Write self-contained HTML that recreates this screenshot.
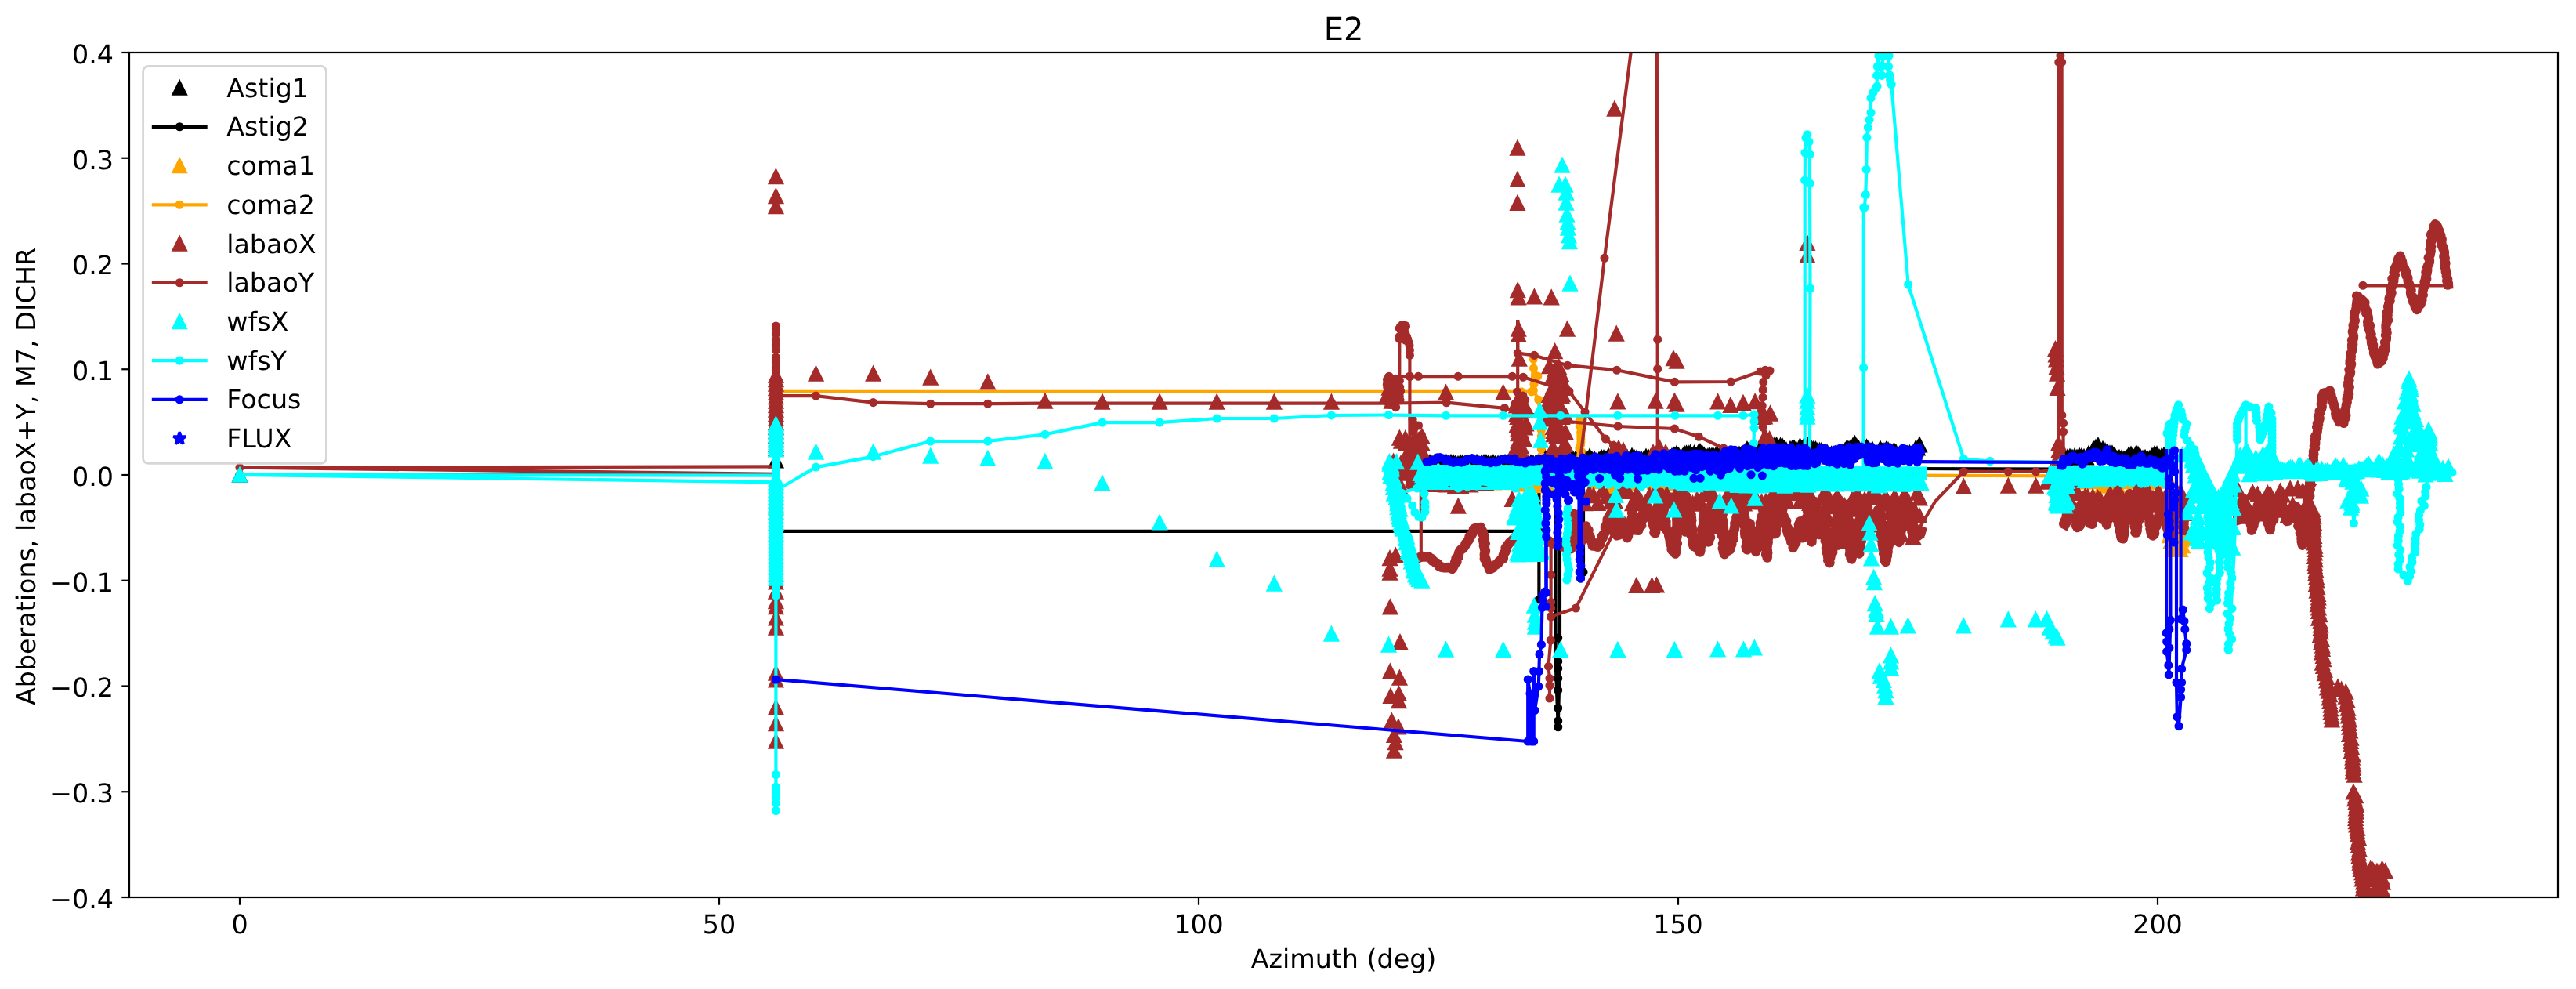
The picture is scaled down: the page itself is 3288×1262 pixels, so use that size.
<!DOCTYPE html><html><head><meta charset="utf-8"><title>E2</title>
<style>html,body{margin:0;padding:0;background:#fff}svg{display:block;will-change:transform}text{font-family:"DejaVu Sans","Liberation Sans",sans-serif;font-size:33.333px;fill:#000;text-rendering:geometricPrecision}</style></head><body>
<svg width="3288" height="1262" viewBox="0 0 3288 1262">
<rect width="3288" height="1262" fill="#fff"/>
<clipPath id="ax"><rect x="165.0" y="67.0" width="3100.0" height="1078.0"/></clipPath>
<g clip-path="url(#ax)">
<path d="M306 597.7l-8.3 16.7h16.7zM990.4 579.4l-8.3 16.7h16.7zM1822 582.5l-8.3 16.7h16.7zM1825 582.1l-8.3 16.7h16.7zM1828 583.3l-8.3 16.7h16.7zM1831 581.9l-8.3 16.7h16.7zM1834 583.1l-8.3 16.7h16.7zM1837 582.6l-8.3 16.7h16.7zM1840 581.9l-8.3 16.7h16.7zM1843 583l-8.3 16.7h16.7zM1846 581.9l-8.3 16.7h16.7zM1849 582.8l-8.3 16.7h16.7zM1852 581.9l-8.3 16.7h16.7zM1855 582l-8.3 16.7h16.7zM1858 582.8l-8.3 16.7h16.7zM1861 583.8l-8.3 16.7h16.7zM1864 582.1l-8.3 16.7h16.7zM1867 582.3l-8.3 16.7h16.7zM1870 583.3l-8.3 16.7h16.7zM1873 584l-8.3 16.7h16.7zM1876 583.2l-8.3 16.7h16.7zM1879 582.7l-8.3 16.7h16.7zM1882 584.1l-8.3 16.7h16.7zM1885 581.9l-8.3 16.7h16.7zM1888 583.8l-8.3 16.7h16.7zM1891 582.5l-8.3 16.7h16.7zM1894 582.1l-8.3 16.7h16.7zM1897 582l-8.3 16.7h16.7zM1900 582.5l-8.3 16.7h16.7zM1903 583.7l-8.3 16.7h16.7zM1906 582.2l-8.3 16.7h16.7zM1909 583.2l-8.3 16.7h16.7zM1912 583.3l-8.3 16.7h16.7zM1915 582.7l-8.3 16.7h16.7zM1918 583.1l-8.3 16.7h16.7zM1921 581.9l-8.3 16.7h16.7zM1924 581.9l-8.3 16.7h16.7zM1927 582.3l-8.3 16.7h16.7zM1930 583.4l-8.3 16.7h16.7zM1933 582.8l-8.3 16.7h16.7zM1936 582.5l-8.3 16.7h16.7zM1939 583.2l-8.3 16.7h16.7zM1942 582.9l-8.3 16.7h16.7zM1945 582.5l-8.3 16.7h16.7zM1948 583.7l-8.3 16.7h16.7zM1951 583.4l-8.3 16.7h16.7zM1954 582.4l-8.3 16.7h16.7zM1957 583.1l-8.3 16.7h16.7zM1960 583l-8.3 16.7h16.7zM1963 583.9l-8.3 16.7h16.7zM1966 583.5l-8.3 16.7h16.7zM1969 582.5l-8.3 16.7h16.7zM1972 584.1l-8.3 16.7h16.7zM1972 575.4l-8.3 16.7h16.7zM1975 577.1l-8.3 16.7h16.7zM1978 579.1l-8.3 16.7h16.7zM1981 575.5l-8.3 16.7h16.7zM1984 577.4l-8.3 16.7h16.7zM1987 574.7l-8.3 16.7h16.7zM1990 578.4l-8.3 16.7h16.7zM1993 579l-8.3 16.7h16.7zM1996 577.8l-8.3 16.7h16.7zM1999 579.6l-8.3 16.7h16.7zM2002 576.2l-8.3 16.7h16.7zM2005 578.4l-8.3 16.7h16.7zM2008 577.8l-8.3 16.7h16.7zM2011 577.6l-8.3 16.7h16.7zM2014 576.9l-8.3 16.7h16.7zM2017 579.1l-8.3 16.7h16.7zM2020 579.7l-8.3 16.7h16.7zM2023 576.9l-8.3 16.7h16.7zM2026 578l-8.3 16.7h16.7zM2029 574.3l-8.3 16.7h16.7zM2032 578.1l-8.3 16.7h16.7zM2035 577.7l-8.3 16.7h16.7zM2038 579.8l-8.3 16.7h16.7zM2041 578.7l-8.3 16.7h16.7zM2044 575.5l-8.3 16.7h16.7zM2047 576l-8.3 16.7h16.7zM2050 577.7l-8.3 16.7h16.7zM2053 573.8l-8.3 16.7h16.7zM2056 576.3l-8.3 16.7h16.7zM2059 574.5l-8.3 16.7h16.7zM2062 574.2l-8.3 16.7h16.7zM2065 573.8l-8.3 16.7h16.7zM2068 578l-8.3 16.7h16.7zM2071 574.1l-8.3 16.7h16.7zM2074 574.8l-8.3 16.7h16.7zM2077 575.6l-8.3 16.7h16.7zM2080 578.4l-8.3 16.7h16.7zM2083 573.6l-8.3 16.7h16.7zM2086 575.8l-8.3 16.7h16.7zM2089 576.3l-8.3 16.7h16.7zM2092 578.3l-8.3 16.7h16.7zM2095 577.9l-8.3 16.7h16.7zM2098 578.1l-8.3 16.7h16.7zM2101 574.5l-8.3 16.7h16.7zM2104 575.3l-8.3 16.7h16.7zM2107 574.9l-8.3 16.7h16.7zM2110 578l-8.3 16.7h16.7zM2113 578.4l-8.3 16.7h16.7zM2116 573.5l-8.3 16.7h16.7zM2119 573.6l-8.3 16.7h16.7zM2122 573.9l-8.3 16.7h16.7zM2125 573.9l-8.3 16.7h16.7zM2128 575.3l-8.3 16.7h16.7zM2131 575.9l-8.3 16.7h16.7zM2134 573.9l-8.3 16.7h16.7zM2137 572.3l-8.3 16.7h16.7zM2140 574.7l-8.3 16.7h16.7zM2140 570.5l-8.3 16.7h16.7zM2142.5 572.8l-8.3 16.7h16.7zM2145 576l-8.3 16.7h16.7zM2147.5 574.3l-8.3 16.7h16.7zM2150 570.6l-8.3 16.7h16.7zM2152.5 570.4l-8.3 16.7h16.7zM2155 570.1l-8.3 16.7h16.7zM2157.5 569.6l-8.3 16.7h16.7zM2160 573l-8.3 16.7h16.7zM2162.5 570.2l-8.3 16.7h16.7zM2165 573.2l-8.3 16.7h16.7zM2167.5 569.8l-8.3 16.7h16.7zM2170 568.1l-8.3 16.7h16.7zM2172.5 569.8l-8.3 16.7h16.7zM2175 572.4l-8.3 16.7h16.7zM2177.5 574l-8.3 16.7h16.7zM2180 574.1l-8.3 16.7h16.7zM2182.5 573.7l-8.3 16.7h16.7zM2185 573.4l-8.3 16.7h16.7zM2187.5 574.1l-8.3 16.7h16.7zM2190 572.9l-8.3 16.7h16.7zM2192.5 572.9l-8.3 16.7h16.7zM2195 573.6l-8.3 16.7h16.7zM2197.5 572.8l-8.3 16.7h16.7zM2200 573.9l-8.3 16.7h16.7zM2202.5 574.3l-8.3 16.7h16.7zM2205 577.9l-8.3 16.7h16.7zM2207.5 577.2l-8.3 16.7h16.7zM2210 574.8l-8.3 16.7h16.7zM2212.5 572.8l-8.3 16.7h16.7zM2215 572l-8.3 16.7h16.7zM2217.5 573.4l-8.3 16.7h16.7zM2220 571.6l-8.3 16.7h16.7zM2222.5 571.8l-8.3 16.7h16.7zM2225 575.3l-8.3 16.7h16.7zM2227.5 568l-8.3 16.7h16.7zM2230 565.2l-8.3 16.7h16.7zM2232.5 565.9l-8.3 16.7h16.7zM2235 566.8l-8.3 16.7h16.7zM2237.5 567.2l-8.3 16.7h16.7zM2240 566l-8.3 16.7h16.7zM2242.5 567.5l-8.3 16.7h16.7zM2245 567.8l-8.3 16.7h16.7zM2247.5 566.2l-8.3 16.7h16.7zM2250 571.7l-8.3 16.7h16.7zM2252.5 571.5l-8.3 16.7h16.7zM2255 569.2l-8.3 16.7h16.7zM2257.5 568.3l-8.3 16.7h16.7zM2260 567.2l-8.3 16.7h16.7zM2262.5 566.8l-8.3 16.7h16.7zM2265 560.2l-8.3 16.7h16.7zM2267.5 559.9l-8.3 16.7h16.7zM2270 563l-8.3 16.7h16.7zM2272.5 560.7l-8.3 16.7h16.7zM2275 561.2l-8.3 16.7h16.7zM2277.5 564l-8.3 16.7h16.7zM2280 566.2l-8.3 16.7h16.7zM2282.5 569.5l-8.3 16.7h16.7zM2285 564.9l-8.3 16.7h16.7zM2287.5 564.2l-8.3 16.7h16.7zM2290 563.5l-8.3 16.7h16.7zM2292.5 565.2l-8.3 16.7h16.7zM2295 567.8l-8.3 16.7h16.7zM2297.5 561.2l-8.3 16.7h16.7zM2300 564.3l-8.3 16.7h16.7zM2302.5 561.1l-8.3 16.7h16.7zM2305 563.3l-8.3 16.7h16.7zM2307.5 560.2l-8.3 16.7h16.7zM2310 561.3l-8.3 16.7h16.7zM2312.5 564.7l-8.3 16.7h16.7zM2315 564.4l-8.3 16.7h16.7zM2317.5 565l-8.3 16.7h16.7zM2320 566.8l-8.3 16.7h16.7zM2322.5 566.9l-8.3 16.7h16.7zM2325 566.5l-8.3 16.7h16.7zM2327.5 569.8l-8.3 16.7h16.7zM2330 571.5l-8.3 16.7h16.7zM2332.5 569.9l-8.3 16.7h16.7zM2335 574.3l-8.3 16.7h16.7zM2337.5 571.3l-8.3 16.7h16.7zM2340 572.5l-8.3 16.7h16.7zM2342.5 570.8l-8.3 16.7h16.7zM2345 570.3l-8.3 16.7h16.7zM2347.5 571.1l-8.3 16.7h16.7zM2350 570.8l-8.3 16.7h16.7zM2352.5 571.4l-8.3 16.7h16.7zM2355 566.9l-8.3 16.7h16.7zM2357.5 563.2l-8.3 16.7h16.7zM2360 564.9l-8.3 16.7h16.7zM2362.5 562.7l-8.3 16.7h16.7zM2365 560.7l-8.3 16.7h16.7zM2367.5 557.9l-8.3 16.7h16.7zM2370 561.9l-8.3 16.7h16.7zM2372.5 564.1l-8.3 16.7h16.7zM2375 567.7l-8.3 16.7h16.7zM2377.5 565.1l-8.3 16.7h16.7zM2380 565.1l-8.3 16.7h16.7zM2382.5 562.4l-8.3 16.7h16.7zM2385 564.6l-8.3 16.7h16.7zM2387.5 568.3l-8.3 16.7h16.7zM2390 565.7l-8.3 16.7h16.7zM2392.5 569.2l-8.3 16.7h16.7zM2395 570.9l-8.3 16.7h16.7zM2397.5 569.5l-8.3 16.7h16.7zM2400 564.3l-8.3 16.7h16.7zM2402.5 567.6l-8.3 16.7h16.7zM2405 567l-8.3 16.7h16.7zM2407.5 565.3l-8.3 16.7h16.7zM2410 566.1l-8.3 16.7h16.7zM2412.5 566.9l-8.3 16.7h16.7zM2415 570l-8.3 16.7h16.7zM2417.5 566.9l-8.3 16.7h16.7zM2420 569.2l-8.3 16.7h16.7zM2422.5 572l-8.3 16.7h16.7zM2425 573.9l-8.3 16.7h16.7zM2427.5 572.4l-8.3 16.7h16.7zM2430 569.5l-8.3 16.7h16.7zM2432.5 571.1l-8.3 16.7h16.7zM2435 570.4l-8.3 16.7h16.7zM2437.5 569.9l-8.3 16.7h16.7zM2440 572.4l-8.3 16.7h16.7zM2442.5 570.6l-8.3 16.7h16.7zM2445 564.4l-8.3 16.7h16.7zM2447.5 563.5l-8.3 16.7h16.7zM2450 559.4l-8.3 16.7h16.7zM2633 578.8l-8.3 16.7h16.7zM2636 578l-8.3 16.7h16.7zM2639 575.2l-8.3 16.7h16.7zM2642 574.5l-8.3 16.7h16.7zM2645 575.5l-8.3 16.7h16.7zM2648 574.1l-8.3 16.7h16.7zM2651 575.6l-8.3 16.7h16.7zM2654 573.3l-8.3 16.7h16.7zM2657 573.9l-8.3 16.7h16.7zM2660 574.8l-8.3 16.7h16.7zM2663 575.4l-8.3 16.7h16.7zM2666 570.7l-8.3 16.7h16.7zM2669 570.8l-8.3 16.7h16.7zM2672 564.7l-8.3 16.7h16.7zM2675 562.5l-8.3 16.7h16.7zM2678 560.1l-8.3 16.7h16.7zM2681 565.9l-8.3 16.7h16.7zM2684 564.8l-8.3 16.7h16.7zM2687 567.2l-8.3 16.7h16.7zM2690 568.7l-8.3 16.7h16.7zM2693 570.3l-8.3 16.7h16.7zM2696 570.4l-8.3 16.7h16.7zM2699 572.7l-8.3 16.7h16.7zM2702 577.1l-8.3 16.7h16.7zM2705 575.9l-8.3 16.7h16.7zM2708 576.3l-8.3 16.7h16.7zM2711 577.5l-8.3 16.7h16.7zM2714 575.8l-8.3 16.7h16.7zM2717 572.5l-8.3 16.7h16.7zM2720 572.1l-8.3 16.7h16.7zM2723 575.3l-8.3 16.7h16.7zM2726 571.5l-8.3 16.7h16.7zM2729 571.5l-8.3 16.7h16.7zM2732 574.9l-8.3 16.7h16.7zM2735 576.6l-8.3 16.7h16.7zM2738 575.9l-8.3 16.7h16.7zM2741 577.3l-8.3 16.7h16.7zM2744 576.7l-8.3 16.7h16.7zM2747 573.6l-8.3 16.7h16.7zM2750 571l-8.3 16.7h16.7zM2753 571.4l-8.3 16.7h16.7zM2756 575l-8.3 16.7h16.7zM2759 574l-8.3 16.7h16.7zM2762 572.7l-8.3 16.7h16.7zM2765 572.3l-8.3 16.7h16.7zM2768 570.5l-8.3 16.7h16.7zM2676.5 564.7l-8.3 16.7h16.7zM2727 570.7l-8.3 16.7h16.7zM2720 571.7l-8.3 16.7h16.7z" fill="#000000" stroke="#000000" stroke-width="2.78" stroke-linejoin="miter"/>
<path d="M306 606L990.4 606L990.4 677.8L1964.4 677.8L1964.4 765L1964.4 592" fill="none" stroke="#000000" stroke-width="4.17" stroke-linejoin="round" stroke-linecap="square"/>
<path d="M306 606h0M990.4 606h0M990.4 677.8h0M1964.4 677.8h0M1964.4 765h0M1964.4 592h0" fill="none" stroke="#000000" stroke-width="11.11" stroke-linecap="round"/>
<path d="M1985.6 592L1985.6 841L1988.7 927.7L1991 841L1991 592" fill="none" stroke="#000000" stroke-width="4.17" stroke-linejoin="round" stroke-linecap="square"/>
<path d="M1988.7 814h0M1988.7 844h0M1988.7 853h0M1988.7 865.6h0M1988.7 880.7h0M1988.7 903.5h0M1988.7 920h0M1988.7 927.7h0" fill="none" stroke="#000000" stroke-width="11.11" stroke-linecap="round"/>
<path d="M2017.5 592L2017.5 738L2021 730L2021 592" fill="none" stroke="#000000" stroke-width="4.17" stroke-linejoin="round" stroke-linecap="square"/>
<path d="M2017.5 592h0M2017.5 738h0M2021 730h0M2021 592h0" fill="none" stroke="#000000" stroke-width="11.11" stroke-linecap="round"/>
<path d="M2440 598L2640 598.6" fill="none" stroke="#000000" stroke-width="4.17" stroke-linejoin="round" stroke-linecap="square"/>
<path d="M990.4 638.7l-8.3 16.7h16.7zM990.4 631.7l-8.3 16.7h16.7zM1822 602.3l-8.3 16.7h16.7zM1827 598.5l-8.3 16.7h16.7zM1832 603.9l-8.3 16.7h16.7zM1837 594.4l-8.3 16.7h16.7zM1842 603.8l-8.3 16.7h16.7zM1847 600.4l-8.3 16.7h16.7zM1852 595.9l-8.3 16.7h16.7zM1857 605.2l-8.3 16.7h16.7zM1862 601.7l-8.3 16.7h16.7zM1867 594.9l-8.3 16.7h16.7zM1872 599.6l-8.3 16.7h16.7zM1877 603.7l-8.3 16.7h16.7zM1882 601.1l-8.3 16.7h16.7zM1887 605.4l-8.3 16.7h16.7zM1892 605.3l-8.3 16.7h16.7zM1897 605l-8.3 16.7h16.7zM1902 603.8l-8.3 16.7h16.7zM1907 607.3l-8.3 16.7h16.7zM1912 605l-8.3 16.7h16.7zM1917 604.2l-8.3 16.7h16.7zM1922 595.4l-8.3 16.7h16.7zM1927 605.8l-8.3 16.7h16.7zM1932 607.2l-8.3 16.7h16.7zM1937 601.6l-8.3 16.7h16.7zM1942 601l-8.3 16.7h16.7zM1947 609.5l-8.3 16.7h16.7zM1952 596.5l-8.3 16.7h16.7zM1957 604.3l-8.3 16.7h16.7zM1962 611.2l-8.3 16.7h16.7zM1967 599.4l-8.3 16.7h16.7zM1972 605.1l-8.3 16.7h16.7zM1977 609.3l-8.3 16.7h16.7zM1982 602.2l-8.3 16.7h16.7zM1987 604.6l-8.3 16.7h16.7zM1992 605.8l-8.3 16.7h16.7zM1997 599.5l-8.3 16.7h16.7zM2002 602.4l-8.3 16.7h16.7zM2007 603.7l-8.3 16.7h16.7zM2012 605.6l-8.3 16.7h16.7zM2017 602.5l-8.3 16.7h16.7zM2022 602l-8.3 16.7h16.7zM2027 599.1l-8.3 16.7h16.7zM2032 601.4l-8.3 16.7h16.7zM2037 605.8l-8.3 16.7h16.7zM2042 603l-8.3 16.7h16.7zM2047 599.7l-8.3 16.7h16.7zM2052 599.7l-8.3 16.7h16.7zM2057 612l-8.3 16.7h16.7zM2062 606.7l-8.3 16.7h16.7zM2067 604.9l-8.3 16.7h16.7zM2072 593.6l-8.3 16.7h16.7zM2077 604.8l-8.3 16.7h16.7zM2082 604.3l-8.3 16.7h16.7zM2087 608.6l-8.3 16.7h16.7zM2092 604.2l-8.3 16.7h16.7zM2097 602.4l-8.3 16.7h16.7zM2102 604.5l-8.3 16.7h16.7zM2107 595.9l-8.3 16.7h16.7zM2112 606.3l-8.3 16.7h16.7zM2117 603.8l-8.3 16.7h16.7zM2122 600.2l-8.3 16.7h16.7zM2127 607.3l-8.3 16.7h16.7zM2132 609l-8.3 16.7h16.7zM2137 597.8l-8.3 16.7h16.7zM2142 600.3l-8.3 16.7h16.7zM2147 603.7l-8.3 16.7h16.7zM2152 603.3l-8.3 16.7h16.7zM2157 601.3l-8.3 16.7h16.7zM2162 599.3l-8.3 16.7h16.7zM2167 610.1l-8.3 16.7h16.7zM2172 606.3l-8.3 16.7h16.7zM2177 598.5l-8.3 16.7h16.7zM2182 598l-8.3 16.7h16.7zM2187 608.6l-8.3 16.7h16.7zM2192 606.1l-8.3 16.7h16.7zM2197 609l-8.3 16.7h16.7zM2202 605.5l-8.3 16.7h16.7zM2207 599.6l-8.3 16.7h16.7zM2212 603.6l-8.3 16.7h16.7zM2217 595.1l-8.3 16.7h16.7zM2222 600l-8.3 16.7h16.7zM2227 602.5l-8.3 16.7h16.7zM2232 604.5l-8.3 16.7h16.7zM2237 600.1l-8.3 16.7h16.7zM2242 602.2l-8.3 16.7h16.7zM2247 604.3l-8.3 16.7h16.7zM2252 604l-8.3 16.7h16.7zM2257 604.9l-8.3 16.7h16.7zM2262 603.4l-8.3 16.7h16.7zM2267 601.5l-8.3 16.7h16.7zM2272 605.4l-8.3 16.7h16.7zM2277 602.8l-8.3 16.7h16.7zM2282 599.8l-8.3 16.7h16.7zM2287 600.5l-8.3 16.7h16.7zM2292 602.7l-8.3 16.7h16.7zM2297 602.3l-8.3 16.7h16.7zM2302 603.2l-8.3 16.7h16.7zM2307 602.7l-8.3 16.7h16.7zM2312 603.3l-8.3 16.7h16.7zM2317 602.2l-8.3 16.7h16.7zM2322 598.3l-8.3 16.7h16.7zM2327 604.1l-8.3 16.7h16.7zM2332 606.4l-8.3 16.7h16.7zM2337 604.2l-8.3 16.7h16.7zM2342 602l-8.3 16.7h16.7zM2347 604.2l-8.3 16.7h16.7zM2352 599.3l-8.3 16.7h16.7zM2357 596l-8.3 16.7h16.7zM2362 602.9l-8.3 16.7h16.7zM2367 599.4l-8.3 16.7h16.7zM2372 605.3l-8.3 16.7h16.7zM2377 598.9l-8.3 16.7h16.7zM2382 593.5l-8.3 16.7h16.7zM2387 599l-8.3 16.7h16.7zM2392 608.2l-8.3 16.7h16.7zM2397 601.3l-8.3 16.7h16.7zM2402 597.9l-8.3 16.7h16.7zM2407 600l-8.3 16.7h16.7zM2412 604.5l-8.3 16.7h16.7zM2417 604.4l-8.3 16.7h16.7zM2422 603.3l-8.3 16.7h16.7zM2427 607.9l-8.3 16.7h16.7zM2432 605.1l-8.3 16.7h16.7zM2437 602.6l-8.3 16.7h16.7zM2442 604.8l-8.3 16.7h16.7zM2447 608.5l-8.3 16.7h16.7zM2633 606.1l-8.3 16.7h16.7zM2638 606.3l-8.3 16.7h16.7zM2643 598.9l-8.3 16.7h16.7zM2648 602.1l-8.3 16.7h16.7zM2653 605.2l-8.3 16.7h16.7zM2658 601.6l-8.3 16.7h16.7zM2663 606.4l-8.3 16.7h16.7zM2668 604.8l-8.3 16.7h16.7zM2673 605.8l-8.3 16.7h16.7zM2678 601.9l-8.3 16.7h16.7zM2683 611.6l-8.3 16.7h16.7zM2688 607l-8.3 16.7h16.7zM2693 601.9l-8.3 16.7h16.7zM2698 603l-8.3 16.7h16.7zM2703 611.8l-8.3 16.7h16.7zM2708 601.5l-8.3 16.7h16.7zM2713 605.7l-8.3 16.7h16.7zM2718 606.1l-8.3 16.7h16.7zM2723 602.7l-8.3 16.7h16.7zM2728 598.6l-8.3 16.7h16.7zM2733 603.3l-8.3 16.7h16.7zM2738 603.9l-8.3 16.7h16.7zM2743 606.6l-8.3 16.7h16.7zM2748 605.4l-8.3 16.7h16.7zM2753 602.8l-8.3 16.7h16.7zM2758 605.7l-8.3 16.7h16.7zM2763 604.6l-8.3 16.7h16.7zM2768 603.4l-8.3 16.7h16.7zM2774.7 654.6l-8.3 16.7h16.7zM2780.9 658.4l-8.3 16.7h16.7zM2784.5 661.5l-8.3 16.7h16.7zM2783.8 665l-8.3 16.7h16.7zM2776.6 665.4l-8.3 16.7h16.7zM2789.7 667.3l-8.3 16.7h16.7zM2783.9 671.8l-8.3 16.7h16.7zM2769 675.2l-8.3 16.7h16.7zM2787.6 677l-8.3 16.7h16.7zM2784.1 680.3l-8.3 16.7h16.7zM2771.1 681.8l-8.3 16.7h16.7zM2779.1 685.6l-8.3 16.7h16.7zM2785.7 688.2l-8.3 16.7h16.7zM2780.8 691l-8.3 16.7h16.7zM2783 692.8l-8.3 16.7h16.7zM2773.1 692.8l-8.3 16.7h16.7z" fill="#ffa500" stroke="#ffa500" stroke-width="2.78" stroke-linejoin="miter"/>
<path d="M990.4 499.9L1942 499.9L1955 499.9L1957.3 458.2L1957.5 470L1962.8 480L1958 490L1957.3 498.3L1963.7 510L1965.5 530L1967.3 549L1967.3 557L1967.3 565L1967.3 573L1967.3 582L1970 606" fill="none" stroke="#ffa500" stroke-width="4.17" stroke-linejoin="round" stroke-linecap="square"/>
<path d="M1942 499.9h0M1955 499.9h0M1957.3 458.2h0M1957.5 470h0M1962.8 480h0M1958 490h0M1957.3 498.3h0M1963.7 510h0M1965.5 530h0M1967.3 549h0M1967.3 557h0M1967.3 565h0M1967.3 573h0M1967.3 582h0M1970 606h0" fill="none" stroke="#ffa500" stroke-width="11.11" stroke-linecap="round"/>
<path d="M2014 606L2016 536L2018 606" fill="none" stroke="#ffa500" stroke-width="4.17" stroke-linejoin="round" stroke-linecap="square"/>
<path d="M2016.3 536h0M2017 540h0M2016.2 544h0M2018.4 548h0M2017.6 552h0M2017.8 556h0M2017.8 560h0M2017.9 564h0M2017.4 568h0M2015.9 572h0M2018.3 576h0M2018.1 580h0M2017.4 584h0" fill="none" stroke="#ffa500" stroke-width="11.11" stroke-linecap="round"/>
<path d="M1970 608L2451 608L2451 606.7L2640 607.4L2768 608" fill="none" stroke="#ffa500" stroke-width="4.17" stroke-linejoin="round" stroke-linecap="square"/>
<path d="M990.4 217.2l-8.3 16.7h16.7zM990.4 242.1l-8.3 16.7h16.7zM990.4 255.1l-8.3 16.7h16.7zM990.4 470.7l-8.3 16.7h16.7zM990.4 476.2l-8.3 16.7h16.7zM990.4 481.7l-8.3 16.7h16.7zM990.4 487.2l-8.3 16.7h16.7zM990.4 492.7l-8.3 16.7h16.7zM990.4 498.2l-8.3 16.7h16.7zM990.4 503.7l-8.3 16.7h16.7zM990.4 509.2l-8.3 16.7h16.7zM990.4 514.7l-8.3 16.7h16.7zM990.4 520.2l-8.3 16.7h16.7zM990.4 525.7l-8.3 16.7h16.7zM990.4 531.2l-8.3 16.7h16.7zM990.4 536.7l-8.3 16.7h16.7zM990.4 542.2l-8.3 16.7h16.7zM990.4 547.7l-8.3 16.7h16.7zM990.4 553.2l-8.3 16.7h16.7zM990.4 558.7l-8.3 16.7h16.7zM990.4 564.2l-8.3 16.7h16.7zM990.4 734.4l-8.3 16.7h16.7zM990.4 746.7l-8.3 16.7h16.7zM990.4 759.1l-8.3 16.7h16.7zM990.4 766.2l-8.3 16.7h16.7zM990.4 780.4l-8.3 16.7h16.7zM990.4 792.7l-8.3 16.7h16.7zM990.4 850.6l-8.3 16.7h16.7zM990.4 859.3l-8.3 16.7h16.7zM990.4 894.5l-8.3 16.7h16.7zM990.4 915.1l-8.3 16.7h16.7zM990.4 937.7l-8.3 16.7h16.7zM1041.5 468.6l-8.3 16.7h16.7zM1114.6 468.6l-8.3 16.7h16.7zM1187.7 473.7l-8.3 16.7h16.7zM1260.8 479.3l-8.3 16.7h16.7zM1333.9 503.7l-8.3 16.7h16.7zM1407 504.6l-8.3 16.7h16.7zM1480.1 504.6l-8.3 16.7h16.7zM1553.2 504.6l-8.3 16.7h16.7zM1626.3 504.6l-8.3 16.7h16.7zM1699.4 504.6l-8.3 16.7h16.7zM1772.5 496.7l-8.3 16.7h16.7zM1845.6 492.7l-8.3 16.7h16.7zM1918.7 492.7l-8.3 16.7h16.7zM2064.9 504.4l-8.3 16.7h16.7zM2113.1 503.6l-8.3 16.7h16.7zM2137.4 503.7l-8.3 16.7h16.7zM2192.6 504.4l-8.3 16.7h16.7zM2208.8 508.8l-8.3 16.7h16.7zM2225 505.8l-8.3 16.7h16.7zM2240.1 504.2l-8.3 16.7h16.7zM1770 496.7l-8.3 16.7h16.7zM1773 486.7l-8.3 16.7h16.7zM1776 503.7l-8.3 16.7h16.7zM1774 704.2l-8.3 16.7h16.7zM1781.4 700.5l-8.3 16.7h16.7zM1774 717.7l-8.3 16.7h16.7zM1774 722.7l-8.3 16.7h16.7zM1774.3 766.3l-8.3 16.7h16.7zM1787 811.2l-8.3 16.7h16.7zM1774.3 848.7l-8.3 16.7h16.7zM1786.4 856.7l-8.3 16.7h16.7zM1774.9 880l-8.3 16.7h16.7zM1785.5 877l-8.3 16.7h16.7zM1785.5 886.1l-8.3 16.7h16.7zM1776.4 911.7l-8.3 16.7h16.7zM1784.9 919.4l-8.3 16.7h16.7zM1779.4 930l-8.3 16.7h16.7zM1781 939.1l-8.3 16.7h16.7zM1779.4 949.7l-8.3 16.7h16.7zM1802.6 579.3l-8.3 16.7h16.7zM1788 583l-8.3 16.7h16.7zM1793.8 551.2l-8.3 16.7h16.7zM1794.2 582.7l-8.3 16.7h16.7zM1792.4 583.2l-8.3 16.7h16.7zM1816.2 571.4l-8.3 16.7h16.7zM1797.9 570.7l-8.3 16.7h16.7zM1807.2 584.5l-8.3 16.7h16.7zM1805.1 578.5l-8.3 16.7h16.7zM1788.4 554.7l-8.3 16.7h16.7zM1793.9 583.3l-8.3 16.7h16.7zM1795.4 574.9l-8.3 16.7h16.7zM1786.4 550.6l-8.3 16.7h16.7zM1794.3 579.9l-8.3 16.7h16.7zM1807.5 580.1l-8.3 16.7h16.7zM1795 572.5l-8.3 16.7h16.7zM1800.4 570.1l-8.3 16.7h16.7zM1789.7 590.6l-8.3 16.7h16.7zM1792.2 594.6l-8.3 16.7h16.7zM1815 548.5l-8.3 16.7h16.7zM1800.2 587l-8.3 16.7h16.7zM1816 569.2l-8.3 16.7h16.7zM1794.3 557.7l-8.3 16.7h16.7zM1815.3 557.8l-8.3 16.7h16.7zM1804 554.5l-8.3 16.7h16.7zM1802.2 593.4l-8.3 16.7h16.7zM1790.1 587l-8.3 16.7h16.7zM1801.8 590.2l-8.3 16.7h16.7zM1807.8 558.8l-8.3 16.7h16.7zM1813.8 571l-8.3 16.7h16.7zM1800.4 595.7l-8.3 16.7h16.7zM1807.4 603.8l-8.3 16.7h16.7zM1804.5 598.2l-8.3 16.7h16.7zM1805.2 601.4l-8.3 16.7h16.7zM1812.6 595.7l-8.3 16.7h16.7zM1787 610.2l-8.3 16.7h16.7zM1779.4 613.7l-8.3 16.7h16.7zM1786.6 612.7l-8.3 16.7h16.7zM1781.5 591.6l-8.3 16.7h16.7zM1782.7 616.6l-8.3 16.7h16.7zM1785.1 591.1l-8.3 16.7h16.7zM1783.1 587.7l-8.3 16.7h16.7zM1778.6 580.7l-8.3 16.7h16.7zM1936.9 180.6l-8.3 16.7h16.7zM1936.9 220.8l-8.3 16.7h16.7zM1936.9 250.8l-8.3 16.7h16.7zM1937.2 362.2l-8.3 16.7h16.7zM1938 371.3l-8.3 16.7h16.7zM1938.2 411.7l-8.3 16.7h16.7zM1938.2 418.8l-8.3 16.7h16.7zM1939.2 449.7l-8.3 16.7h16.7zM1945.7 514.5l-8.3 16.7h16.7zM1947.1 510.6l-8.3 16.7h16.7zM1937.7 538.9l-8.3 16.7h16.7zM1936.7 524l-8.3 16.7h16.7zM1947.4 579.2l-8.3 16.7h16.7zM1945.4 551.8l-8.3 16.7h16.7zM1946.8 585.3l-8.3 16.7h16.7zM1941.7 561.4l-8.3 16.7h16.7zM1934.7 562.8l-8.3 16.7h16.7zM1940.3 565l-8.3 16.7h16.7zM1943 514.6l-8.3 16.7h16.7zM1934.7 583.8l-8.3 16.7h16.7zM1935.8 534.7l-8.3 16.7h16.7zM1938.8 515.8l-8.3 16.7h16.7zM1944.3 589.1l-8.3 16.7h16.7zM1937.6 554.5l-8.3 16.7h16.7zM1938.2 543.9l-8.3 16.7h16.7zM1939.5 501.7l-8.3 16.7h16.7zM1936.3 506.1l-8.3 16.7h16.7zM1946.7 537.4l-8.3 16.7h16.7zM1937.1 581.5l-8.3 16.7h16.7zM1948 532.3l-8.3 16.7h16.7zM1936 504.4l-8.3 16.7h16.7zM1935.3 520.6l-8.3 16.7h16.7zM1935.3 509.5l-8.3 16.7h16.7zM1937.6 545.2l-8.3 16.7h16.7zM1958.4 370.4l-8.3 16.7h16.7zM1980.2 371.4l-8.3 16.7h16.7zM2000.5 411.6l-8.3 16.7h16.7zM2063.2 417.6l-8.3 16.7h16.7zM1984.7 440.1l-8.3 16.7h16.7zM2136 449.2l-8.3 16.7h16.7zM2140 452.7l-8.3 16.7h16.7zM2140 507.7l-8.3 16.7h16.7zM2060.8 130.6l-8.3 16.7h16.7zM1997.4 557.4l-8.3 16.7h16.7zM1986.5 511.4l-8.3 16.7h16.7zM1989.1 506.3l-8.3 16.7h16.7zM1984.8 463.2l-8.3 16.7h16.7zM1983.4 587.2l-8.3 16.7h16.7zM1979.9 523.6l-8.3 16.7h16.7zM1991.5 572.9l-8.3 16.7h16.7zM1982 491.8l-8.3 16.7h16.7zM1982.7 509.4l-8.3 16.7h16.7zM1987.3 585.4l-8.3 16.7h16.7zM1996.5 574.3l-8.3 16.7h16.7zM1977.5 459.1l-8.3 16.7h16.7zM1993.3 577.4l-8.3 16.7h16.7zM1987.9 535.1l-8.3 16.7h16.7zM1977 508.3l-8.3 16.7h16.7zM1998.3 567.8l-8.3 16.7h16.7zM1996.7 587.9l-8.3 16.7h16.7zM1982.7 469.6l-8.3 16.7h16.7zM1980.6 526.2l-8.3 16.7h16.7zM1992.7 583.7l-8.3 16.7h16.7zM1993.6 543.4l-8.3 16.7h16.7zM1994.6 517.3l-8.3 16.7h16.7zM1989.7 460.1l-8.3 16.7h16.7zM1995 486.5l-8.3 16.7h16.7zM1998.2 543.1l-8.3 16.7h16.7zM1984 472.2l-8.3 16.7h16.7zM1982.8 541.8l-8.3 16.7h16.7zM1993.1 470l-8.3 16.7h16.7zM1978.6 526.5l-8.3 16.7h16.7zM1990.4 507.8l-8.3 16.7h16.7zM1982.1 537l-8.3 16.7h16.7zM1977.2 496l-8.3 16.7h16.7zM1987.6 586l-8.3 16.7h16.7zM1991.8 575.7l-8.3 16.7h16.7zM1987.9 486.8l-8.3 16.7h16.7zM1982.7 586.3l-8.3 16.7h16.7zM1993.2 496.8l-8.3 16.7h16.7zM1977.5 522.9l-8.3 16.7h16.7zM1992.5 512.2l-8.3 16.7h16.7zM1982.9 546.1l-8.3 16.7h16.7zM1998.3 485.7l-8.3 16.7h16.7zM1977.8 501l-8.3 16.7h16.7zM1986.7 548.2l-8.3 16.7h16.7zM1981.6 563.9l-8.3 16.7h16.7zM1994 523.8l-8.3 16.7h16.7zM1981.7 587.5l-8.3 16.7h16.7zM1984.2 567l-8.3 16.7h16.7zM1982.3 485l-8.3 16.7h16.7zM1994.5 495.1l-8.3 16.7h16.7zM1998.9 522.6l-8.3 16.7h16.7zM1861.3 637.7l-8.3 16.7h16.7zM1930.1 628.8l-8.3 16.7h16.7zM2306.8 302l-8.3 16.7h16.7zM2306.8 317.7l-8.3 16.7h16.7zM2250.2 523.9l-8.3 16.7h16.7zM2253 548.3l-8.3 16.7h16.7zM2259.4 519.7l-8.3 16.7h16.7zM2252.7 523.4l-8.3 16.7h16.7zM2259.7 519.5l-8.3 16.7h16.7zM2248.6 515l-8.3 16.7h16.7zM2252.7 561.1l-8.3 16.7h16.7zM2258.6 552l-8.3 16.7h16.7zM2260 562.9l-8.3 16.7h16.7zM2060 564.8l-8.3 16.7h16.7zM2066 563.7l-8.3 16.7h16.7zM2072 566.4l-8.3 16.7h16.7zM2110 569.2l-8.3 16.7h16.7zM2118 562.7l-8.3 16.7h16.7zM2126 569l-8.3 16.7h16.7zM1825 609.3l-8.3 16.7h16.7zM1829 607.3l-8.3 16.7h16.7zM1833 610l-8.3 16.7h16.7zM1837 608.1l-8.3 16.7h16.7zM1841 609.7l-8.3 16.7h16.7zM1845 610.3l-8.3 16.7h16.7zM1849 608.7l-8.3 16.7h16.7zM1853 605.7l-8.3 16.7h16.7zM1857 612.7l-8.3 16.7h16.7zM1861 612.3l-8.3 16.7h16.7zM1865 612.3l-8.3 16.7h16.7zM1869 609.2l-8.3 16.7h16.7zM1873 610.5l-8.3 16.7h16.7zM1877 610.3l-8.3 16.7h16.7zM1881 605.3l-8.3 16.7h16.7zM1885 608.1l-8.3 16.7h16.7zM1889 608.9l-8.3 16.7h16.7zM1893 606.8l-8.3 16.7h16.7zM1897 609l-8.3 16.7h16.7zM2023 634.2l-8.3 16.7h16.7zM2028.5 621.1l-8.3 16.7h16.7zM2034 624.2l-8.3 16.7h16.7zM2039.5 633.8l-8.3 16.7h16.7zM2045 618.2l-8.3 16.7h16.7zM2050.5 625.1l-8.3 16.7h16.7zM2056 632.3l-8.3 16.7h16.7zM2061.5 631.5l-8.3 16.7h16.7zM2067 618.4l-8.3 16.7h16.7zM2072.5 618.3l-8.3 16.7h16.7zM2078 618.8l-8.3 16.7h16.7zM2083.5 634.2l-8.3 16.7h16.7zM2089 622.3l-8.3 16.7h16.7zM2094.5 631.1l-8.3 16.7h16.7zM2100 633.8l-8.3 16.7h16.7zM2105.5 623.8l-8.3 16.7h16.7zM2111 622.6l-8.3 16.7h16.7zM2116.5 634.9l-8.3 16.7h16.7zM2122 628.8l-8.3 16.7h16.7zM2127.5 622.4l-8.3 16.7h16.7zM2133 630.6l-8.3 16.7h16.7zM2138.5 623.4l-8.3 16.7h16.7zM2144 622.6l-8.3 16.7h16.7zM2149.5 617.7l-8.3 16.7h16.7zM2155 631.3l-8.3 16.7h16.7zM2160.5 634.2l-8.3 16.7h16.7zM2166 629.1l-8.3 16.7h16.7zM2171.5 634.6l-8.3 16.7h16.7zM2177 618.1l-8.3 16.7h16.7zM2182.5 621.9l-8.3 16.7h16.7zM2188 626.2l-8.3 16.7h16.7zM2193.5 634.9l-8.3 16.7h16.7zM2199 634.8l-8.3 16.7h16.7zM2204.5 624.6l-8.3 16.7h16.7zM2210 622.2l-8.3 16.7h16.7zM2215.5 625.4l-8.3 16.7h16.7zM2221 626.5l-8.3 16.7h16.7zM2226.5 634.4l-8.3 16.7h16.7zM2232 621l-8.3 16.7h16.7zM2237.5 632.1l-8.3 16.7h16.7zM2243 631l-8.3 16.7h16.7zM2248.5 632.5l-8.3 16.7h16.7zM2254 631.6l-8.3 16.7h16.7zM2259.5 628.6l-8.3 16.7h16.7zM2265 623.6l-8.3 16.7h16.7zM2270.5 623.4l-8.3 16.7h16.7zM2276 624.2l-8.3 16.7h16.7zM2281.5 631.7l-8.3 16.7h16.7zM2287 619.1l-8.3 16.7h16.7zM2292.5 621.2l-8.3 16.7h16.7zM2298 631.2l-8.3 16.7h16.7zM2300 626.1l-8.3 16.7h16.7zM2303.2 621.4l-8.3 16.7h16.7zM2306.4 620.5l-8.3 16.7h16.7zM2309.6 634l-8.3 16.7h16.7zM2312.8 628.1l-8.3 16.7h16.7zM2316 645.2l-8.3 16.7h16.7zM2319.2 642.6l-8.3 16.7h16.7zM2322.4 645.4l-8.3 16.7h16.7zM2325.6 626.6l-8.3 16.7h16.7zM2328.8 621.9l-8.3 16.7h16.7zM2332 622.2l-8.3 16.7h16.7zM2335.2 632.6l-8.3 16.7h16.7zM2338.4 638.1l-8.3 16.7h16.7zM2341.6 631.3l-8.3 16.7h16.7zM2344.8 625.8l-8.3 16.7h16.7zM2348 630.5l-8.3 16.7h16.7zM2351.2 635.8l-8.3 16.7h16.7zM2354.4 637.2l-8.3 16.7h16.7zM2357.6 639.1l-8.3 16.7h16.7zM2360.8 641.7l-8.3 16.7h16.7zM2364 636.9l-8.3 16.7h16.7zM2367.2 622.8l-8.3 16.7h16.7zM2370.4 641.5l-8.3 16.7h16.7zM2373.6 627.3l-8.3 16.7h16.7zM2376.8 634.4l-8.3 16.7h16.7zM2380 629.4l-8.3 16.7h16.7zM2383.2 638.9l-8.3 16.7h16.7zM2386.4 624.8l-8.3 16.7h16.7zM2389.6 626.1l-8.3 16.7h16.7zM2392.8 626l-8.3 16.7h16.7zM2396 623.7l-8.3 16.7h16.7zM2399.2 642.7l-8.3 16.7h16.7zM2402.4 634.7l-8.3 16.7h16.7zM2405.6 628.2l-8.3 16.7h16.7zM2408.8 630l-8.3 16.7h16.7zM2412 645.5l-8.3 16.7h16.7zM2415.2 632.9l-8.3 16.7h16.7zM2418.4 625.7l-8.3 16.7h16.7zM2421.6 640.7l-8.3 16.7h16.7zM2424.8 636.7l-8.3 16.7h16.7zM2428 645.4l-8.3 16.7h16.7zM2431.2 622.3l-8.3 16.7h16.7zM2434.4 632l-8.3 16.7h16.7zM2437.6 641l-8.3 16.7h16.7zM2440.8 641.5l-8.3 16.7h16.7zM2444 643.4l-8.3 16.7h16.7zM2447.2 620.7l-8.3 16.7h16.7zM2450.4 627.3l-8.3 16.7h16.7zM2330 652.1l-8.3 16.7h16.7zM2334 654.7l-8.3 16.7h16.7zM2338 683.7l-8.3 16.7h16.7zM2342 669.2l-8.3 16.7h16.7zM2346 682.1l-8.3 16.7h16.7zM2350 661.4l-8.3 16.7h16.7zM2354 679.7l-8.3 16.7h16.7zM2358 664.3l-8.3 16.7h16.7zM2362 657.3l-8.3 16.7h16.7zM2366 676.4l-8.3 16.7h16.7zM2370 682.7l-8.3 16.7h16.7zM2374 651.6l-8.3 16.7h16.7zM2378 669.7l-8.3 16.7h16.7zM2382 670.6l-8.3 16.7h16.7zM2386 655.7l-8.3 16.7h16.7zM2390 661.3l-8.3 16.7h16.7zM2394 652.9l-8.3 16.7h16.7zM2398 655.2l-8.3 16.7h16.7zM2402 657.1l-8.3 16.7h16.7zM2406 669.8l-8.3 16.7h16.7zM2410 671.8l-8.3 16.7h16.7zM2414 655.2l-8.3 16.7h16.7zM2418 648.1l-8.3 16.7h16.7zM2422 659.8l-8.3 16.7h16.7zM2426 672.8l-8.3 16.7h16.7zM2430 654.5l-8.3 16.7h16.7zM2434 659.2l-8.3 16.7h16.7zM2438 655.2l-8.3 16.7h16.7zM2442 677.1l-8.3 16.7h16.7zM2446 667.9l-8.3 16.7h16.7zM2450 650l-8.3 16.7h16.7zM2088.7 739l-8.3 16.7h16.7zM2108.5 739l-8.3 16.7h16.7zM2114.5 738.4l-8.3 16.7h16.7zM2506.4 612.6l-8.3 16.7h16.7zM2563.3 611.7l-8.3 16.7h16.7zM2598.6 611.7l-8.3 16.7h16.7zM2612.8 606.7l-8.3 16.7h16.7zM2623.5 437.2l-8.3 16.7h16.7zM2624 444.5l-8.3 16.7h16.7zM2624.5 450.5l-8.3 16.7h16.7zM2625 460.2l-8.3 16.7h16.7zM2625.5 468.7l-8.3 16.7h16.7zM2626 486.9l-8.3 16.7h16.7zM2627.5 557.3l-8.3 16.7h16.7zM2627.5 567l-8.3 16.7h16.7zM2626 576.7l-8.3 16.7h16.7zM2624 587.7l-8.3 16.7h16.7zM2622 597.7l-8.3 16.7h16.7zM2636 618.9l-8.3 16.7h16.7zM2639.2 628.3l-8.3 16.7h16.7zM2642.4 633.3l-8.3 16.7h16.7zM2645.6 636.1l-8.3 16.7h16.7zM2648.8 618.6l-8.3 16.7h16.7zM2652 620.9l-8.3 16.7h16.7zM2655.2 637.9l-8.3 16.7h16.7zM2658.4 628.8l-8.3 16.7h16.7zM2661.6 624.7l-8.3 16.7h16.7zM2664.8 625.5l-8.3 16.7h16.7zM2668 646.2l-8.3 16.7h16.7zM2671.2 625.7l-8.3 16.7h16.7zM2674.4 633.8l-8.3 16.7h16.7zM2677.6 627.1l-8.3 16.7h16.7zM2680.8 629l-8.3 16.7h16.7zM2684 643.3l-8.3 16.7h16.7zM2687.2 647.6l-8.3 16.7h16.7zM2690.4 627.3l-8.3 16.7h16.7zM2693.6 622l-8.3 16.7h16.7zM2696.8 639l-8.3 16.7h16.7zM2700 622.2l-8.3 16.7h16.7zM2703.2 615.9l-8.3 16.7h16.7zM2706.4 644.5l-8.3 16.7h16.7zM2709.6 629.2l-8.3 16.7h16.7zM2712.8 641.9l-8.3 16.7h16.7zM2716 628.7l-8.3 16.7h16.7zM2719.2 643.9l-8.3 16.7h16.7zM2722.4 630.4l-8.3 16.7h16.7zM2725.6 620.9l-8.3 16.7h16.7zM2728.8 616.1l-8.3 16.7h16.7zM2732 633.3l-8.3 16.7h16.7zM2735.2 636.2l-8.3 16.7h16.7zM2738.4 644.8l-8.3 16.7h16.7zM2741.6 618.5l-8.3 16.7h16.7zM2744.8 635.6l-8.3 16.7h16.7zM2748 627.5l-8.3 16.7h16.7zM2751.2 631.8l-8.3 16.7h16.7zM2754.4 620.3l-8.3 16.7h16.7zM2757.6 624.7l-8.3 16.7h16.7zM2760.8 632.3l-8.3 16.7h16.7zM2764 645.3l-8.3 16.7h16.7zM2767.2 619.1l-8.3 16.7h16.7zM2770.4 631.4l-8.3 16.7h16.7zM2773.6 641.4l-8.3 16.7h16.7zM2776.8 646.6l-8.3 16.7h16.7zM2780 622l-8.3 16.7h16.7zM2783.2 619.7l-8.3 16.7h16.7zM2786.4 645.8l-8.3 16.7h16.7zM2789.6 646.9l-8.3 16.7h16.7zM2792.8 631.1l-8.3 16.7h16.7zM2856 615.8l-8.3 16.7h16.7zM2859.2 650.7l-8.3 16.7h16.7zM2862.4 629.2l-8.3 16.7h16.7zM2865.6 649.8l-8.3 16.7h16.7zM2868.8 638.5l-8.3 16.7h16.7zM2872 646.6l-8.3 16.7h16.7zM2875.2 620.1l-8.3 16.7h16.7zM2878.4 645.1l-8.3 16.7h16.7zM2881.6 622.6l-8.3 16.7h16.7zM2884.8 629.8l-8.3 16.7h16.7zM2888 647.5l-8.3 16.7h16.7zM2891.2 646.8l-8.3 16.7h16.7zM2894.4 621l-8.3 16.7h16.7zM2897.6 622.4l-8.3 16.7h16.7zM2900.8 629.7l-8.3 16.7h16.7zM2904 634.4l-8.3 16.7h16.7zM2907.2 629l-8.3 16.7h16.7zM2910.4 618.6l-8.3 16.7h16.7zM2913.6 623.5l-8.3 16.7h16.7zM2916.8 642.7l-8.3 16.7h16.7zM2920 649.6l-8.3 16.7h16.7zM2923.2 615.3l-8.3 16.7h16.7zM2926.4 636.2l-8.3 16.7h16.7zM2929.6 644l-8.3 16.7h16.7zM2932.8 615.2l-8.3 16.7h16.7zM2936 647.2l-8.3 16.7h16.7zM2939.2 618.4l-8.3 16.7h16.7zM2942.4 637.6l-8.3 16.7h16.7zM2945.6 635.7l-8.3 16.7h16.7zM2948.8 638.7l-8.3 16.7h16.7zM2952.1 642.2l-8.3 16.7h16.7zM2952.5 646.4l-8.3 16.7h16.7zM2953.1 650.6l-8.3 16.7h16.7zM2952.8 654.8l-8.3 16.7h16.7zM2953.5 659l-8.3 16.7h16.7zM2953.1 663.2l-8.3 16.7h16.7zM2953.2 667.4l-8.3 16.7h16.7zM2952.4 671.6l-8.3 16.7h16.7zM2953.9 675.8l-8.3 16.7h16.7zM2953.7 680.1l-8.3 16.7h16.7zM2953.3 684.3l-8.3 16.7h16.7zM2954.8 688.6l-8.3 16.7h16.7zM2955.1 693l-8.3 16.7h16.7zM2954.7 697.4l-8.3 16.7h16.7zM2954.3 701.8l-8.3 16.7h16.7zM2955.3 706.2l-8.3 16.7h16.7zM2954.7 710.5l-8.3 16.7h16.7zM2955 714.9l-8.3 16.7h16.7zM2956 719.3l-8.3 16.7h16.7zM2955.5 723.7l-8.3 16.7h16.7zM2956.6 728l-8.3 16.7h16.7zM2957.1 732.4l-8.3 16.7h16.7zM2956.3 736.8l-8.3 16.7h16.7zM2958 741.2l-8.3 16.7h16.7zM2956.9 745.6l-8.3 16.7h16.7zM2958.8 749.9l-8.3 16.7h16.7zM2959.2 754.3l-8.3 16.7h16.7zM2958.8 758.7l-8.3 16.7h16.7zM2958 763.1l-8.3 16.7h16.7zM2959.4 767.4l-8.3 16.7h16.7zM2959.4 771.8l-8.3 16.7h16.7zM2961.1 776.2l-8.3 16.7h16.7zM2959.4 780.6l-8.3 16.7h16.7zM2961.5 785l-8.3 16.7h16.7zM2962.1 789.3l-8.3 16.7h16.7zM2961.8 793.7l-8.3 16.7h16.7zM2962.3 798.1l-8.3 16.7h16.7zM2961.1 802.5l-8.3 16.7h16.7zM2963.4 806.9l-8.3 16.7h16.7zM2962.6 811.2l-8.3 16.7h16.7zM2964.2 815.6l-8.3 16.7h16.7zM2964.5 820l-8.3 16.7h16.7zM2963.2 824.4l-8.3 16.7h16.7zM2965.1 828.8l-8.3 16.7h16.7zM2965.9 833.2l-8.3 16.7h16.7zM2964.2 837.6l-8.3 16.7h16.7zM2965.3 842l-8.3 16.7h16.7zM2967.4 846.6l-8.3 16.7h16.7zM2967 851.2l-8.3 16.7h16.7zM2969.8 855.8l-8.3 16.7h16.7zM2969.4 860.5l-8.3 16.7h16.7zM2971.4 864.9l-8.3 16.7h16.7zM2970.5 869.3l-8.3 16.7h16.7zM2972.1 873.7l-8.3 16.7h16.7zM2973.8 878.1l-8.3 16.7h16.7zM2972.9 882.5l-8.3 16.7h16.7zM2973.7 886.9l-8.3 16.7h16.7zM2974.9 891.6l-8.3 16.7h16.7zM2975 896.3l-8.3 16.7h16.7zM2974.9 901l-8.3 16.7h16.7zM2975.9 905.7l-8.3 16.7h16.7zM2976.4 910.4l-8.3 16.7h16.7zM2984 868.7l-8.3 16.7h16.7zM2988.6 871.7l-8.3 16.7h16.7zM2994.2 874.7l-8.3 16.7h16.7zM2994 880.7l-8.3 16.7h16.7zM2996.2 885.7l-8.3 16.7h16.7zM2995.2 890.7l-8.3 16.7h16.7zM2996.9 895.7l-8.3 16.7h16.7zM2997.4 900.6l-8.3 16.7h16.7zM2997.1 905.5l-8.3 16.7h16.7zM2998.6 910.4l-8.3 16.7h16.7zM2998.3 915l-8.3 16.7h16.7zM2998.7 919.7l-8.3 16.7h16.7zM2999.9 924.3l-8.3 16.7h16.7zM2998.4 929l-8.3 16.7h16.7zM3001 933.7l-8.3 16.7h16.7zM3000.6 937.8l-8.3 16.7h16.7zM3000.5 941.9l-8.3 16.7h16.7zM3001.9 946l-8.3 16.7h16.7zM3001.1 950.1l-8.3 16.7h16.7zM3003.3 954.3l-8.3 16.7h16.7zM3002.7 958.7l-8.3 16.7h16.7zM3002.6 963.1l-8.3 16.7h16.7zM3003.9 967.5l-8.3 16.7h16.7zM3003.6 971.9l-8.3 16.7h16.7zM3003.3 976.3l-8.3 16.7h16.7zM3005.1 980.7l-8.3 16.7h16.7zM3003.9 1002.5l-8.3 16.7h16.7zM3006.7 1007.1l-8.3 16.7h16.7zM3005.5 1011.2l-8.3 16.7h16.7zM3006.7 1015.3l-8.3 16.7h16.7zM3007.8 1019.4l-8.3 16.7h16.7zM3007.1 1023.5l-8.3 16.7h16.7zM3007.5 1027.7l-8.3 16.7h16.7zM3007 1031.9l-8.3 16.7h16.7zM3006.6 1036l-8.3 16.7h16.7zM3007 1040.2l-8.3 16.7h16.7zM3007.6 1044.4l-8.3 16.7h16.7zM3009 1048.6l-8.3 16.7h16.7zM3008.9 1052.8l-8.3 16.7h16.7zM3009.4 1057l-8.3 16.7h16.7zM3010.8 1061.6l-8.3 16.7h16.7zM3009.4 1066.3l-8.3 16.7h16.7zM3010 1071l-8.3 16.7h16.7zM3011.4 1075.7l-8.3 16.7h16.7zM3010.4 1080.4l-8.3 16.7h16.7zM3010.8 1084.5l-8.3 16.7h16.7zM3012.1 1088.6l-8.3 16.7h16.7zM3011.9 1092.7l-8.3 16.7h16.7zM3013 1096.8l-8.3 16.7h16.7zM3013.1 1101l-8.3 16.7h16.7zM3014.6 1105.1l-8.3 16.7h16.7zM3015.2 1109.2l-8.3 16.7h16.7zM3014.9 1113.3l-8.3 16.7h16.7zM3016.5 1117.4l-8.3 16.7h16.7zM3016.7 1121.5l-8.3 16.7h16.7zM3016.4 1125.5l-8.3 16.7h16.7zM3018.7 1129.5l-8.3 16.7h16.7zM3017.5 1133.6l-8.3 16.7h16.7zM3017.7 1137.6l-8.3 16.7h16.7zM3018 1141.7l-8.3 16.7h16.7zM3038 1136.5l-8.3 16.7h16.7zM3041.6 1117.7l-8.3 16.7h16.7zM3028.6 1102.1l-8.3 16.7h16.7zM3038.1 1124.2l-8.3 16.7h16.7zM3030.8 1127.5l-8.3 16.7h16.7zM3033.1 1139.2l-8.3 16.7h16.7zM3040.3 1111.6l-8.3 16.7h16.7zM3044.6 1103.4l-8.3 16.7h16.7zM3035.3 1117.9l-8.3 16.7h16.7zM3027.9 1104l-8.3 16.7h16.7zM3041.5 1102.2l-8.3 16.7h16.7zM3035.8 1139.3l-8.3 16.7h16.7zM3025.6 1109.6l-8.3 16.7h16.7zM3037.2 1121.9l-8.3 16.7h16.7zM3038 1134.2l-8.3 16.7h16.7zM3026.4 1114l-8.3 16.7h16.7zM3029.5 1103.6l-8.3 16.7h16.7zM3044.2 1133l-8.3 16.7h16.7zM3039.9 1101.9l-8.3 16.7h16.7zM3043.1 1131.5l-8.3 16.7h16.7zM3033.6 1131.3l-8.3 16.7h16.7zM3033.3 1110.7l-8.3 16.7h16.7zM3025.6 1100.7l-8.3 16.7h16.7zM3044.6 1103.7l-8.3 16.7h16.7zM3034 1103.7l-8.3 16.7h16.7z" fill="#a52a2a" stroke="#a52a2a" stroke-width="2.78" stroke-linejoin="miter"/>
<path d="M990.4 595.4L306 596.6L990.4 604.8" fill="none" stroke="#a52a2a" stroke-width="4.17" stroke-linejoin="round" stroke-linecap="square"/>
<path d="M990.4 595.4h0M306 596.6h0M990.4 604.8h0" fill="none" stroke="#a52a2a" stroke-width="11.11" stroke-linecap="round"/>
<path d="M990.4 416L990.4 420L990.4 426L990.4 434L990.4 440L990.4 447L990.4 456L990.4 462L990.4 468L990.4 472L990.4 476.5L990.4 481L990.4 485.5L990.4 490L990.4 494.5L990.4 499L990.4 503.5L990.4 508L990.4 512.5L990.4 517L990.4 521.5L990.4 526L990.4 530.5L990.4 535L990.4 539.5" fill="none" stroke="#a52a2a" stroke-width="4.17" stroke-linejoin="round" stroke-linecap="square"/>
<path d="M990.4 416h0M990.4 420h0M990.4 426h0M990.4 434h0M990.4 440h0M990.4 447h0M990.4 456h0M990.4 462h0M990.4 468h0M990.4 472h0M990.4 476.5h0M990.4 481h0M990.4 485.5h0M990.4 490h0M990.4 494.5h0M990.4 499h0M990.4 503.5h0M990.4 508h0M990.4 512.5h0M990.4 517h0M990.4 521.5h0M990.4 526h0M990.4 530.5h0M990.4 535h0M990.4 539.5h0" fill="none" stroke="#a52a2a" stroke-width="11.11" stroke-linecap="round"/>
<path d="M990.4 505.1L1041.5 505.1L1114.6 513.6L1187.7 515.2L1260.8 515.2L1333.9 514.6L1407 514.6L1480.1 514.6L1553.2 514.6L1626.3 514.6L1699.4 514.6L1772.5 514.6L1846.2 513.7L1920.4 520.8L1992.4 537L2065.2 544L2137.4 547L2168.3 557.2L2200 572L2215 585" fill="none" stroke="#a52a2a" stroke-width="4.17" stroke-linejoin="round" stroke-linecap="square"/>
<path d="M990.4 505.1h0M1041.5 505.1h0M1114.6 513.6h0M1187.7 515.2h0M1260.8 515.2h0M1333.9 514.6h0M1407 514.6h0M1480.1 514.6h0M1553.2 514.6h0M1626.3 514.6h0M1699.4 514.6h0M1772.5 514.6h0M1846.2 513.7h0M1920.4 520.8h0M1992.4 537h0M2065.2 544h0M2137.4 547h0M2168.3 557.2h0M2200 572h0M2215 585h0" fill="none" stroke="#a52a2a" stroke-width="11.11" stroke-linecap="round"/>
<path d="M1771.9 489.5L1770.7 493.8L1783.5 508.5L1785.2 509.2L1774.8 502.7L1777.8 512.3L1779.4 490.9L1781.6 519.6L1773.9 516.1L1770.3 490.7L1774.2 510.5L1787 510.6L1775.9 516.1L1775.9 489.8L1786.3 505.9L1782.5 507.3L1787.6 499.2L1785.1 508.6L1785.4 497.9L1783 503.4L1775.5 488.7L1781.2 483.2L1786.4 485.9L1770.5 484.4L1786.7 494.1L1772.6 481.2" fill="none" stroke="#a52a2a" stroke-width="4.17" stroke-linejoin="round" stroke-linecap="square"/>
<path d="M1771.9 489.5h0M1770.7 493.8h0M1783.5 508.5h0M1785.2 509.2h0M1774.8 502.7h0M1777.8 512.3h0M1779.4 490.9h0M1781.6 519.6h0M1773.9 516.1h0M1770.3 490.7h0M1774.2 510.5h0M1787 510.6h0M1775.9 516.1h0M1775.9 489.8h0M1786.3 505.9h0M1782.5 507.3h0M1787.6 499.2h0M1785.1 508.6h0M1785.4 497.9h0M1783 503.4h0M1775.5 488.7h0M1781.2 483.2h0M1786.4 485.9h0M1770.5 484.4h0M1786.7 494.1h0M1772.6 481.2h0" fill="none" stroke="#a52a2a" stroke-width="11.11" stroke-linecap="round"/>
<path d="M1786.3 480.2L1786.3 419L1787.5 417L1789.5 418L1791 420.5L1792.5 423L1794 426L1795.5 429.5L1796.8 433L1798 437L1799 441L1799.4 447L1799.4 453.4L1799.4 480.2" fill="none" stroke="#a52a2a" stroke-width="4.17" stroke-linejoin="round" stroke-linecap="square"/>
<path d="M1786.3 419h0M1787.5 417h0M1789.5 418h0M1791 420.5h0M1792.5 423h0M1794 426h0M1795.5 429.5h0M1796.8 433h0M1798 437h0M1799 441h0M1799.4 447h0M1799.4 453.4h0M1799.4 480.2h0" fill="none" stroke="#a52a2a" stroke-width="11.11" stroke-linecap="round"/>
<path d="M1786.4 429.2h0M1791.7 429.3h0M1792.6 415.4h0M1791.3 422h0M1793.4 432h0M1794 415.5h0M1793.8 434.1h0M1794.5 416.4h0M1787.9 416.5h0M1786.3 432.6h0M1793.3 428h0M1793.4 427.9h0M1788.6 416.2h0M1786.9 430.7h0M1787.8 421h0M1789.8 414.5h0" fill="none" stroke="#a52a2a" stroke-width="11.11" stroke-linecap="round"/>
<path d="M1799.4 480.2L1799.4 556L1800 570L1803 580L1806 590L1809 600L1811 612L1813.8 621" fill="none" stroke="#a52a2a" stroke-width="4.17" stroke-linejoin="round" stroke-linecap="square"/>
<path d="M1803.1 535h0M1803.5 539h0M1810.5 543h0M1804.9 547h0M1804.1 551h0M1814.4 555h0M1807.1 559h0M1812.6 563h0M1808.9 567h0M1799.5 571h0M1805.6 575h0M1806 579h0M1811.4 583h0M1804.5 587h0M1810.3 591h0M1807.6 595h0M1802.5 599h0M1812.8 603h0M1800.5 607h0M1812.1 611h0M1801.7 615h0M1799 619h0" fill="none" stroke="#a52a2a" stroke-width="11.11" stroke-linecap="round"/>
<path d="M1773 480.2L1799.4 480.2L1810.5 480.2L1861.2 480.2L1930.2 480.2L1944.2 481.3L2002.9 499.5L2023 525.8L2049.4 560L2059.5 568.3L2075 590" fill="none" stroke="#a52a2a" stroke-width="4.17" stroke-linejoin="round" stroke-linecap="square"/>
<path d="M1773 480.2h0M1799.4 480.2h0M1810.5 480.2h0M1861.2 480.2h0M1930.2 480.2h0M1944.2 481.3h0M2002.9 499.5h0M2023 525.8h0M2049.4 560h0M2059.5 568.3h0M2075 590h0" fill="none" stroke="#a52a2a" stroke-width="11.11" stroke-linecap="round"/>
<path d="M1937.2 410L1937.2 450.6L1958.4 453.4L2000.9 466.2L2063.6 472.2L2137.4 487.4L2209.4 487L2247 474L2253.2 472.2L2259 473L2254 479L2250.8 487.4L2250.2 497.5L2250 507L2249.2 517.7L2249 530L2250 545L2252 560L2254 580" fill="none" stroke="#a52a2a" stroke-width="4.17" stroke-linejoin="round" stroke-linecap="square"/>
<path d="M1937.2 450.6h0M1958.4 453.4h0M2000.9 466.2h0M2063.6 472.2h0M2137.4 487.4h0M2209.4 487h0M2247 474h0M2253.2 472.2h0M2259 473h0M2254 479h0M2250.8 487.4h0M2250.2 497.5h0M2250 507h0M2249.2 517.7h0M2249 530h0M2250 545h0M2252 560h0M2254 580h0" fill="none" stroke="#a52a2a" stroke-width="11.11" stroke-linecap="round"/>
<path d="M1937.2 410L1937.2 620" fill="none" stroke="#a52a2a" stroke-width="4.17" stroke-linejoin="round" stroke-linecap="square"/>
<path d="M1936.6 500h0M1943.9 505h0M1946.7 510h0M1934.1 515h0M1940.4 520h0M1940.4 525h0M1944.4 530h0M1936.4 535h0M1940.4 540h0M1938.5 545h0M1944.8 550h0M1937.4 555h0M1946.3 560h0M1937.7 565h0M1936.8 570h0M1943.1 575h0M1940.5 580h0M1935.4 585h0M1942.3 590h0M1935.1 595h0M1944.2 600h0" fill="none" stroke="#a52a2a" stroke-width="11.11" stroke-linecap="round"/>
<path d="M2015.5 600L2048 329.3L2081.6 67L2085 40L2114.8 40L2115.7 433.2L2115.7 470.8L2115.7 600" fill="none" stroke="#a52a2a" stroke-width="4.17" stroke-linejoin="round" stroke-linecap="square"/>
<path d="M2048 329.3h0M2115.7 433.2h0M2115.7 470.8h0" fill="none" stroke="#a52a2a" stroke-width="11.11" stroke-linecap="round"/>
<path d="M1813.8 621L1813.8 709.9L1825 712L1841 724L1855.3 725L1861.3 707.8L1871.4 693.7L1881.6 674.5L1889.6 673.5L1893.7 681.6L1894.7 693.7L1895.7 711.9L1901.8 726L1908 722L1918 711.9L1922 699.8L1930 689.6L1940 680L1950 690L1960 700" fill="none" stroke="#a52a2a" stroke-width="4.17" stroke-linejoin="round" stroke-linecap="square"/>
<path d="M1814.3 710.6L1816.3 710L1818 710.5L1821.5 710.2L1823.7 710.4L1824.3 711.4L1827.7 713.3L1828.3 715.6L1829.7 715.9L1832.2 717.9L1834.5 719L1835.3 719.6L1836.6 722.2L1839.6 723.2L1840.2 723.9L1844 724.4L1844.9 724.2L1849.1 723.9L1849.8 724.2L1853.4 725.7L1854.5 724.2L1855.4 722.4L1856.9 719.9L1857.1 717.8L1859.4 716.9L1858.1 715.4L1858.8 711.8L1861.7 710.7L1861.9 707.6L1862 706.1L1863.2 703.1L1865.4 700.6L1866.8 700.4L1869 697.7L1870.3 695.6L1870.5 693.9L1872.3 692.1L1874.6 689.3L1875 687.9L1875.7 684.5L1877.6 683.9L1878.9 681.4L1880.2 679.2L1880.8 676.5L1881.2 674.8L1883.3 674L1887.6 674.3L1889.9 672.9L1890.4 675.4L1891.9 677.3L1893.1 680.6L1892.9 682L1894.6 683.8L1894.1 687.6L1893.2 689L1893.7 692L1895.8 693.7L1893.9 696.2L1895 698.8L1895.1 700.9L1896 702.9L1895.1 706.2L1894.8 707.8L1895.3 710.3L1894.8 713.1L1896.4 713.2L1897.2 716.4L1897.6 718.8L1899.6 721.8L1900.4 723.1L1901.1 726.6L1904.9 724.7L1905.3 724.1L1907.7 721.3L1908.8 721L1912.1 719L1912.9 717.1L1914 716.4L1916 713.9L1918.8 712.7L1918.7 709L1919.7 706.2L1921.2 704.3L1922 701.7L1921.7 699.2L1923.4 697L1924 696.3L1926.3 693.1L1927.9 691.6L1929.8 689.9L1932 687.7L1934.4 687.3L1933.9 685.6L1937.6 683.9L1937.5 682.4L1940.3 678.8L1940.5 682.8L1943.7 682.7L1944 684.1L1946 687.3L1948 687.5L1951 690.7L1950.9 692.6L1953.6 694L1955.4 695.9L1957.4 697.5L1957.6 698.8L1960.1 700.6" fill="none" stroke="#a52a2a" stroke-width="12.5" stroke-linejoin="round" stroke-linecap="square"/>
<path d="M1975.5 690.9L1976.6 690.2L1978.7 691.7L1981.8 693.1L1982.2 693.6L1986.8 693.8L1986.5 693.8L1988.5 694.2L1993.4 696.2L1994.7 697.5L1997.6 697.7L1998.8 698.5L2001.2 699.1L2003.3 698.7L2005.4 700.2L2006 696.8L2004.5 694.4L2006.5 694.8L2006.4 690.9L2007.2 689.9L2006.7 686L2006.2 684.3L2006.5 682L2007.8 681.3L2006.3 677.9L2006.5 674.3L2009.1 673.4L2009.7 670.8L2007.2 668.4L2009.2 667.8L2010.7 664.1L2009.2 660.7L2010.2 658.8L2009 656L2008.8 655.7L2009.5 658.8L2009.7 660.7L2010.1 660.3L2012.2 663.2L2012.6 665.2L2010.8 669.2L2013.1 671.6L2013.5 671.5L2013.5 675.6L2013.3 678.5L2013 680.8L2014.7 680.1L2012.9 684.2L2015.6 684.7L2014.4 688.9L2014.3 691.5L2015.5 691.3L2015.5 695L2016 697.5L2015.8 695.7L2017.2 693L2018.7 690.1L2018.6 688.9L2021 686.7L2020.5 683L2019.7 682.8L2022.3 680.2L2021.9 677.3L2024.5 675.7L2024.1 671.9L2024.3 671.4L2024.8 673.1L2026.2 676L2027.5 676.5L2025.8 678.7L2027.8 681.9L2029.7 685.1L2028.1 687.3L2031.1 689.6L2031.1 690.2L2032.6 694L2032.9 696.6L2034.5 694.7L2037.9 697.4L2039.5 697.8L2042.6 694L2042.5 693.2L2043 689.7L2043.3 689.1L2045.8 686.1L2044.6 685L2047.5 681.1L2047.8 680.9L2049.7 677.7L2049.1 675.7L2049 672.3L2049.7 671.7L2050.9 669.1L2051.7 666.8L2051.7 663.2L2054.9 662L2052.9 660.6L2055.7 657L2055.8 655.4L2056.3 656.6L2055.5 661.7L2058.7 662.3L2058.6 663.8L2059.9 666.5L2061.1 669.7L2061.4 672.4L2060.4 671.8L2061 674.4L2061.3 676.2L2063.5 680.9L2063.9 683.3L2065.9 682.8L2065.7 681.6L2065 681.1L2066.1 677.8L2068 676.8L2068.8 672.9L2068.8 670L2071.1 670.3L2069.6 665.3L2070.4 664.1L2073 668L2073.4 667.7L2073.9 672L2074.2 675.1L2073 674.8L2075.8 679.5L2076.2 679.9L2076.6 683.5L2075.8 684.5L2076.9 686.2L2078 684L2077.7 681.7L2079.5 679.1L2080.1 677.4L2078.5 677.3L2079.5 675.1L2081.9 672.7L2080.2 669.1L2080.5 668.3L2083.2 665.1L2082.5 662L2084 660.1L2083.9 656.9L2083.1 654.4L2085.3 658.1L2084.2 661.2L2085.3 662L2085.6 663.8L2088.3 666.2L2087 668.8L2088.1 672.2L2088.1 674.7L2088.6 676.6L2091.1 676.7L2091.3 674.9L2091.4 672.5L2092.4 672.8L2095.1 670.5L2093.1 666.5L2096.3 663.7L2096.5 662.3L2098 659.4L2098.3 658.3L2097 655.1L2099.9 654.6L2098.7 652.2L2101.6 649.5L2101.3 647.2L2100.9 647L2103.2 647.4L2102 649.3L2104.3 652.7L2104 654L2105.7 657.6L2107.1 659.4L2105.9 660L2108.2 663.2L2108.9 664.4L2109.9 667.4L2110.7 671.1L2110.3 670.8L2112.3 674.3L2112.9 675.9L2111.5 679.7L2112.8 679.9L2113.1 679L2112.3 676.5L2113.9 674.3L2113.2 672.7L2115.6 670.9L2114.4 668.2L2114.9 666.1L2114.2 664.3L2117.2 660.9L2116.1 658.8L2116.5 655.1L2118.1 653.5L2116 650.9L2116.5 650.8L2116.1 646.4L2118.4 644.5L2116.7 643.5L2118.6 641.1L2119.3 637.6L2120.1 637.2L2117.9 633.2L2119.5 632.1L2119.2 628.8L2119.9 631.1L2120.8 635.6L2119.9 637L2122 638.1L2122.6 642.7L2121.6 643.4L2123.3 646L2122.4 649.6L2123.9 650.1L2122.6 652.4L2123.5 656.6L2125 658.7L2125.4 660.8L2123.5 662.1L2126.5 665.6L2124.7 666.4L2126.2 668.5L2126.3 669.9L2126.6 673.5L2126 674.6L2129.5 678.7L2130 680.6L2130.2 683.5L2131 683.2L2130.9 686.2L2131.7 688.4L2131.9 692.6L2132.7 692.8L2133 695.6L2134.9 697.4L2133.6 700.7L2134.7 702.7L2138.8 704.6L2138.4 706.6L2139.3 703.4L2138.2 701.1L2138.8 699.7L2138.9 696.9L2138.5 695.6L2140.8 693.5L2140.1 691.4L2139.2 689.3L2140.1 686.6L2140.6 684.1L2139.8 681.2L2139.7 679.7L2140.3 677.7L2139.3 674.7L2142 672.1L2141.2 670.6L2140.5 669.9L2140.6 667L2140.3 662.6L2142.6 661.5L2140.3 659.1L2141.5 657.9L2140.7 654.1L2143.3 653.4L2141 649.9L2141.7 648.7L2142.7 647L2143.4 643.7L2143.3 642.1L2143.4 639.1L2143.6 637.5L2144.4 638L2144.7 639.9L2144.8 643.9L2144.5 647.3L2145.1 648L2146.2 651.6L2146.1 652.4L2146 654.9L2147.3 656.6L2146.7 659.7L2147.1 661.2L2148.7 665.1L2148.3 666.1L2147.8 668L2148.1 671L2149.8 671.8L2151.2 674.8L2151.4 678.6L2152.1 674.5L2150.9 674.4L2150 669.6L2152.1 668.7L2153.5 667.4L2152.7 665.8L2153 662.2L2153.9 659.6L2153.3 658L2153.6 656.8L2155 653.3L2153.6 650.7L2154.9 649L2155.8 647.8L2157.3 644.4L2156 647L2157.9 648.4L2156.8 652L2155.9 652.7L2158.6 656.5L2157.5 656.5L2158.9 660.5L2158.9 663.6L2159.3 664.1L2157.4 665.9L2158.7 668.8L2158 670.1L2159.6 673.5L2159 676.9L2160.1 676.3L2159.7 680.7L2159.6 682.7L2159 683.7L2161.7 686.8L2161.5 687.8L2161.2 691.1L2160.7 693.6L2161.8 696.9L2163.5 696.8L2163.8 697.6L2167.3 699.1L2167 700.9L2169.9 704.5L2170.4 702.2L2169 697.5L2171.4 696.2L2171.5 694L2170.2 691.5L2170.2 691.1L2172 687.2L2171.8 685.1L2170.9 684.3L2172.8 682.3L2172.6 679L2172.3 675L2174.7 675.2L2173.1 673L2174.9 669L2174.5 668.7L2174.5 666.4L2174 662.5L2175.7 659.7L2174.7 659.4L2175.5 656.9L2175.1 652.8L2175.7 650.6L2177.8 653.1L2176.9 654.9L2177 657.9L2176.9 659.2L2176.4 663.8L2177.3 664.3L2177.1 666.7L2177.5 668.2L2179.1 671.4L2177.9 674.7L2177.9 675.7L2180.4 677.5L2179.5 681.9L2180.9 682.1L2179.8 686.1L2180.2 689.1L2179.9 691.3L2181.1 691.4L2181.2 688.8L2182.2 686.9L2183 685.6L2181.6 682.3L2182.5 680L2183.5 677.4L2182.7 676.4L2182.2 674.8L2182.7 672.2L2183.5 668.9L2183.2 665.9L2182.7 665.9L2183.4 663.1L2183 660.5L2183.9 658.1L2184 654.5L2184.2 652.7L2183.9 651.9L2184.6 648.7L2186.7 647.5L2187 650L2185.2 650.5L2185.3 654L2187.6 655.3L2187.2 658.4L2188.5 659.5L2189.4 662L2189.1 663.8L2188 668.2L2190.3 669.9L2188.6 670.1L2189.4 672.8L2190.2 675.6L2190.2 673.2L2192.7 670.6L2194 669.5L2194.4 666.4L2194.3 665.4L2194.8 661.1L2197 661.2L2196.1 656.8L2198.6 656.3L2196.3 657.4L2196.6 661.3L2197 663.8L2198.8 663.5L2198.7 666.7L2199 670.2L2197.8 670.2L2199.9 673.4L2200 676.4L2199.5 679L2199.3 680.1L2197.7 683L2199 684.7L2200.6 685.7L2200.2 687.7L2200.2 692.2L2199 693.6L2201.3 696.1L2200.1 697.1L2198.8 699.7L2200 701.4L2199.8 703.4L2201.1 707.2L2201.7 704.3L2204.6 703.3L2207.9 701.5L2208 701.5L2208 698.3L2209.1 696.8L2210.3 694.4L2209.6 691.9L2211.4 689.1L2212.4 687.9L2211 684.1L2212.2 681.6L2211.8 679.6L2212.8 678.7L2214 674.7L2214.1 673.5L2214.8 670.4L2214.4 667.7L2217.7 667.7L2215.5 665.4L2218.6 662.7L2216.4 660.3L2217.8 657.2L2218.6 654.4L2220.2 654.1L2219.7 652.8L2220.2 648.6L2219.5 646L2219.2 645.7L2222.1 642.1L2220.6 640.9L2223 639.6L2221.4 637L2223.9 634.6L2222.8 630.8L2224.7 629L2223.5 631.9L2223.7 634.9L2223.5 634.7L2224.7 638.7L2225.6 641.1L2226 644L2225 644.9L2224.2 646.5L2225.6 648L2226.1 650.4L2225.6 655.1L2224.7 654.5L2225.9 657.1L2226.9 658.7L2227.5 663.5L2227.5 664.4L2226.2 667.3L2227 668.8L2226.7 671L2227.9 674.4L2228.7 674.6L2227.1 677.6L2228.1 679.5L2227.2 680.9L2227.7 684.2L2229.9 687.8L2229.7 690.2L2230.2 691.3L2229.9 691.8L2229.7 695.6L2228.7 697.7L2230.9 699.6L2230.1 701.3L2229.4 700.8L2228.7 696.4L2230.9 694.8L2229.3 693.2L2230.4 690.7L2230.8 688.2L2231.4 685.5L2230.3 682.6L2232.8 681.4L2230.7 680L2231.4 675.4L2232.4 673.6L2232.5 672.2L2231.9 670L2231.8 667.5L2233.7 668.4L2233.6 670.7L2234.1 675.3L2234.9 677.1L2235.9 677.6L2237.1 681.6L2234.8 684.2L2236.2 684.5L2238.3 687.9L2238.2 688.9L2238.6 690.9L2237.5 694.1L2237.2 697L2238.3 698.4L2240.2 701L2241.2 703.9L2242 701.4L2243 700L2241.6 697.3L2243 695L2244.9 692.9L2244.1 689.2L2246.2 688.7L2246.5 683.7L2246.4 681.6L2246.6 681.4L2245.6 679.5L2247.6 675.2L2246.4 673.5L2248.6 671.7L2246.8 667.7L2247.1 667.8L2247.6 664.8L2248.2 662.9L2248.8 659L2250.6 657.9L2250.3 656.5L2251.4 651.8L2249.9 649.9L2250.7 649.8L2251.9 645.1L2250.2 649.7L2251.8 650.6L2251.4 652.2L2252.6 655.2L2252.8 658.1L2250.6 659.5L2251.2 663.4L2252.4 663.1L2251.3 666.3L2252.4 669.2L2252.3 670.8L2251.3 673.8L2252.4 674.4L2252.9 679.5L2251.9 679.2L2253.9 681.9L2252.8 684.8L2252.9 687.3L2253.9 690.7L2255.4 690.2L2254.3 694.7L2255.4 696.9L2254.8 698.8L2254.1 700L2255.6 704L2256.2 705.7L2254.4 708.2L2255.9 709.7L2255.7 711.5L2255.6 709.4L2254.2 707L2255.2 706.8L2255.8 702.7L2255.2 700.1L2255.6 697.6L2254.7 697.6L2256.2 694.1L2256.7 691.5L2255.6 688.6L2256.1 687.1L2257.5 685.7L2258.3 682.8L2258.4 681.3L2256 677.9L2257.6 678.2L2257.1 675.3L2257.4 673.4L2256.4 670.1L2259.1 667.2L2257.3 664.3L2257.1 662.8L2258.9 660.5L2258.1 658.2L2258.8 658L2259.1 653.8L2259.5 653.9L2259.2 649L2260 649.2L2258.7 644.8L2258.4 643.8L2260.5 641.9L2260.8 638.4L2259.2 637.8L2260.4 639L2260.8 641.1L2259.2 643.5L2259.5 646.4L2260.6 648.2L2261.7 649.7L2261.6 651.2L2263.2 655.1L2263.7 655.8L2262.9 660L2262.3 660.4L2262.1 662.7L2264.2 664.8L2264.6 668L2264.1 670.7L2264.4 673.2L2264.8 674.4L2265.6 676.4L2265.7 680.2L2266.2 681L2266.7 680.8L2266.2 676.6L2266.9 676.4L2266.2 671.4L2267.7 671.1L2269.1 668.1L2270.2 665.5L2270 662.9L2268.3 660.8L2268.9 659.7L2270.8 656.6L2272.5 654.9L2270.6 652.2L2272.8 652.2L2271.6 647.4L2273.9 645.8L2275 644.4L2274.5 646.2L2275.6 648.7L2274.7 652.3L2274.7 654L2275.1 656L2276.7 658.8L2276.3 660.1L2277.9 663.4L2280.1 664.8L2278.5 665.9L2279.2 668.6L2279.6 670.2L2281.8 673.7L2281 677L2281.5 677.9L2282.2 681L2285.1 681.5L2285.6 685.3L2284.9 686.1L2286.4 690L2286.2 691.6L2288.3 693.1L2289 696.6L2288.7 698.9L2289.7 696.3L2291.8 692.3L2292.3 692.5L2291.2 687.4L2291.2 688L2291.4 685.6L2292.4 682.9L2292.8 679L2295.1 676.5L2294.6 676.8L2296.3 674.5L2297.6 669.7L2295.9 669.8L2297.9 665.3L2297.9 668.2L2298.2 670.2L2297.5 675.3L2299 677.3L2299 678.5L2299.6 680.7L2300.3 683.8L2300.7 686.3L2302.2 682.3L2302.1 681.2L2304.2 678.6L2302.4 678.3L2304.8 675.4L2303.3 671.6L2303.7 669L2303.4 668.2L2304.9 666.1L2305.1 662.3L2306.4 662.1L2306.4 659.6L2307.2 658.7L2308.1 655.7L2307.1 652.4L2307.5 652.1L2307.6 652.7L2307.9 654.2L2309.9 656.1L2309 661.1L2308.1 662.4L2308.7 663.6L2308.4 665.5L2310.6 669.8L2311 669.9L2310.6 673L2310.7 675.9L2310 679.5L2309.2 681.1L2312 682.6L2311.5 686.4L2310.6 687.5L2312.4 689.1L2312.5 691.4L2312.2 689.8L2312.8 686.7L2312.9 685.1L2311.8 683.1L2312.2 681.8L2313 679L2313.3 676L2312.6 672.8L2314.9 671.7L2313.9 669.4L2314.9 666.3L2313.2 665.9L2314.3 663.1L2315.6 661.6L2315.9 656.8L2314.6 657L2316.1 652.6L2314.3 650.8L2314.3 648.8L2316.6 647.1L2315.8 643.6L2315.8 644.1L2316.9 640.2L2316.6 643.5L2317.7 643.9L2317.8 646.8L2317.6 648.7L2317.5 651.3L2317.8 652.6L2317.6 656.6L2317.5 657.7L2319.8 660.3L2318.9 662.5L2320.8 664.3L2320.5 668.9L2319.5 669.9L2321.6 672.8L2320.7 673.4L2321.2 676.6L2322.3 678.7L2321.7 682L2323.3 679L2322.4 677.4L2324.5 674.1L2325 673.4L2323.6 671.1L2323.9 667.1L2325.5 665.8L2325.2 664L2326.7 662.6L2324.5 659.9L2326.2 657.3L2327.7 654.9L2327 654.2L2327.3 650.8L2327.8 654L2328.5 656L2327.9 656.1L2328.9 659.9L2329.4 662.8L2327.7 663.4L2327.8 667.4L2328.1 667.5L2330.3 671.1L2328.4 673.7L2330.6 675.4L2328.8 678.2L2330.1 680.2L2332.1 683.1L2331.9 683.3L2330.5 686.7L2329.8 690.3L2330.8 690.4L2331.1 692.6L2333 695.8L2332.2 697.6L2331 699.5L2333.7 703.2L2333.9 703.8L2332.1 705.5L2333.3 708.7L2333.3 711.2L2333.9 713.1L2334.8 714.9L2335.4 718.2L2333.4 715.3L2335.5 713.3L2336.3 710.9L2336.1 710.1L2336.8 707.7L2339.1 705.1L2338.7 704L2339.3 701.6L2338.8 698.1L2341.3 694.7L2342.6 692.6L2342.5 690.7L2343.7 689.7L2343.6 687.2L2343.4 685.6L2342.5 681.9L2344.4 679.5L2344.9 677.5L2342.6 674.9L2344.9 675.3L2344.1 672.2L2343.8 670.7L2345.3 666.2L2343.7 665.6L2343.9 663.8L2344.9 659.8L2346 657.8L2346.1 655.1L2347.4 653.4L2347.4 650.6L2347.5 650.9L2346.6 645.8L2346.8 645.4L2346.5 642.9L2346.4 645L2348.6 647.1L2348.8 648.5L2349.5 650.8L2350.1 655.7L2350.4 656.6L2348.8 658.3L2350.4 661L2351.3 662.1L2350.2 666.7L2350.8 668L2349.6 669.1L2350.4 673.6L2352.5 673.9L2353 675.6L2352.3 680.7L2351.8 682.9L2353.1 678L2352.4 676.9L2352.4 675.5L2352.5 673.3L2353.2 668.9L2354.3 666.7L2354.6 666.4L2355 663.2L2353.6 661L2354.1 659.2L2354.5 656.7L2355.5 653.8L2356.7 650.8L2355.4 655.4L2356.1 657.3L2358 658.4L2356 659.5L2358.4 661.8L2357.5 665.3L2356.6 667.3L2357 669.7L2358.2 671.4L2357.5 673.7L2357.7 675.1L2358.1 679.6L2359.1 681.8L2357.8 684.2L2359.5 686L2360 687.9L2359.1 690.3L2359.1 691L2359 693.6L2360.7 695.5L2362 697.1L2361.3 699.8L2361.6 703.7L2362.1 703.7L2361 707.5L2363.4 708.1L2362.5 712.3L2363.3 713.4L2363.6 711.5L2364.2 707.9L2364.5 706.8L2363.2 703.5L2363 703.2L2364.5 699.2L2363.8 696.9L2363.6 694.8L2364.3 694.8L2366.6 692L2365.3 688.8L2366.4 687.8L2366.6 684.7L2365.2 682.3L2367.4 680.5L2365.4 678.1L2366.5 674.1L2368.6 673.4L2368.3 673.9L2368.9 678.5L2369.5 680.2L2369.6 682.5L2369.3 683.6L2370.3 686.9L2370.8 687.6L2371.5 690.5L2371.8 691.5L2372.2 695.7L2370.4 698L2370.7 698.3L2371.8 700.6L2372.2 704.8L2373.2 706.4L2372.6 704.4L2374.1 701.8L2374.8 699.9L2373.5 695.5L2374.5 695.4L2373.9 692.4L2375.6 690.7L2373.4 687.5L2373.7 684.1L2376.4 682.8L2376.1 680.6L2375.6 677.6L2375.9 677.2L2377 673.3L2375.7 670.9L2377.8 669.2L2378 668L2376.7 665.4L2376.7 663.5L2377.4 659.6L2380 657.6L2378.1 656.9L2379.6 659.2L2379.3 660.4L2381.3 662.8L2381.8 664.2L2381.7 666.5L2381.1 668.3L2380.4 673.5L2381.5 675.5L2381.3 676.4L2381.2 679.4L2383.8 681.6L2383.3 680.8L2385.8 678L2384.3 675.8L2386.4 674.7L2387.1 671.8L2388.9 668.8L2389.5 667.7L2391.6 665.1L2390.9 664.4L2391 662L2393.8 659.1L2394.1 657.6L2396.4 655.5L2396.9 651.3L2396 653.8L2398.3 658.2L2396.2 659.5L2397.9 660.1L2397.7 664.4L2398.8 665.1L2399.6 667.4L2399.3 669.9L2401 672.8L2400.8 675.1L2399.9 678.1L2401.3 679.5L2400.4 680.1L2401.6 684.2L2402.6 685L2401.1 687.7L2403.6 688.8L2403.6 691L2402.7 692.8L2403 696L2405.4 699.9L2403.4 700.1L2406.1 702L2404.6 704.9L2404.3 706.5L2405.6 709.1L2407.6 710.9L2405.7 715L2406.9 717L2407.8 714.6L2407.2 710.4L2408.9 709.1L2408.6 707.5L2409.6 704L2408.8 703.7L2409.7 699.6L2410.3 697.2L2411.1 694.3L2411.6 693.6L2410.6 692.5L2410.7 688.2L2410.5 686.8L2412.9 684.9L2412.2 683.1L2411.7 679.3L2413.7 679L2414 676L2414.8 672.8L2415.7 671.6L2414.2 668.3L2416 665.9L2414.8 669.6L2416.5 670.7L2417.6 673.9L2416.6 674.3L2417.1 676.7L2419.1 680.1L2420.3 681.4L2420.1 683.5L2420.4 686.4L2422.6 688.5L2421.4 690.1L2423.9 691.7L2424.8 690.7L2424.8 688.2L2425 686.2L2423.9 683.5L2426.1 681L2425.3 677.1L2426.8 677.2L2426.3 673.2L2426.6 670.6L2428.4 671L2429.3 667L2429.5 663.9L2430.4 662.4L2428.4 661.1L2429.2 657.9L2429.5 656.2L2431.5 655L2430.4 652.9L2431.1 648.9L2433.1 647L2432.7 645.5L2432.9 648.4L2433.4 650.7L2435.7 652L2433.8 655L2434.3 656.4L2436 657.3L2437.1 661.5L2437.5 662.7L2437.8 665.5L2437.4 668.5L2440.3 670.6L2440.7 671.4L2441.2 672.8L2440.2 675.2L2440.6 679.1L2441.9 680.6L2441.3 682L2442 684.5L2441.9 688.1L2443.3 689.4L2443.7 688.2L2445.1 684.9L2447.5 684.2L2450.1 682.3L2451.4 680.8L2452.1 678.2" fill="none" stroke="#a52a2a" stroke-width="12.5" stroke-linejoin="round" stroke-linecap="square"/>
<path d="M1979.6 700L1979.6 733.6L1979.6 768.5L1979.6 776L1979.6 786.7L1979.3 817L1976.5 850.4L1978 865.6L1978 874.7L1978 891" fill="none" stroke="#a52a2a" stroke-width="4.17" stroke-linejoin="round" stroke-linecap="square"/>
<path d="M1979.6 733.6h0M1979.6 768.5h0M1979.6 776h0M1979.6 786.7h0M1979.3 817h0M1976.5 850.4h0M1978 865.6h0M1978 874.7h0M1978 891h0" fill="none" stroke="#a52a2a" stroke-width="11.11" stroke-linecap="round"/>
<path d="M1979.6 786.7L2011.4 776L2059.5 679.5" fill="none" stroke="#a52a2a" stroke-width="4.17" stroke-linejoin="round" stroke-linecap="square"/>
<path d="M1979.6 786.7h0M2011.4 776h0M2059.5 679.5h0" fill="none" stroke="#a52a2a" stroke-width="11.11" stroke-linecap="round"/>
<path d="M2451 672L2470 640L2506.4 601.7L2563.3 601.8L2598.6 601.8L2627.8 600L2627.8 79.4L2629.9 71.3L2631.6 79.4L2631.8 530L2633.5 540L2633.5 551L2634 620" fill="none" stroke="#a52a2a" stroke-width="4.17" stroke-linejoin="round" stroke-linecap="square"/>
<path d="M2506.4 601.7h0M2563.3 601.8h0M2598.6 601.8h0M2627.8 600h0M2627.8 79.4h0M2629.9 71.3h0M2631.6 79.4h0M2631.8 530h0M2633.5 540h0M2633.5 551h0M2634 620h0" fill="none" stroke="#a52a2a" stroke-width="11.11" stroke-linecap="round"/>
<path d="M2635.9 669.3L2634.2 668.4L2636.3 663.8L2636.2 663.4L2638.5 660.8L2638.4 657.9L2637.8 657.8L2638.8 653.3L2640 651.3L2639.4 650.1L2641.2 648.5L2642.1 645.8L2640.8 644.6L2641.5 645.9L2643.3 648.7L2645 649.5L2645.6 653L2645.8 653.5L2647.9 657L2646.2 658.1L2649.7 660.2L2648.7 664L2650.8 665.7L2651.3 666L2650.1 671L2653 670.3L2651.5 673L2654.9 670.8L2654.8 670.7L2655.5 668.5L2655.1 664L2655 663.7L2656 662.1L2658.6 657.6L2659.6 655.3L2659.4 653L2661 653.2L2662.1 648.3L2662.9 652.1L2663.8 654.1L2664.1 656.5L2665.7 657.1L2664.4 660.6L2666.1 662.3L2666.2 665.5L2667.3 667.8L2670.6 668.8L2669.4 667.3L2670.5 664.5L2671 664.1L2673.1 660.1L2672.6 659.1L2675.7 657.3L2674.3 653.8L2675.7 652.8L2676.1 650.2L2679.4 648.6L2677.3 644.4L2678.5 648.3L2680.7 649.9L2681.1 651.6L2682.4 654.3L2684.1 656.6L2684.6 659.2L2685.5 660.7L2683.9 662.6L2687.2 663.9L2688.1 665.2L2689.1 668L2689.2 669.5L2688.5 667.5L2689.1 664.5L2690.1 664.9L2691.3 662.4L2692.2 659.9L2693.4 657.3L2691.8 653.6L2692.8 650.6L2692.8 650.9L2695.5 647L2695.6 646L2696.5 643.8L2696 639.5L2697.4 637.8L2697.4 640.1L2697.7 644.1L2697.1 644.9L2699.2 647.1L2700.6 648.9L2701.1 651.9L2701.8 652.3L2700.1 655L2702.7 656.4L2701.4 660.6L2704.1 661.2L2703 664.9L2704.3 667.2L2705.1 667.9L2704.2 669.4L2706 672.1L2705.3 676.5L2707 677.5L2707.6 679.7L2708.3 681L2707 682.4L2707.4 685.5L2708.3 686.9L2709.8 687.3L2710.7 683L2711.3 680.5L2709.7 678.7L2711 677.6L2711.5 675.5L2710.8 673.9L2712 671.4L2711.4 669.2L2712.4 667.1L2714.5 664.4L2713.3 660.2L2713.4 660.7L2713.7 657.7L2715.4 655.5L2714.5 651.8L2714.6 652.1L2715.9 648.9L2716.8 645.4L2715.7 642.6L2718.4 640.7L2719.1 639.2L2718.8 636.3L2719.4 634.5L2718.5 633.1L2718.1 630.1L2720.5 632.4L2719.6 636.1L2719.5 636.7L2719.8 639.5L2720.6 642.5L2721.3 645.5L2720.3 647.1L2723.1 648.1L2721 650.9L2721.6 653.2L2723.7 654.4L2722.3 657.8L2722.8 659.3L2724 661.2L2723.2 664.2L2724.7 668.2L2725.3 667.8L2724.7 672.1L2726.1 674.7L2727.6 677L2725.4 679.5L2727 679.6L2726.3 679.2L2726.8 674.6L2727.3 674.9L2728.2 672.1L2727.4 669L2728.5 666L2729.9 664.2L2728.6 663.8L2730.1 659.1L2729 658.3L2730.9 654.1L2731.1 654L2731.7 650.2L2731.9 649.1L2732.8 645.5L2733.6 645.6L2733.7 643.1L2733 641L2732.8 636.7L2734.4 636.4L2733.2 632.1L2733.4 630.5L2734.1 627.5L2736.4 630.9L2737.5 632.6L2737.2 633.6L2738.5 636.5L2737.6 639.5L2739.5 641.7L2740.1 644.3L2738.3 647.1L2738.8 649.8L2740 649.7L2742 652.2L2740.9 654.5L2742.2 655.7L2741.8 658.3L2743.6 660.1L2743.5 663L2743.5 666.2L2744.8 667.1L2743.9 669.2L2746.5 671.5L2744.5 674.9L2746.4 678.2L2745.3 678.4L2746.1 681.7L2747.5 683.4L2749.5 681.9L2750.1 680.6L2749.1 678.4L2750.2 673.5L2752.4 671.5L2750.5 669.8L2752 669.7L2754.5 665.8L2754.2 664.9L2755.7 662.1L2755.5 658.3L2755.4 657.8L2757.2 656L2758.8 654.3L2757.4 649.4L2760.3 648.7L2758.8 646.9L2759.8 643.3L2760.6 646.4L2762 647.2L2762.7 651.1L2762.4 653.4L2763.9 653.6L2763.4 657.8L2764.6 659.9L2763.5 663.1L2765.8 663.1L2765.2 667.5L2765 668L2767.8 671.7L2766.1 673.4L2766.9 675.4L2768.7 676L2767.5 678.4L2768.1 680.1L2768.2 683.4L2769.6 684.6L2770.4 685L2770.7 681L2771.4 679L2770.1 676.9L2770 675.3L2770.7 672.2L2773.5 671.2L2773.4 668.6L2773.1 666.5L2774.5 662.8L2774.2 660.9L2773 660.2L2774.3 658.1L2775.5 655.1L2773.8 651.2L2775.1 651.1L2774.7 646.9L2774.2 645L2776.6 642.3L2775.5 640.9L2777.3 640.8L2775.5 636L2778.6 636.3L2776.6 632.2L2778.2 634.4L2778.4 637L2778.5 637.9L2778.5 640.4L2779 644L2781.4 645.1L2782.2 648.7L2781.3 650.1L2781.4 653.6L2783.1 653.2L2782.4 657.3L2783.6 659.5L2783.6 662L2785.9 662L2785.8 664.5L2786.6 668.5L2787.4 669L2785.9 672.5L2787.8 673.1L2787.2 676.6" fill="none" stroke="#a52a2a" stroke-width="12.5" stroke-linejoin="round" stroke-linecap="square"/>
<path d="M2788.1 676.3L2800 640L2830 630L2856 640" fill="none" stroke="#a52a2a" stroke-width="4.17" stroke-linejoin="round" stroke-linecap="square"/>
<path d="M2857.4 663.3L2856.2 659.6L2858.2 656.5L2858.6 654.4L2857.7 653.4L2858.8 652.4L2861.7 648.8L2860.5 645.5L2862.2 644.4L2862.5 642.8L2863.8 640.7L2863.3 636.3L2864.7 639.7L2864.8 642.4L2865.3 643.5L2866.6 646.8L2868.1 647.9L2867.7 651.7L2869.7 652.9L2867.8 654.5L2870 656.1L2868.7 660.4L2871.9 659.9L2871.1 663.5L2871.2 664L2873.1 668.2L2872.8 668.3L2873.2 670.5L2875.5 672.5L2874 676.7L2874.1 672.6L2874.6 670.6L2876.5 670.5L2876 666.4L2878.4 665L2877.7 662L2878.1 662.4L2878.3 658.1L2880.7 657.8L2881.8 654.4L2882.6 652.7L2881.2 650.1L2883.1 648.8L2881.9 645L2885 642.6L2885.1 641.2L2884 638.8L2885.3 638.8L2884.9 636.3L2886.1 636.5L2887.9 639.2L2886.9 641.7L2889.4 645.2L2889.2 644.9L2890.4 648.9L2891.4 652.1L2890.3 654L2892.4 654.5L2891.6 657.1L2892.2 659.3L2892 661.1L2895 663.8L2894.8 667.5L2895.8 667.8L2896.9 671.7L2897.7 673.7L2897.6 676.1L2896.8 673.5L2897.9 671.8L2897.8 668.7L2899.1 667.4L2899.8 665.2L2902 663.1L2900.6 661.1L2903.1 658.1L2903.5 654L2904.8 653.3L2904.3 650.5L2906 649.6L2906.9 645.7L2906 643.6L2906 641.7L2906.4 640.9L2907.7 636.5L2907.9 636.3L2909.1 637.6L2910.5 640.8L2913 641.5L2912.8 645.4L2913.1 647.6L2914.6 648L2915.8 650.9L2914.3 653.1L2917.3 655L2917 656.9L2919 659.8L2917.8 661L2919 665L2920.8 664.6L2922.3 662.3L2922.2 661.4L2923.4 659.3L2922.3 657.5L2925.4 656.2L2924.8 652.4L2926.8 652L2926.1 650.2L2929.2 646.8L2928.2 645.5L2930.4 646.2L2929 648.8L2930.8 650.5L2930.8 653.7L2931.7 654.8L2933.1 659.6L2932.4 661.1L2931.8 663.7L2933.5 665.4L2934.9 666.4L2935.6 668.1L2933.5 671.2L2936.6 674.6L2937.3 675.6L2937.8 678L2935.9 680.4L2938.3 682.3L2938.1 684.3L2937.5 687.3L2938.6 689.9L2937.8 691L2938.9 695.7L2940.4 692L2939.2 690.7L2939.3 688.7L2941.8 685.4L2941.1 684.7L2941.9 682.5L2942 679L2942.7 678.8L2940.6 676.6L2942.1 671.9L2941.3 671.8L2943.4 667.7L2943 667L2944.9 663.9L2944.5 661.4L2943.1 659L2944 658.1L2943.9 654.5L2943.8 652.1L2944 650.6L2945.1 647.9L2945.3 646.5L2947 644.4L2947.1 642.1L2945.1 640.3L2945.2 636.8L2945.2 636.2L2948.1 633L2946.5 630.9L2946.7 629.5L2947 625.6L2948.6 624.7L2946.3 623.3L2948.7 619.6" fill="none" stroke="#a52a2a" stroke-width="12.5" stroke-linejoin="round" stroke-linecap="square"/>
<path d="M2948.3 621.1L2948 617.5L2948.1 615.6L2949.3 613.8L2950.3 610L2949.1 609.5L2950.5 606.5L2950.5 603.6L2951.5 601.9L2950.3 598.6L2949.9 598.2L2951.9 593.7L2951 592.6L2951.7 590L2953.1 587.7L2952.4 586.9L2953 583.4L2952.5 580.9L2953.5 579.6L2952.8 576.2L2953.5 573.9L2955.1 572L2953.7 569.2L2955.4 566.4L2955.4 563.7L2954.4 561.5L2956.3 559.4L2955 556.9L2955.4 556.3L2956.9 554.5L2957.8 551.2L2958.1 547.7L2958.6 546.3L2957.1 544.8L2959.3 541.6L2957.7 540.5L2959.9 537.5L2960.9 533.7L2958.9 531.7L2959.3 530.9L2961.3 527L2960.5 524.9L2962.1 523.9L2963.5 520.7L2963.9 518.6L2962.7 515.8L2962.6 515.4L2964.8 512.4L2963 508.7L2963.2 506.8L2965 503.8L2964.8 503.1L2965.7 501.4L2969.9 500.8L2971.2 500.6L2973.9 498.2L2973.9 502L2975.7 504.2L2975.5 504.4L2975.1 507.3L2977 508.5L2977.9 512.8L2977.8 513L2979.1 516.3L2979.3 519L2980.2 520.8L2981.4 524.5L2982 525.8L2981.1 527.5L2981.6 531.1L2983.7 533L2984.4 535.8L2984.7 536.3L2985.6 538.4L2987.6 538.1L2990.7 539L2991.6 540.1L2991.4 537.8L2993.5 533.5L2993.8 532.4L2994.5 530.1L2993.5 528.8L2992.9 526.1L2993.3 522.5L2993.6 521.8L2994.7 519.1L2994.6 516.8L2995.9 512.9L2995.8 512.3L2995.4 509.8L2995.8 506.8L2997.8 506L2998.3 502.4L2997.4 501.2L2998 498.1L2998.5 495.7L2998.9 493.7L2996.9 492.2L2997.2 489.8L2997.1 488.4L2998.6 485.6L2997.7 483.1L2998.5 479.9L2999.9 477.1L2999.2 475.1L3000.3 475L2998.4 471.6L2999.7 470.1L3000.6 466.9L3001.3 464.3L2999.4 463.7L2999.6 459.9L3000.7 458.1L3000 457.4L3001 454.8L3000.6 453L3000.7 450.7L3001.9 448.7L3002.5 445.6L3002.1 444L3002 439.8L3003.4 439.5L3003 437.1L3002 434.2L3003.8 433.3L3004.2 429L3003.8 427.8L3003.2 424.6L3002.7 423.2L3003.8 420.4L3003.7 419L3004.9 416.9L3003.5 415.4L3004.2 413.4L3006 409.1L3005.1 409L3004.8 405.7L3005 402L3005 399.9L3005.6 398.9L3006.6 397.3L3007.3 393.5L3008.3 391.8L3007.6 390L3008.3 386.4L3008.4 383.9L3009.7 381.4L3010.1 378.5L3007.9 377.4L3010.2 378.9L3011.8 381.4L3015 382.6L3017.4 385.1L3018.6 386L3017.2 386.4L3018.7 391L3018.8 392.1L3018.4 393.9L3021.1 396.5L3021.3 397.2L3020.1 399.8L3022.2 401.8L3022.8 404.4L3023.1 407.2L3022 410.6L3022.7 412L3022.2 414.6L3025 415L3024.8 417.7L3023.7 420.3L3025.5 424.1L3026.8 426.5L3026.2 427.9L3025.5 430.4L3026.9 431.8L3028.3 433.8L3026.7 435.9L3027.2 439.3L3029.3 440.5L3029 443.9L3029.6 445.8L3030.3 447L3029.8 450.3L3031 453.5L3031.8 455.9L3032.5 456.3L3033.9 459.4L3034.3 462.6L3034.8 464.6L3038.4 462L3039.5 461.2L3041.8 457.3L3040.8 454.8L3041.8 452.6L3043 451.3L3042.5 449.3L3044.5 446.4L3042.8 444.4L3043.7 443.8L3045 440.3L3044 437.1L3044.2 437L3046 433L3046.1 430.5L3045.9 428.9L3044.9 427.7L3046.7 424.8L3045.4 423L3046.2 420.7L3045.4 419L3045.3 415L3046.5 412.6L3045.8 411.6L3048.3 408.4L3046.5 407L3046.5 404.1L3047.8 401.9L3046.6 398.7L3047.7 398.8L3049.1 394.2L3048.4 392.9L3047.9 391.1L3049.1 389.2L3049 387.3L3050.7 383.8L3049.3 381.5L3049.7 379.8L3051.5 377.2L3052.7 373.6L3052.4 373.3L3051.2 369.7L3051.4 368.1L3053.5 365.3L3053.8 363L3054.3 360.5L3055.4 358.8L3053.3 355.7L3055.7 355.5L3055.9 351.5L3057 350.8L3055.5 347.7L3057.4 344.6L3056.2 343.3L3058.8 342.8L3057.8 340.4L3059.5 338.1L3059.5 336.2L3060.1 334L3061.2 330L3062.5 328.7L3063.4 326.4L3064.6 329.2L3064.6 330.7L3066.1 333.5L3066.6 336.2L3066.7 338.2L3067.7 341.1L3069.6 343.4L3069.8 344.2L3071.5 347.1L3070.7 348.7L3071.4 352L3073.1 353.6L3073.5 355L3073.4 357.6L3073.7 359.8L3075.4 362.9L3074.6 363.8L3076.8 367.1L3077.1 369.2L3077.8 370.4L3076.8 372.8L3077.3 376.6L3079.2 378.1L3080.9 380.7L3079.6 381.7L3079.9 385.1L3082.2 386.5L3081.8 388.2L3082.7 391.6L3084.4 394.2L3085 395.3L3085 393L3087.6 390.6L3086.7 388.9L3089.9 388.3L3089.6 386.3L3091.5 383L3090.1 381.7L3091.1 377.9L3092.9 376.5L3092.1 374.7L3092.2 371L3093 369.8L3092.5 367.6L3094.9 365.3L3095.2 363.9L3094.4 360.1L3096.1 359.5L3095.6 356.2L3097.4 355.9L3096.2 352.8L3097.4 349.9L3096.4 347.7L3098.3 346.3L3098.4 342.8L3098 341.1L3098.9 339L3100.5 336.2L3101.1 334.3L3101.1 332.1L3100.7 330.2L3099.6 328.9L3101.9 325.3L3102.1 323.5L3102.9 320.1L3101.6 318.2L3102.5 317.3L3103.4 314.4L3102.5 312.8L3102 309L3104 307.2L3104.9 304L3103.8 302L3102.9 299.3L3103.8 297.7L3105.4 295.7L3105.7 293.9L3106.9 292.3L3106.7 288.7L3108.2 286L3110.4 287.6L3111.6 290L3111.4 292.7L3113.2 293.8L3113.2 297.6L3114.4 297.7L3115.6 301.1L3115.2 302.9L3116.9 305.2L3116.3 309.1L3116.6 310L3116.5 313L3118.2 314.7L3118 316.5L3119.4 319.4L3120 321.5L3120.1 322.9L3119.2 327.6L3120.9 329.2L3120.7 330.9L3120.1 332.4L3121.6 336.1L3120.8 338.2L3120.8 340.5L3121.1 342.5L3121.8 344.9L3121.6 347L3123.1 348.4L3122.6 352.1L3123.5 354.2L3124.3 356.4L3123.1 358.4L3125 361L3125.1 362.7" fill="none" stroke="#a52a2a" stroke-width="12" stroke-linejoin="round" stroke-linecap="square"/>
<path d="M3124.4 364.3L3016 364.3" fill="none" stroke="#a52a2a" stroke-width="4.17" stroke-linejoin="round" stroke-linecap="square"/>
<path d="M3124.4 364.3h0M3016 364.3h0" fill="none" stroke="#a52a2a" stroke-width="11.11" stroke-linecap="round"/>
<path d="M1818 601.5L2140 602L2451 604" fill="none" stroke="#00ffff" stroke-width="17" stroke-linejoin="round" stroke-linecap="square"/>
<path d="M2622 602L2762 602" fill="none" stroke="#00ffff" stroke-width="15" stroke-linejoin="round" stroke-linecap="square"/>
<path d="M2905 598L3120 598" fill="none" stroke="#00ffff" stroke-width="10" stroke-linejoin="round" stroke-linecap="square"/>
<path d="M306 597.7l-8.3 16.7h16.7zM990.4 533.2l-8.3 16.7h16.7zM990.4 537.8l-8.3 16.7h16.7zM990.4 542.4l-8.3 16.7h16.7zM990.4 547l-8.3 16.7h16.7zM990.4 551.6l-8.3 16.7h16.7zM990.4 556.2l-8.3 16.7h16.7zM990.4 560.8l-8.3 16.7h16.7zM990.4 565.4l-8.3 16.7h16.7zM990.4 602.7l-8.3 16.7h16.7zM990.4 607.4l-8.3 16.7h16.7zM990.4 612.1l-8.3 16.7h16.7zM990.4 616.8l-8.3 16.7h16.7zM990.4 621.5l-8.3 16.7h16.7zM990.4 626.2l-8.3 16.7h16.7zM990.4 630.9l-8.3 16.7h16.7zM990.4 635.6l-8.3 16.7h16.7zM990.4 640.3l-8.3 16.7h16.7zM990.4 645l-8.3 16.7h16.7zM990.4 649.7l-8.3 16.7h16.7zM990.4 654.4l-8.3 16.7h16.7zM990.4 659.1l-8.3 16.7h16.7zM990.4 663.8l-8.3 16.7h16.7zM990.4 668.5l-8.3 16.7h16.7zM990.4 673.2l-8.3 16.7h16.7zM990.4 677.9l-8.3 16.7h16.7zM990.4 682.6l-8.3 16.7h16.7zM990.4 687.3l-8.3 16.7h16.7zM990.4 692l-8.3 16.7h16.7zM990.4 696.7l-8.3 16.7h16.7zM990.4 701.4l-8.3 16.7h16.7zM990.4 706.1l-8.3 16.7h16.7zM990.4 710.8l-8.3 16.7h16.7zM990.4 715.5l-8.3 16.7h16.7zM990.4 720.2l-8.3 16.7h16.7zM990.4 724.9l-8.3 16.7h16.7zM990.4 729.6l-8.3 16.7h16.7zM1041.5 568.7l-8.3 16.7h16.7zM1114.6 568.7l-8.3 16.7h16.7zM1187.7 573.7l-8.3 16.7h16.7zM1260.8 576.8l-8.3 16.7h16.7zM1333.9 580.8l-8.3 16.7h16.7zM1407 608.5l-8.3 16.7h16.7zM1480.1 658.5l-8.3 16.7h16.7zM1553.2 705.7l-8.3 16.7h16.7zM1626.3 736.7l-8.3 16.7h16.7zM1699.4 800.7l-8.3 16.7h16.7zM1772.5 814.7l-8.3 16.7h16.7zM1845.6 820.7l-8.3 16.7h16.7zM1918.7 820.9l-8.3 16.7h16.7zM1991.8 820.9l-8.3 16.7h16.7zM2064.9 820.9l-8.3 16.7h16.7zM2137.3 820.9l-8.3 16.7h16.7zM2192.6 820.5l-8.3 16.7h16.7zM2225.5 820.5l-8.3 16.7h16.7zM2239.4 818.4l-8.3 16.7h16.7zM1773.4 581.2l-8.3 16.7h16.7zM1782.5 581.2l-8.3 16.7h16.7zM1809.8 581.7l-8.3 16.7h16.7zM1773.8 583.7l-8.3 16.7h16.7zM1776.4 586.2l-8.3 16.7h16.7zM1776.2 588.7l-8.3 16.7h16.7zM1776 591.2l-8.3 16.7h16.7zM1774.3 593.8l-8.3 16.7h16.7zM1776.8 596.3l-8.3 16.7h16.7zM1775 598.8l-8.3 16.7h16.7zM1779.1 601.4l-8.3 16.7h16.7zM1779.7 603.9l-8.3 16.7h16.7zM1779.2 606.4l-8.3 16.7h16.7zM1777.8 608.9l-8.3 16.7h16.7zM1780.6 611.5l-8.3 16.7h16.7zM1778.4 614l-8.3 16.7h16.7zM1781.5 616.5l-8.3 16.7h16.7zM1780.7 619l-8.3 16.7h16.7zM1779.2 621.6l-8.3 16.7h16.7zM1783.1 624.1l-8.3 16.7h16.7zM1781.8 626.6l-8.3 16.7h16.7zM1783.8 629.1l-8.3 16.7h16.7zM1783.8 631.7l-8.3 16.7h16.7zM1783.7 634.2l-8.3 16.7h16.7zM1785.6 636.7l-8.3 16.7h16.7zM1783.6 639.2l-8.3 16.7h16.7zM1787 641.7l-8.3 16.7h16.7zM1785.4 644.2l-8.3 16.7h16.7zM1784.7 646.7l-8.3 16.7h16.7zM1786.5 649.2l-8.3 16.7h16.7zM1786.1 651.7l-8.3 16.7h16.7zM1786.7 654.2l-8.3 16.7h16.7zM1789.5 656.7l-8.3 16.7h16.7zM1788.1 659.2l-8.3 16.7h16.7zM1788.8 661.7l-8.3 16.7h16.7zM1790 664.2l-8.3 16.7h16.7zM1790.5 666.7l-8.3 16.7h16.7zM1793.7 669.2l-8.3 16.7h16.7zM1794.2 671.7l-8.3 16.7h16.7zM1794.7 674.2l-8.3 16.7h16.7zM1795.8 676.7l-8.3 16.7h16.7zM1794.2 679.2l-8.3 16.7h16.7zM1796.2 681.7l-8.3 16.7h16.7zM1794.8 684.1l-8.3 16.7h16.7zM1798.1 686.5l-8.3 16.7h16.7zM1798.3 688.9l-8.3 16.7h16.7zM1798.7 691.4l-8.3 16.7h16.7zM1797.3 693.8l-8.3 16.7h16.7zM1797.5 696.2l-8.3 16.7h16.7zM1801.5 698.6l-8.3 16.7h16.7zM1800.7 701l-8.3 16.7h16.7zM1801.6 703.5l-8.3 16.7h16.7zM1803.3 705.9l-8.3 16.7h16.7zM1801.1 708.3l-8.3 16.7h16.7zM1804 710.7l-8.3 16.7h16.7zM1803.8 713.1l-8.3 16.7h16.7zM1805.7 715.6l-8.3 16.7h16.7zM1805.1 718l-8.3 16.7h16.7zM1804.7 720.4l-8.3 16.7h16.7zM1808.5 722.8l-8.3 16.7h16.7zM1806.4 725.2l-8.3 16.7h16.7zM1809 727.7l-8.3 16.7h16.7zM1811.3 729.3l-8.3 16.7h16.7zM1811 731l-8.3 16.7h16.7zM1814.8 732.7l-8.3 16.7h16.7zM1813 595.8l-8.3 16.7h16.7zM1815.5 598.2l-8.3 16.7h16.7zM1818 599.6l-8.3 16.7h16.7zM1820.5 606.6l-8.3 16.7h16.7zM1823 599.5l-8.3 16.7h16.7zM1825.5 601.5l-8.3 16.7h16.7zM1828 598.8l-8.3 16.7h16.7zM1830.5 598.2l-8.3 16.7h16.7zM1833 598.1l-8.3 16.7h16.7zM1835.5 592.4l-8.3 16.7h16.7zM1838 597.2l-8.3 16.7h16.7zM1840.5 595.3l-8.3 16.7h16.7zM1843 597.2l-8.3 16.7h16.7zM1845.5 600.4l-8.3 16.7h16.7zM1848 598.5l-8.3 16.7h16.7zM1850.5 593.3l-8.3 16.7h16.7zM1853 592.1l-8.3 16.7h16.7zM1855.5 597.1l-8.3 16.7h16.7zM1858 601.6l-8.3 16.7h16.7zM1860.5 605.7l-8.3 16.7h16.7zM1863 597.8l-8.3 16.7h16.7zM1865.5 598.4l-8.3 16.7h16.7zM1868 598.6l-8.3 16.7h16.7zM1870.5 596l-8.3 16.7h16.7zM1873 596.3l-8.3 16.7h16.7zM1875.5 593.9l-8.3 16.7h16.7zM1878 596.4l-8.3 16.7h16.7zM1880.5 595.7l-8.3 16.7h16.7zM1883 595.9l-8.3 16.7h16.7zM1885.5 601.4l-8.3 16.7h16.7zM1888 596.3l-8.3 16.7h16.7zM1890.5 597.4l-8.3 16.7h16.7zM1893 595.5l-8.3 16.7h16.7zM1895.5 595.5l-8.3 16.7h16.7zM1898 596.4l-8.3 16.7h16.7zM1900.5 597.1l-8.3 16.7h16.7zM1903 598.1l-8.3 16.7h16.7zM1905.5 595.5l-8.3 16.7h16.7zM1908 598.6l-8.3 16.7h16.7zM1910.5 594.5l-8.3 16.7h16.7zM1913 592.4l-8.3 16.7h16.7zM1915.5 592.3l-8.3 16.7h16.7zM1918 599l-8.3 16.7h16.7zM1920.5 602.4l-8.3 16.7h16.7zM1923 598.3l-8.3 16.7h16.7zM1925.5 604.3l-8.3 16.7h16.7zM1928 602.1l-8.3 16.7h16.7zM1930.5 595.1l-8.3 16.7h16.7zM1933 597.8l-8.3 16.7h16.7zM1935.5 594.5l-8.3 16.7h16.7zM1938 592.3l-8.3 16.7h16.7zM1940.5 587.8l-8.3 16.7h16.7zM1943 593.3l-8.3 16.7h16.7zM1945.5 596.9l-8.3 16.7h16.7zM1948 593.9l-8.3 16.7h16.7zM1950.5 597.9l-8.3 16.7h16.7zM1953 599.1l-8.3 16.7h16.7zM1955.5 600.3l-8.3 16.7h16.7zM1958 601.2l-8.3 16.7h16.7zM1960.5 597l-8.3 16.7h16.7zM1963 598.6l-8.3 16.7h16.7zM1965.5 599.8l-8.3 16.7h16.7zM1968 596.8l-8.3 16.7h16.7zM1970.5 596.3l-8.3 16.7h16.7zM1973 592.9l-8.3 16.7h16.7zM1975.5 595.9l-8.3 16.7h16.7zM1978 593.2l-8.3 16.7h16.7zM1980.5 596.9l-8.3 16.7h16.7zM1983 597.6l-8.3 16.7h16.7zM1985.5 597.1l-8.3 16.7h16.7zM1988 599.4l-8.3 16.7h16.7zM1990.5 597.6l-8.3 16.7h16.7zM1993 603.1l-8.3 16.7h16.7zM1995.5 601.7l-8.3 16.7h16.7zM1998 596l-8.3 16.7h16.7zM2000.5 595.1l-8.3 16.7h16.7zM2003 597.5l-8.3 16.7h16.7zM2005.5 603.2l-8.3 16.7h16.7zM2008 598.6l-8.3 16.7h16.7zM2010.5 603.1l-8.3 16.7h16.7zM2013 601l-8.3 16.7h16.7zM2015.5 603.6l-8.3 16.7h16.7zM2018 598.7l-8.3 16.7h16.7zM2020.5 595.6l-8.3 16.7h16.7zM2023 595.5l-8.3 16.7h16.7zM2025.5 596.7l-8.3 16.7h16.7zM2028 594l-8.3 16.7h16.7zM2030.5 591.9l-8.3 16.7h16.7zM2033 597.2l-8.3 16.7h16.7zM2035.5 600.8l-8.3 16.7h16.7zM2038 599.1l-8.3 16.7h16.7zM2040.5 596.9l-8.3 16.7h16.7zM2043 600.8l-8.3 16.7h16.7zM2045.5 593.6l-8.3 16.7h16.7zM2048 598l-8.3 16.7h16.7zM2050.5 598.6l-8.3 16.7h16.7zM2053 600.3l-8.3 16.7h16.7zM2055.5 600.3l-8.3 16.7h16.7zM2058 602.2l-8.3 16.7h16.7zM2060.5 601.9l-8.3 16.7h16.7zM2063 599.8l-8.3 16.7h16.7zM2065.5 601.5l-8.3 16.7h16.7zM2068 596.5l-8.3 16.7h16.7zM2070.5 597.8l-8.3 16.7h16.7zM2073 599l-8.3 16.7h16.7zM2075.5 593.2l-8.3 16.7h16.7zM2078 597.2l-8.3 16.7h16.7zM2080.5 599l-8.3 16.7h16.7zM2083 601.3l-8.3 16.7h16.7zM2085.5 599.6l-8.3 16.7h16.7zM2088 602.6l-8.3 16.7h16.7zM2090.5 603.3l-8.3 16.7h16.7zM2093 602.6l-8.3 16.7h16.7zM2095.5 589.4l-8.3 16.7h16.7zM2098 593.8l-8.3 16.7h16.7zM2100.5 596.6l-8.3 16.7h16.7zM2103 597.3l-8.3 16.7h16.7zM2105.5 594.1l-8.3 16.7h16.7zM2108 598.9l-8.3 16.7h16.7zM2110.5 596.9l-8.3 16.7h16.7zM2113 596.8l-8.3 16.7h16.7zM2115.5 598.4l-8.3 16.7h16.7zM2118 601.8l-8.3 16.7h16.7zM2120.5 598.5l-8.3 16.7h16.7zM2123 594.8l-8.3 16.7h16.7zM2125.5 597.5l-8.3 16.7h16.7zM2128 598.3l-8.3 16.7h16.7zM2130.5 591.8l-8.3 16.7h16.7zM2133 592.7l-8.3 16.7h16.7zM2135.5 595.5l-8.3 16.7h16.7zM2138 590.8l-8.3 16.7h16.7zM2140.5 600.1l-8.3 16.7h16.7zM2143 595.8l-8.3 16.7h16.7zM2145.5 600.4l-8.3 16.7h16.7zM2148 596.6l-8.3 16.7h16.7zM2150.5 596.8l-8.3 16.7h16.7zM2153 596l-8.3 16.7h16.7zM2155.5 596.7l-8.3 16.7h16.7zM2158 592l-8.3 16.7h16.7zM2160.5 593.5l-8.3 16.7h16.7zM2163 599.4l-8.3 16.7h16.7zM2165.5 601l-8.3 16.7h16.7zM2168 607l-8.3 16.7h16.7zM2170.5 597.1l-8.3 16.7h16.7zM2173 603l-8.3 16.7h16.7zM2175.5 601.7l-8.3 16.7h16.7zM2178 596.4l-8.3 16.7h16.7zM2180.5 593.4l-8.3 16.7h16.7zM2183 594.8l-8.3 16.7h16.7zM2185.5 597.6l-8.3 16.7h16.7zM2188 597l-8.3 16.7h16.7zM2190.5 603.3l-8.3 16.7h16.7zM2193 601.2l-8.3 16.7h16.7zM2195.5 598.2l-8.3 16.7h16.7zM2198 595.9l-8.3 16.7h16.7zM2200.5 594l-8.3 16.7h16.7zM2203 596.5l-8.3 16.7h16.7zM2205.5 597.5l-8.3 16.7h16.7zM2208 595.8l-8.3 16.7h16.7zM2210.5 598.8l-8.3 16.7h16.7zM2213 596.8l-8.3 16.7h16.7zM2215.5 596.5l-8.3 16.7h16.7zM2218 601.5l-8.3 16.7h16.7zM2220.5 604.1l-8.3 16.7h16.7zM2223 600.6l-8.3 16.7h16.7zM2225.5 605.8l-8.3 16.7h16.7zM2228 601.3l-8.3 16.7h16.7zM2230.5 604.4l-8.3 16.7h16.7zM2233 602.6l-8.3 16.7h16.7zM2235.5 599.6l-8.3 16.7h16.7zM2238 599.5l-8.3 16.7h16.7zM2240.5 598.3l-8.3 16.7h16.7zM2243 599.7l-8.3 16.7h16.7zM2245.5 599.4l-8.3 16.7h16.7zM2248 599l-8.3 16.7h16.7zM2250.5 596.2l-8.3 16.7h16.7zM2253 599.4l-8.3 16.7h16.7zM2255.5 602.5l-8.3 16.7h16.7zM2258 597.7l-8.3 16.7h16.7zM2260.5 598.6l-8.3 16.7h16.7zM2263 602l-8.3 16.7h16.7zM2265.5 603.6l-8.3 16.7h16.7zM2268 599l-8.3 16.7h16.7zM2270.5 607.5l-8.3 16.7h16.7zM2273 601l-8.3 16.7h16.7zM2275.5 602.7l-8.3 16.7h16.7zM2278 602.4l-8.3 16.7h16.7zM2280.5 609.6l-8.3 16.7h16.7zM2283 602.6l-8.3 16.7h16.7zM2285.5 605.4l-8.3 16.7h16.7zM2288 604.2l-8.3 16.7h16.7zM2290.5 599.1l-8.3 16.7h16.7zM2293 599.4l-8.3 16.7h16.7zM2295.5 596.9l-8.3 16.7h16.7zM2298 599l-8.3 16.7h16.7zM2300.5 600l-8.3 16.7h16.7zM2303 593.4l-8.3 16.7h16.7zM2305.5 598.7l-8.3 16.7h16.7zM2308 600.2l-8.3 16.7h16.7zM2310.5 603.3l-8.3 16.7h16.7zM2313 601.7l-8.3 16.7h16.7zM2315.5 598l-8.3 16.7h16.7zM2318 601.2l-8.3 16.7h16.7zM2320.5 603.7l-8.3 16.7h16.7zM2323 594.7l-8.3 16.7h16.7zM2325.5 600.7l-8.3 16.7h16.7zM2328 602.1l-8.3 16.7h16.7zM2330.5 599.4l-8.3 16.7h16.7zM2333 596.4l-8.3 16.7h16.7zM2335.5 596.7l-8.3 16.7h16.7zM2338 601.7l-8.3 16.7h16.7zM2340.5 601.4l-8.3 16.7h16.7zM2343 603l-8.3 16.7h16.7zM2345.5 599.9l-8.3 16.7h16.7zM2348 595.3l-8.3 16.7h16.7zM2350.5 594.8l-8.3 16.7h16.7zM2353 604.2l-8.3 16.7h16.7zM2355.5 604.8l-8.3 16.7h16.7zM2358 604.4l-8.3 16.7h16.7zM2360.5 603.8l-8.3 16.7h16.7zM2363 601.6l-8.3 16.7h16.7zM2365.5 600l-8.3 16.7h16.7zM2368 598.6l-8.3 16.7h16.7zM2370.5 600.4l-8.3 16.7h16.7zM2373 599.4l-8.3 16.7h16.7zM2375.5 599.6l-8.3 16.7h16.7zM2378 601l-8.3 16.7h16.7zM2380.5 602.2l-8.3 16.7h16.7zM2383 602.2l-8.3 16.7h16.7zM2385.5 601.6l-8.3 16.7h16.7zM2388 602l-8.3 16.7h16.7zM2390.5 604.6l-8.3 16.7h16.7zM2393 606.1l-8.3 16.7h16.7zM2395.5 607.5l-8.3 16.7h16.7zM2398 601.4l-8.3 16.7h16.7zM2400.5 601.8l-8.3 16.7h16.7zM2403 601.1l-8.3 16.7h16.7zM2405.5 606.7l-8.3 16.7h16.7zM2408 608.4l-8.3 16.7h16.7zM2410.5 605.6l-8.3 16.7h16.7zM2413 609.1l-8.3 16.7h16.7zM2415.5 609l-8.3 16.7h16.7zM2418 600.6l-8.3 16.7h16.7zM2420.5 602.6l-8.3 16.7h16.7zM2423 602.1l-8.3 16.7h16.7zM2425.5 599.7l-8.3 16.7h16.7zM2428 604.4l-8.3 16.7h16.7zM2430.5 604l-8.3 16.7h16.7zM2433 597.3l-8.3 16.7h16.7zM2435.5 595.7l-8.3 16.7h16.7zM2438 597l-8.3 16.7h16.7zM2440.5 602.2l-8.3 16.7h16.7zM2443 602.3l-8.3 16.7h16.7zM2445.5 604.2l-8.3 16.7h16.7zM2448 601.1l-8.3 16.7h16.7zM2450.5 604.7l-8.3 16.7h16.7zM2140 606.1l-8.3 16.7h16.7zM2146 605.9l-8.3 16.7h16.7zM2152 608.8l-8.3 16.7h16.7zM2158 604.4l-8.3 16.7h16.7zM2164 610.1l-8.3 16.7h16.7zM2170 607.6l-8.3 16.7h16.7zM2176 605.5l-8.3 16.7h16.7zM2182 604.6l-8.3 16.7h16.7zM2188 607.7l-8.3 16.7h16.7zM2194 607.7l-8.3 16.7h16.7zM2200 609.4l-8.3 16.7h16.7zM2206 606.7l-8.3 16.7h16.7zM2212 607l-8.3 16.7h16.7zM2218 610.8l-8.3 16.7h16.7zM2224 605.9l-8.3 16.7h16.7zM2230 611.5l-8.3 16.7h16.7zM2236 610.8l-8.3 16.7h16.7zM2242 611.6l-8.3 16.7h16.7zM2248 611.2l-8.3 16.7h16.7zM2254 605.7l-8.3 16.7h16.7zM2260 610.2l-8.3 16.7h16.7zM2266 608.6l-8.3 16.7h16.7zM2272 605.3l-8.3 16.7h16.7zM2278 611.6l-8.3 16.7h16.7zM2284 608.8l-8.3 16.7h16.7zM2290 610.1l-8.3 16.7h16.7zM2296 608.1l-8.3 16.7h16.7zM2302 604.3l-8.3 16.7h16.7zM2308 610.6l-8.3 16.7h16.7zM2314 605.1l-8.3 16.7h16.7zM2320 605.7l-8.3 16.7h16.7zM2326 608.6l-8.3 16.7h16.7zM2332 605.2l-8.3 16.7h16.7zM2338 607.4l-8.3 16.7h16.7zM2344 609.4l-8.3 16.7h16.7zM2350 604.4l-8.3 16.7h16.7zM2356 609l-8.3 16.7h16.7zM2362 604.5l-8.3 16.7h16.7zM2368 607.5l-8.3 16.7h16.7zM2374 608.9l-8.3 16.7h16.7zM2380 609.2l-8.3 16.7h16.7zM2386 604l-8.3 16.7h16.7zM2392 605.2l-8.3 16.7h16.7zM2398 611.3l-8.3 16.7h16.7zM2404 606.8l-8.3 16.7h16.7zM2410 607.1l-8.3 16.7h16.7zM2416 606.7l-8.3 16.7h16.7zM2422 609.2l-8.3 16.7h16.7zM2428 609.6l-8.3 16.7h16.7zM2434 608.9l-8.3 16.7h16.7zM2440 606.9l-8.3 16.7h16.7zM2446 608.2l-8.3 16.7h16.7zM2452 607.8l-8.3 16.7h16.7zM1960.6 636.3l-8.3 16.7h16.7zM1959.5 696.9l-8.3 16.7h16.7zM1947.7 699.1l-8.3 16.7h16.7zM1939.3 687.1l-8.3 16.7h16.7zM1956.8 679.6l-8.3 16.7h16.7zM1961.7 694.9l-8.3 16.7h16.7zM1940.2 690.3l-8.3 16.7h16.7zM1948.1 683.1l-8.3 16.7h16.7zM1945.1 646l-8.3 16.7h16.7zM1961.6 684l-8.3 16.7h16.7zM1955.3 687.5l-8.3 16.7h16.7zM1940.3 635l-8.3 16.7h16.7zM1939.2 666l-8.3 16.7h16.7zM1936.9 647.9l-8.3 16.7h16.7zM1954.4 633.7l-8.3 16.7h16.7zM1958.4 639.1l-8.3 16.7h16.7zM1959.6 647.3l-8.3 16.7h16.7zM1942.2 645.3l-8.3 16.7h16.7zM1933.3 652.5l-8.3 16.7h16.7zM1945.1 655.6l-8.3 16.7h16.7zM1956.4 622.7l-8.3 16.7h16.7zM1933.2 650.9l-8.3 16.7h16.7zM1938.7 696.6l-8.3 16.7h16.7zM1935.7 641.4l-8.3 16.7h16.7zM1953.8 629.4l-8.3 16.7h16.7zM1949.1 667.1l-8.3 16.7h16.7zM1943.1 640.9l-8.3 16.7h16.7zM1944.1 697.3l-8.3 16.7h16.7zM1963.7 698.8l-8.3 16.7h16.7zM1957.3 631.4l-8.3 16.7h16.7zM1953.4 623.3l-8.3 16.7h16.7zM1956.2 684.8l-8.3 16.7h16.7zM1959.6 664.6l-8.3 16.7h16.7zM1950 633.7l-8.3 16.7h16.7zM1946.1 642.4l-8.3 16.7h16.7zM1954.4 636.6l-8.3 16.7h16.7zM1958.6 666.4l-8.3 16.7h16.7zM1952.5 670.7l-8.3 16.7h16.7zM1960.9 693.6l-8.3 16.7h16.7zM1943.1 665.9l-8.3 16.7h16.7zM1944.1 694l-8.3 16.7h16.7zM1945.1 629.6l-8.3 16.7h16.7zM1964.4 676.8l-8.3 16.7h16.7zM1954.7 672l-8.3 16.7h16.7zM1959.6 694.8l-8.3 16.7h16.7zM1947.8 656.4l-8.3 16.7h16.7zM1942.4 680.9l-8.3 16.7h16.7zM1951.8 630.2l-8.3 16.7h16.7zM1939.7 684.8l-8.3 16.7h16.7zM1962.9 675l-8.3 16.7h16.7zM1940.3 631.6l-8.3 16.7h16.7zM1943.5 660.1l-8.3 16.7h16.7zM1967.9 695.7l-8.3 16.7h16.7zM1958.6 656.4l-8.3 16.7h16.7zM1937.6 670.9l-8.3 16.7h16.7zM1936.6 697.5l-8.3 16.7h16.7zM1947.9 627.6l-8.3 16.7h16.7zM1948.6 623.1l-8.3 16.7h16.7zM1963.7 653.8l-8.3 16.7h16.7zM1960.3 653.9l-8.3 16.7h16.7zM1952.2 682.5l-8.3 16.7h16.7zM1943.6 640.2l-8.3 16.7h16.7zM1945.5 660l-8.3 16.7h16.7zM1949.2 672l-8.3 16.7h16.7zM1952.2 646.9l-8.3 16.7h16.7zM1937.7 699.4l-8.3 16.7h16.7zM1934.1 647.8l-8.3 16.7h16.7zM1938.8 629l-8.3 16.7h16.7zM1959.9 654.7l-8.3 16.7h16.7zM1965.6 676.1l-8.3 16.7h16.7zM1958.3 764.7l-8.3 16.7h16.7zM1959.3 776.7l-8.3 16.7h16.7zM1959.3 785.7l-8.3 16.7h16.7zM1959.3 791.7l-8.3 16.7h16.7zM1965.5 515.9l-8.3 16.7h16.7zM1965.5 530.7l-8.3 16.7h16.7zM1966.5 553.7l-8.3 16.7h16.7zM1994 202.7l-8.3 16.7h16.7zM1990 227.7l-8.3 16.7h16.7zM1998 227.7l-8.3 16.7h16.7zM1999 237.7l-8.3 16.7h16.7zM1999 250.7l-8.3 16.7h16.7zM2000 265.7l-8.3 16.7h16.7zM2001 275.7l-8.3 16.7h16.7zM2001.5 282.7l-8.3 16.7h16.7zM2002.4 292.4l-8.3 16.7h16.7zM2003.4 300.1l-8.3 16.7h16.7zM2004 353.7l-8.3 16.7h16.7zM2306.8 496.7l-8.3 16.7h16.7zM2306.8 503.7l-8.3 16.7h16.7zM2306.8 511.7l-8.3 16.7h16.7zM2306.8 518.7l-8.3 16.7h16.7zM2306.8 523.7l-8.3 16.7h16.7zM2062.3 624l-8.3 16.7h16.7zM2063.4 642.7l-8.3 16.7h16.7zM2112.7 624.5l-8.3 16.7h16.7zM2136.7 642.3l-8.3 16.7h16.7zM2209.8 637.5l-8.3 16.7h16.7zM2195 631.7l-8.3 16.7h16.7zM2240 627.7l-8.3 16.7h16.7zM2386 659.7l-8.3 16.7h16.7zM2387 671.7l-8.3 16.7h16.7zM2388 686.7l-8.3 16.7h16.7zM2388.5 704.3l-8.3 16.7h16.7zM2391.6 728.5l-8.3 16.7h16.7zM2392.4 735.1l-8.3 16.7h16.7zM2393.2 762.2l-8.3 16.7h16.7zM2394.5 770.6l-8.3 16.7h16.7zM2395 775.8l-8.3 16.7h16.7zM2396.4 791.6l-8.3 16.7h16.7zM2413.5 791.6l-8.3 16.7h16.7zM2435.3 790.3l-8.3 16.7h16.7zM2506.3 790.3l-8.3 16.7h16.7zM2563.3 782.4l-8.3 16.7h16.7zM2598.3 782.4l-8.3 16.7h16.7zM2612.5 781.9l-8.3 16.7h16.7zM2616 792.7l-8.3 16.7h16.7zM2619.9 798.2l-8.3 16.7h16.7zM2623.8 803.5l-8.3 16.7h16.7zM2626 805.6l-8.3 16.7h16.7zM2413.5 828.4l-8.3 16.7h16.7zM2413.5 836.3l-8.3 16.7h16.7zM2413.5 844.2l-8.3 16.7h16.7zM2399 848.2l-8.3 16.7h16.7zM2400.3 854.7l-8.3 16.7h16.7zM2404.3 860l-8.3 16.7h16.7zM2405.6 866.6l-8.3 16.7h16.7zM2406.9 873.1l-8.3 16.7h16.7zM2406.9 881l-8.3 16.7h16.7zM2616 599.6l-8.3 16.7h16.7zM2618.5 595.5l-8.3 16.7h16.7zM2621 596.2l-8.3 16.7h16.7zM2623.5 596.7l-8.3 16.7h16.7zM2626 595.6l-8.3 16.7h16.7zM2628.5 598.1l-8.3 16.7h16.7zM2631 597.1l-8.3 16.7h16.7zM2633.5 596.7l-8.3 16.7h16.7zM2636 594.6l-8.3 16.7h16.7zM2638.5 595.4l-8.3 16.7h16.7zM2641 593.8l-8.3 16.7h16.7zM2643.5 595.9l-8.3 16.7h16.7zM2646 600.3l-8.3 16.7h16.7zM2648.5 601.7l-8.3 16.7h16.7zM2651 600.8l-8.3 16.7h16.7zM2653.5 595.7l-8.3 16.7h16.7zM2656 599.5l-8.3 16.7h16.7zM2658.5 601l-8.3 16.7h16.7zM2661 604.9l-8.3 16.7h16.7zM2663.5 595.4l-8.3 16.7h16.7zM2666 596.6l-8.3 16.7h16.7zM2668.5 596.3l-8.3 16.7h16.7zM2671 599.9l-8.3 16.7h16.7zM2673.5 596l-8.3 16.7h16.7zM2676 595.8l-8.3 16.7h16.7zM2678.5 602.8l-8.3 16.7h16.7zM2681 602.9l-8.3 16.7h16.7zM2683.5 595.1l-8.3 16.7h16.7zM2686 596.4l-8.3 16.7h16.7zM2688.5 600.7l-8.3 16.7h16.7zM2691 597.5l-8.3 16.7h16.7zM2693.5 599.2l-8.3 16.7h16.7zM2696 598.7l-8.3 16.7h16.7zM2698.5 594.4l-8.3 16.7h16.7zM2701 594.3l-8.3 16.7h16.7zM2703.5 599l-8.3 16.7h16.7zM2706 601.5l-8.3 16.7h16.7zM2708.5 598.1l-8.3 16.7h16.7zM2711 600.9l-8.3 16.7h16.7zM2713.5 597.4l-8.3 16.7h16.7zM2716 598.2l-8.3 16.7h16.7zM2718.5 597.9l-8.3 16.7h16.7zM2721 594.4l-8.3 16.7h16.7zM2723.5 596.9l-8.3 16.7h16.7zM2726 596.2l-8.3 16.7h16.7zM2728.5 589.8l-8.3 16.7h16.7zM2731 591.5l-8.3 16.7h16.7zM2733.5 592.4l-8.3 16.7h16.7zM2736 592.8l-8.3 16.7h16.7zM2738.5 592.7l-8.3 16.7h16.7zM2741 593.3l-8.3 16.7h16.7zM2743.5 589.1l-8.3 16.7h16.7zM2746 595.8l-8.3 16.7h16.7zM2748.5 596.9l-8.3 16.7h16.7zM2751 598l-8.3 16.7h16.7zM2753.5 597.2l-8.3 16.7h16.7zM2756 597.6l-8.3 16.7h16.7zM2758.5 597l-8.3 16.7h16.7zM2761 594.4l-8.3 16.7h16.7zM2763.5 592.1l-8.3 16.7h16.7zM2626.3 617.4l-8.3 16.7h16.7zM2626.1 629l-8.3 16.7h16.7zM2631.5 625.5l-8.3 16.7h16.7zM2627.9 624.8l-8.3 16.7h16.7zM2639.2 631.7l-8.3 16.7h16.7zM2639.1 612.6l-8.3 16.7h16.7zM2631.3 617.6l-8.3 16.7h16.7zM2628.2 632.6l-8.3 16.7h16.7zM2625.1 623.8l-8.3 16.7h16.7zM2635.9 637.3l-8.3 16.7h16.7zM2622.3 613.4l-8.3 16.7h16.7zM2630.9 637.4l-8.3 16.7h16.7zM2624.9 633.9l-8.3 16.7h16.7zM2629.1 623.4l-8.3 16.7h16.7zM2638.7 606l-8.3 16.7h16.7zM2627.9 609.3l-8.3 16.7h16.7zM2624.4 614.6l-8.3 16.7h16.7zM2634.6 624.6l-8.3 16.7h16.7zM2624.2 632.5l-8.3 16.7h16.7zM2631.1 608.8l-8.3 16.7h16.7zM2636.8 633.2l-8.3 16.7h16.7zM2625.9 637.5l-8.3 16.7h16.7zM2793.7 564.5l-8.3 16.7h16.7zM2785.7 572.1l-8.3 16.7h16.7zM2797.2 568.4l-8.3 16.7h16.7zM2798.2 576.4l-8.3 16.7h16.7zM2798.3 579.3l-8.3 16.7h16.7zM2804.2 577.8l-8.3 16.7h16.7zM2804 585l-8.3 16.7h16.7zM2799.1 585.9l-8.3 16.7h16.7zM2804.9 590l-8.3 16.7h16.7zM2804.8 588.2l-8.3 16.7h16.7zM2802.4 593.1l-8.3 16.7h16.7zM2802.3 598.4l-8.3 16.7h16.7zM2812.7 596.3l-8.3 16.7h16.7zM2811.7 602.5l-8.3 16.7h16.7zM2806.1 606.1l-8.3 16.7h16.7zM2815.2 605.1l-8.3 16.7h16.7zM2808.4 607.7l-8.3 16.7h16.7zM2817.7 612l-8.3 16.7h16.7zM2819.5 612.3l-8.3 16.7h16.7zM2812.2 616.6l-8.3 16.7h16.7zM2822.7 617.9l-8.3 16.7h16.7zM2814.2 625.4l-8.3 16.7h16.7zM2815.7 627.5l-8.3 16.7h16.7zM2816.8 626.9l-8.3 16.7h16.7zM2825 634.7l-8.3 16.7h16.7zM2822.8 634.4l-8.3 16.7h16.7zM2819.1 636.6l-8.3 16.7h16.7zM2822.5 643.4l-8.3 16.7h16.7zM2829.1 646.4l-8.3 16.7h16.7zM2827.8 648.9l-8.3 16.7h16.7zM2823.8 649.5l-8.3 16.7h16.7zM2826.6 651.8l-8.3 16.7h16.7zM2832.9 654.4l-8.3 16.7h16.7zM2828.9 658.1l-8.3 16.7h16.7zM2836.4 664l-8.3 16.7h16.7zM2832.8 665.1l-8.3 16.7h16.7zM2839.1 672.7l-8.3 16.7h16.7zM2834.4 672.8l-8.3 16.7h16.7zM2840.4 673.5l-8.3 16.7h16.7zM2834.1 675.4l-8.3 16.7h16.7zM2838 683.8l-8.3 16.7h16.7zM2835.6 683.6l-8.3 16.7h16.7zM2847.4 686.5l-8.3 16.7h16.7zM2841.8 691.9l-8.3 16.7h16.7zM2849.7 690.7l-8.3 16.7h16.7zM2828.7 636l-8.3 16.7h16.7zM2833.7 636.2l-8.3 16.7h16.7zM2834.5 627.3l-8.3 16.7h16.7zM2834.9 624.4l-8.3 16.7h16.7zM2835.8 623.4l-8.3 16.7h16.7zM2839.8 625.1l-8.3 16.7h16.7zM2841.2 618.1l-8.3 16.7h16.7zM2842.7 612l-8.3 16.7h16.7zM2843.7 614.3l-8.3 16.7h16.7zM2844.7 609.3l-8.3 16.7h16.7zM2846.7 602.6l-8.3 16.7h16.7zM2847.1 607.9l-8.3 16.7h16.7zM2845.7 605.2l-8.3 16.7h16.7zM2846.2 601.6l-8.3 16.7h16.7zM2849.1 595.4l-8.3 16.7h16.7zM2849 596.6l-8.3 16.7h16.7zM2853.6 586.7l-8.3 16.7h16.7zM2856.5 585.2l-8.3 16.7h16.7zM2854.4 584.4l-8.3 16.7h16.7zM2857 586.3l-8.3 16.7h16.7zM2860.7 581l-8.3 16.7h16.7zM2859.2 573.2l-8.3 16.7h16.7zM2859.4 574.9l-8.3 16.7h16.7zM2864.5 571.6l-8.3 16.7h16.7zM2868.9 568.8l-8.3 16.7h16.7zM2867.1 571.3l-8.3 16.7h16.7zM2868 579.1l-8.3 16.7h16.7zM2872.5 577.6l-8.3 16.7h16.7zM2873.6 577.2l-8.3 16.7h16.7zM2874.9 582.1l-8.3 16.7h16.7zM2877.7 589.5l-8.3 16.7h16.7zM2880.4 579.2l-8.3 16.7h16.7zM2879.3 576.3l-8.3 16.7h16.7zM2883.1 580l-8.3 16.7h16.7zM2888.3 572l-8.3 16.7h16.7zM2891.3 573.4l-8.3 16.7h16.7zM2893.6 573.7l-8.3 16.7h16.7zM2894.3 568.3l-8.3 16.7h16.7zM2899.4 577.3l-8.3 16.7h16.7zM2899 582.4l-8.3 16.7h16.7zM2903 578.9l-8.3 16.7h16.7zM2899.9 584.2l-8.3 16.7h16.7zM2904.8 583.7l-8.3 16.7h16.7zM2902.5 589l-8.3 16.7h16.7zM2903.8 594.3l-8.3 16.7h16.7zM2908.8 592.5l-8.3 16.7h16.7zM2817.6 628.8l-8.3 16.7h16.7zM2801.5 624.5l-8.3 16.7h16.7zM2840.6 646.8l-8.3 16.7h16.7zM2834.4 638.2l-8.3 16.7h16.7zM2840 658.5l-8.3 16.7h16.7zM2830.6 641.9l-8.3 16.7h16.7zM2824.8 625.3l-8.3 16.7h16.7zM2850.4 664.8l-8.3 16.7h16.7zM2823 662l-8.3 16.7h16.7zM2796.2 637.1l-8.3 16.7h16.7zM2804.3 678.8l-8.3 16.7h16.7zM2790.8 646.1l-8.3 16.7h16.7zM2843.9 673.8l-8.3 16.7h16.7zM2834.6 634.4l-8.3 16.7h16.7zM2804.4 667.4l-8.3 16.7h16.7zM2808.5 669l-8.3 16.7h16.7zM2811.7 672l-8.3 16.7h16.7zM2825.5 676.5l-8.3 16.7h16.7zM2851.1 640.7l-8.3 16.7h16.7zM2851.2 610.5l-8.3 16.7h16.7zM2844.4 612.1l-8.3 16.7h16.7zM2823.8 641.5l-8.3 16.7h16.7zM2837.7 635.5l-8.3 16.7h16.7zM2802.9 674l-8.3 16.7h16.7zM2824.1 671.6l-8.3 16.7h16.7zM2820.3 612.7l-8.3 16.7h16.7zM2837.8 627.6l-8.3 16.7h16.7zM2819.3 609.7l-8.3 16.7h16.7zM2806.1 664.2l-8.3 16.7h16.7zM2837.4 661.9l-8.3 16.7h16.7zM2817.5 669.8l-8.3 16.7h16.7zM2831.5 626.6l-8.3 16.7h16.7zM2823.2 658.7l-8.3 16.7h16.7zM2835.2 625.9l-8.3 16.7h16.7zM2809.3 637.8l-8.3 16.7h16.7zM2795.9 638.2l-8.3 16.7h16.7zM2835.2 657l-8.3 16.7h16.7zM2800.7 669.7l-8.3 16.7h16.7zM2797.2 671.3l-8.3 16.7h16.7zM2799.2 617.6l-8.3 16.7h16.7zM2805.6 651.9l-8.3 16.7h16.7zM2806.7 682.2l-8.3 16.7h16.7zM2848.2 632.9l-8.3 16.7h16.7zM2836.5 666.7l-8.3 16.7h16.7zM2824.8 630.6l-8.3 16.7h16.7zM2871 597.2l-8.3 16.7h16.7zM2873.5 591.8l-8.3 16.7h16.7zM2876 593.7l-8.3 16.7h16.7zM2878.5 592.4l-8.3 16.7h16.7zM2881 590.7l-8.3 16.7h16.7zM2883.5 592.4l-8.3 16.7h16.7zM2886 586.2l-8.3 16.7h16.7zM2888.5 590.9l-8.3 16.7h16.7zM2891 596l-8.3 16.7h16.7zM2893.5 594.1l-8.3 16.7h16.7zM2896 592.2l-8.3 16.7h16.7zM2898.5 591.9l-8.3 16.7h16.7zM2901 593l-8.3 16.7h16.7zM2903.5 590.6l-8.3 16.7h16.7zM2906 590.9l-8.3 16.7h16.7zM2908.5 592.1l-8.3 16.7h16.7zM2911 590.5l-8.3 16.7h16.7zM2913.5 591.6l-8.3 16.7h16.7zM2916 592l-8.3 16.7h16.7zM2918.5 593.2l-8.3 16.7h16.7zM2921 589.3l-8.3 16.7h16.7zM2923.5 588.6l-8.3 16.7h16.7zM2926 588.5l-8.3 16.7h16.7zM2928.5 592.7l-8.3 16.7h16.7zM2931 592.4l-8.3 16.7h16.7zM2933.5 587.2l-8.3 16.7h16.7zM2936 585.5l-8.3 16.7h16.7zM2938.5 593.2l-8.3 16.7h16.7zM2941 592.8l-8.3 16.7h16.7zM2943.5 588.3l-8.3 16.7h16.7zM2946 587.1l-8.3 16.7h16.7zM2948.5 589.2l-8.3 16.7h16.7zM2951 593.8l-8.3 16.7h16.7zM2953.5 596.5l-8.3 16.7h16.7zM2956 592.6l-8.3 16.7h16.7zM2958.5 590.8l-8.3 16.7h16.7zM2961 595.9l-8.3 16.7h16.7zM2963.5 590.7l-8.3 16.7h16.7zM2966 594.9l-8.3 16.7h16.7zM2968.5 593.7l-8.3 16.7h16.7zM2971 592.4l-8.3 16.7h16.7zM2973.5 594.9l-8.3 16.7h16.7zM2976 594.1l-8.3 16.7h16.7zM2978.5 590.2l-8.3 16.7h16.7zM2981 586.4l-8.3 16.7h16.7zM2983.5 588.6l-8.3 16.7h16.7zM2986 591l-8.3 16.7h16.7zM2988.5 594.4l-8.3 16.7h16.7zM2991 585.6l-8.3 16.7h16.7zM2993.5 591.7l-8.3 16.7h16.7zM2996 592.8l-8.3 16.7h16.7zM2998.5 595.7l-8.3 16.7h16.7zM3001 595.3l-8.3 16.7h16.7zM3003.5 593.6l-8.3 16.7h16.7zM3006 593.3l-8.3 16.7h16.7zM3008.5 593l-8.3 16.7h16.7zM3011 590.2l-8.3 16.7h16.7zM3013.5 590.1l-8.3 16.7h16.7zM3016 590.7l-8.3 16.7h16.7zM3018.5 589.5l-8.3 16.7h16.7zM3021 586.2l-8.3 16.7h16.7zM3023.5 584.6l-8.3 16.7h16.7zM3026 589l-8.3 16.7h16.7zM3028.5 591.2l-8.3 16.7h16.7zM3031 591.2l-8.3 16.7h16.7zM3033.5 587.9l-8.3 16.7h16.7zM3036 591.5l-8.3 16.7h16.7zM3038.5 590.1l-8.3 16.7h16.7zM3041 584.8l-8.3 16.7h16.7zM3043.5 591.9l-8.3 16.7h16.7zM3046 587.3l-8.3 16.7h16.7zM3048.5 594.9l-8.3 16.7h16.7zM3051 594.2l-8.3 16.7h16.7zM3053.5 591.3l-8.3 16.7h16.7zM3056 584.7l-8.3 16.7h16.7zM3058.5 585.8l-8.3 16.7h16.7zM3061 592.2l-8.3 16.7h16.7zM3063.5 595l-8.3 16.7h16.7zM3066 593.5l-8.3 16.7h16.7zM3068.5 587.6l-8.3 16.7h16.7zM3071 588.1l-8.3 16.7h16.7zM3073.5 588.6l-8.3 16.7h16.7zM3076 590.9l-8.3 16.7h16.7zM3078.5 590.4l-8.3 16.7h16.7zM3081 591.5l-8.3 16.7h16.7zM3083.5 586.8l-8.3 16.7h16.7zM3086 587l-8.3 16.7h16.7zM3088.5 592.6l-8.3 16.7h16.7zM3091 587.8l-8.3 16.7h16.7zM3093.5 591.7l-8.3 16.7h16.7zM3096 597.3l-8.3 16.7h16.7zM3098.5 595.7l-8.3 16.7h16.7zM3101 589.5l-8.3 16.7h16.7zM3103.5 593.4l-8.3 16.7h16.7zM3106 587.1l-8.3 16.7h16.7zM3108.5 589.8l-8.3 16.7h16.7zM3111 589.1l-8.3 16.7h16.7zM3113.5 593.2l-8.3 16.7h16.7zM3116 595.1l-8.3 16.7h16.7zM3118.5 593.4l-8.3 16.7h16.7zM3121 596.8l-8.3 16.7h16.7zM3074.8 475.7l-8.3 16.7h16.7zM3074.7 478.9l-8.3 16.7h16.7zM3076 482.1l-8.3 16.7h16.7zM3076.5 485.3l-8.3 16.7h16.7zM3077.1 488.5l-8.3 16.7h16.7zM3072.1 491.7l-8.3 16.7h16.7zM3076.4 494.9l-8.3 16.7h16.7zM3076.8 498.1l-8.3 16.7h16.7zM3075.9 501.3l-8.3 16.7h16.7zM3069.2 504.5l-8.3 16.7h16.7zM3080.2 507.7l-8.3 16.7h16.7zM3073.9 510.9l-8.3 16.7h16.7zM3076.3 514.1l-8.3 16.7h16.7zM3080 517.3l-8.3 16.7h16.7zM3070.8 520.5l-8.3 16.7h16.7zM3065.8 523.7l-8.3 16.7h16.7zM3083.5 526.9l-8.3 16.7h16.7zM3069.8 530.1l-8.3 16.7h16.7zM3064.2 533.3l-8.3 16.7h16.7zM3066 536.5l-8.3 16.7h16.7zM3087.5 539.7l-8.3 16.7h16.7zM3081.2 542.9l-8.3 16.7h16.7zM3066.6 546.1l-8.3 16.7h16.7zM3064.4 549.3l-8.3 16.7h16.7zM3087 552.5l-8.3 16.7h16.7zM3080.1 555.7l-8.3 16.7h16.7zM3077.6 558.9l-8.3 16.7h16.7zM3062.1 562.1l-8.3 16.7h16.7zM3071.7 565.3l-8.3 16.7h16.7zM3091.4 568.5l-8.3 16.7h16.7zM3055.7 571.7l-8.3 16.7h16.7zM3071.6 574.9l-8.3 16.7h16.7zM3056.7 578.1l-8.3 16.7h16.7zM3095.8 581.3l-8.3 16.7h16.7zM3099.8 540.7l-8.3 16.7h16.7zM3100.8 544.2l-8.3 16.7h16.7zM3101.2 547.7l-8.3 16.7h16.7zM3101.3 551.2l-8.3 16.7h16.7zM3096 554.7l-8.3 16.7h16.7zM3101.9 558.2l-8.3 16.7h16.7zM3099.7 561.7l-8.3 16.7h16.7zM3099.7 565.2l-8.3 16.7h16.7zM3093.8 568.7l-8.3 16.7h16.7zM3100 572.2l-8.3 16.7h16.7zM3106.1 575.7l-8.3 16.7h16.7zM3091.3 579.2l-8.3 16.7h16.7zM3109.3 582.7l-8.3 16.7h16.7zM3001 597.7l-8.3 16.7h16.7zM2995.8 600.7l-8.3 16.7h16.7zM2995.4 603.7l-8.3 16.7h16.7zM3002.8 606.7l-8.3 16.7h16.7zM3008.3 609.7l-8.3 16.7h16.7zM3005.9 612.7l-8.3 16.7h16.7zM3013.8 615.7l-8.3 16.7h16.7zM3004.3 618.7l-8.3 16.7h16.7zM3004.3 621.7l-8.3 16.7h16.7zM3013.4 624.7l-8.3 16.7h16.7zM2999.1 627.7l-8.3 16.7h16.7zM2996.7 630.7l-8.3 16.7h16.7zM3001.7 633.7l-8.3 16.7h16.7zM3001.9 636.7l-8.3 16.7h16.7zM3000.5 639.7l-8.3 16.7h16.7zM3036.5 580.7l-8.3 16.7h16.7zM3125 587.7l-8.3 16.7h16.7zM3118 589.7l-8.3 16.7h16.7z" fill="#00ffff" stroke="#00ffff" stroke-width="2.78" stroke-linejoin="miter"/>
<path d="M990.4 606.6L306 606L990.4 615.3" fill="none" stroke="#00ffff" stroke-width="4.17" stroke-linejoin="round" stroke-linecap="square"/>
<path d="M990.4 575L990.4 580L990.4 585L990.4 590L990.4 595L990.4 600L990.4 605L990.4 610L990.4 615L990.4 620L990.4 625L990.4 630L990.4 635L990.4 640L990.4 645L990.4 650L990.4 655L990.4 660L990.4 665L990.4 670L990.4 675L990.4 680L990.4 685L990.4 690L990.4 695L990.4 700L990.4 705L990.4 710L990.4 715L990.4 720L990.4 725L990.4 730L990.4 735L990.4 740L990.4 745L990.4 750L990.4 755L990.4 760L990.4 988.5L990.4 1004.4L990.4 1011L990.4 1018L990.4 1025L990.4 1034.5" fill="none" stroke="#00ffff" stroke-width="4.17" stroke-linejoin="round" stroke-linecap="square"/>
<path d="M990.4 575h0M990.4 580h0M990.4 585h0M990.4 590h0M990.4 595h0M990.4 600h0M990.4 605h0M990.4 610h0M990.4 615h0M990.4 620h0M990.4 625h0M990.4 630h0M990.4 635h0M990.4 640h0M990.4 645h0M990.4 650h0M990.4 655h0M990.4 660h0M990.4 665h0M990.4 670h0M990.4 675h0M990.4 680h0M990.4 685h0M990.4 690h0M990.4 695h0M990.4 700h0M990.4 705h0M990.4 710h0M990.4 715h0M990.4 720h0M990.4 725h0M990.4 730h0M990.4 735h0M990.4 740h0M990.4 745h0M990.4 750h0M990.4 755h0M990.4 760h0M990.4 988.5h0M990.4 1004.4h0M990.4 1011h0M990.4 1018h0M990.4 1025h0M990.4 1034.5h0" fill="none" stroke="#00ffff" stroke-width="11.11" stroke-linecap="round"/>
<path d="M990.4 626L1041.5 596.1L1114.6 582.6L1187.7 563L1260.8 563L1333.9 554.3L1407 539.1L1480.1 539.1L1553.2 534L1626.3 534L1699.4 530L1772.5 529.5L1845.6 530.3L1918.7 530.3L1991.8 530.3L2064.9 530.3L2138 530.3L2192.6 530.3L2225 530.3L2239 528.9L2239 538L2239 546L2238.5 566L2238.5 600" fill="none" stroke="#00ffff" stroke-width="4.17" stroke-linejoin="round" stroke-linecap="square"/>
<path d="M990.4 626h0M1041.5 596.1h0M1114.6 582.6h0M1187.7 563h0M1260.8 563h0M1333.9 554.3h0M1407 539.1h0M1480.1 539.1h0M1553.2 534h0M1626.3 534h0M1699.4 530h0M1772.5 529.5h0M1845.6 530.3h0M1918.7 530.3h0M1991.8 530.3h0M2064.9 530.3h0M2138 530.3h0M2192.6 530.3h0M2225 530.3h0M2239 528.9h0M2239 538h0M2239 546h0M2238.5 566h0M2238.5 600h0" fill="none" stroke="#00ffff" stroke-width="11.11" stroke-linecap="round"/>
<path d="M1772 600L1776 612L1788.5 629L1796 636L1802.7 645.2L1806 654L1810.8 659.3L1815 660L1818.9 653.2L1819 647L1818.9 641.1L1818 630L1817 621" fill="none" stroke="#00ffff" stroke-width="4.17" stroke-linejoin="round" stroke-linecap="square"/>
<path d="M1772 600h0M1776 612h0M1788.5 629h0M1796 636h0M1802.7 645.2h0M1806 654h0M1810.8 659.3h0M1815 660h0M1818.9 653.2h0M1819 647h0M1818.9 641.1h0M1818 630h0M1817 621h0" fill="none" stroke="#00ffff" stroke-width="11.11" stroke-linecap="round"/>
<path d="M1788.5 629L1808.8 623L1861.3 623L1934 623" fill="none" stroke="#00ffff" stroke-width="4.17" stroke-linejoin="round" stroke-linecap="square"/>
<path d="M1788.5 629h0M1808.8 623h0M1861.3 623h0M1934 623h0" fill="none" stroke="#00ffff" stroke-width="11.11" stroke-linecap="round"/>
<path d="M1813 619.4L1819 616.4L1825 617.3L1831 619.5L1837 615.6L1843 619.8L1849 614.3L1855 616.5L1861 612.8L1867 615.7L1873 620.8L1879 617.9L1885 620.1L1891 613.4L1897 614.6L1903 618.1L1909 619L1915 619L1921 613L1927 618.2L1933 616.8L1939 617.3L1945 618.2L1951 616.3L1957 612.9L1963 614.4L1969 613.5L1975 613.8L1981 616.7L1987 620.2L1993 615.3L1999 615.1L2005 614.2L2011 612.8L2017 617.2L2023 615.8L2029 616.4L2035 614.7L2041 618.2L2047 614.1L2053 618.3L2059 615.4L2065 618.9L2071 614.8L2077 618.1L2083 618.1L2089 616.8L2095 621L2101 617.4L2107 614.8L2113 618.7L2119 615L2125 615.7L2131 617L2137 617.4L2143 621.1L2149 612.8L2155 616.4L2161 619.7L2167 616.6L2173 617.8L2179 620.7L2185 614L2191 617.1L2197 618.9L2203 615.6L2209 612.8L2215 614.6L2221 617.5L2227 617.5L2233 621.4L2239 620.2L2245 613.3L2251 619.5L2257 619.2L2263 620.9L2269 616.6L2275 615.6L2281 617.4L2287 620.8L2293 618.5L2299 621.1L2305 618.9L2311 615.6L2317 614.6L2323 621.5L2329 613.3L2335 616.1L2341 616.2L2347 614.8L2353 615.6L2359 617L2365 622.7L2371 616.8L2377 615.7L2383 617.3L2389 619.3L2395 615L2401 616L2407 612.7L2413 618.7L2419 618.7L2425 620.6L2431 614.1L2437 622.3L2443 619.1L2449 616.3" fill="none" stroke="#00ffff" stroke-width="4.17" stroke-linejoin="round" stroke-linecap="square"/>
<path d="M1813 619.4h0M1819 616.4h0M1825 617.3h0M1831 619.5h0M1837 615.6h0M1843 619.8h0M1849 614.3h0M1855 616.5h0M1861 612.8h0M1867 615.7h0M1873 620.8h0M1879 617.9h0M1885 620.1h0M1891 613.4h0M1897 614.6h0M1903 618.1h0M1909 619h0M1915 619h0M1921 613h0M1927 618.2h0M1933 616.8h0M1939 617.3h0M1945 618.2h0M1951 616.3h0M1957 612.9h0M1963 614.4h0M1969 613.5h0M1975 613.8h0M1981 616.7h0M1987 620.2h0M1993 615.3h0M1999 615.1h0M2005 614.2h0M2011 612.8h0M2017 617.2h0M2023 615.8h0M2029 616.4h0M2035 614.7h0M2041 618.2h0M2047 614.1h0M2053 618.3h0M2059 615.4h0M2065 618.9h0M2071 614.8h0M2077 618.1h0M2083 618.1h0M2089 616.8h0M2095 621h0M2101 617.4h0M2107 614.8h0M2113 618.7h0M2119 615h0M2125 615.7h0M2131 617h0M2137 617.4h0M2143 621.1h0M2149 612.8h0M2155 616.4h0M2161 619.7h0M2167 616.6h0M2173 617.8h0M2179 620.7h0M2185 614h0M2191 617.1h0M2197 618.9h0M2203 615.6h0M2209 612.8h0M2215 614.6h0M2221 617.5h0M2227 617.5h0M2233 621.4h0M2239 620.2h0M2245 613.3h0M2251 619.5h0M2257 619.2h0M2263 620.9h0M2269 616.6h0M2275 615.6h0M2281 617.4h0M2287 620.8h0M2293 618.5h0M2299 621.1h0M2305 618.9h0M2311 615.6h0M2317 614.6h0M2323 621.5h0M2329 613.3h0M2335 616.1h0M2341 616.2h0M2347 614.8h0M2353 615.6h0M2359 617h0M2365 622.7h0M2371 616.8h0M2377 615.7h0M2383 617.3h0M2389 619.3h0M2395 615h0M2401 616h0M2407 612.7h0M2413 618.7h0M2419 618.7h0M2425 620.6h0M2431 614.1h0M2437 622.3h0M2443 619.1h0M2449 616.3h0" fill="none" stroke="#00ffff" stroke-width="11.11" stroke-linecap="round"/>
<path d="M2001.3 649L1999.3 655.5L2000.5 662L2001.4 668.5L2001.5 675L2000.3 681.5L1999 688L1999.4 694.5L2001.1 701L1999.6 707.5L2000.1 714L2001.4 720.5L2002.5 727L2001 733.5L1999.9 740" fill="none" stroke="#00ffff" stroke-width="4.17" stroke-linejoin="round" stroke-linecap="square"/>
<path d="M2001.3 649h0M1999.3 655.5h0M2000.5 662h0M2001.4 668.5h0M2001.5 675h0M2000.3 681.5h0M1999 688h0M1999.4 694.5h0M2001.1 701h0M1999.6 707.5h0M2000.1 714h0M2001.4 720.5h0M2002.5 727h0M2001 733.5h0M1999.9 740h0" fill="none" stroke="#00ffff" stroke-width="11.11" stroke-linecap="round"/>
<path d="M2303.7 600L2303.7 230L2304 195L2305 176L2306.8 171.8L2309 181L2310 197L2310 234L2310.5 368L2309.9 600" fill="none" stroke="#00ffff" stroke-width="4.17" stroke-linejoin="round" stroke-linecap="square"/>
<path d="M2303.7 600h0M2303.7 230h0M2304 195h0M2305 176h0M2306.8 171.8h0M2309 181h0M2310 197h0M2310 234h0M2310.5 368h0M2309.9 600h0" fill="none" stroke="#00ffff" stroke-width="11.11" stroke-linecap="round"/>
<path d="M2378.6 600L2378.6 469.2L2378.8 265L2379.8 265L2381.3 248.5L2382.2 216.2L2382.9 175.5L2384.4 162.5L2386 153L2388 143.9L2388 125L2391 118L2394 113L2396 110L2395.6 96.4L2396.4 85L2398 71.3L2399 58L2403 58L2404.5 71.3L2402 84.3L2402 96.4L2404 58L2409 58L2411 71.3L2409.8 68L2410.5 85L2411.8 95.6L2412.6 102L2414.2 107.7L2435.7 363.3L2506.4 585.5L2540 588.5L2631 590" fill="none" stroke="#00ffff" stroke-width="4.17" stroke-linejoin="round" stroke-linecap="square"/>
<path d="M2378.6 600h0M2378.6 469.2h0M2378.8 265h0M2379.8 265h0M2381.3 248.5h0M2382.2 216.2h0M2382.9 175.5h0M2384.4 162.5h0M2386 153h0M2388 143.9h0M2388 125h0M2391 118h0M2394 113h0M2396 110h0M2395.6 96.4h0M2396.4 85h0M2398 71.3h0M2399 58h0M2403 58h0M2404.5 71.3h0M2402 84.3h0M2402 96.4h0M2404 58h0M2409 58h0M2411 71.3h0M2409.8 68h0M2410.5 85h0M2411.8 95.6h0M2412.6 102h0M2414.2 107.7h0M2435.7 363.3h0M2506.4 585.5h0M2540 588.5h0M2631 590h0" fill="none" stroke="#00ffff" stroke-width="11.11" stroke-linecap="round"/>
<path d="M2631 613.6L2637 614.2L2643 615.2L2649 613.9L2655 614.8L2661 617.1L2667 616L2673 614.3L2679 615.4L2685 616L2691 615.4L2697 616.8L2703 612.3L2709 617.1L2715 613.1L2721 616.3L2727 612.3L2733 617.1L2739 616.7L2745 613.8L2751 616.3L2757 614.3L2763 617.4" fill="none" stroke="#00ffff" stroke-width="4.17" stroke-linejoin="round" stroke-linecap="square"/>
<path d="M2631 613.6h0M2637 614.2h0M2643 615.2h0M2649 613.9h0M2655 614.8h0M2661 617.1h0M2667 616h0M2673 614.3h0M2679 615.4h0M2685 616h0M2691 615.4h0M2697 616.8h0M2703 612.3h0M2709 617.1h0M2715 613.1h0M2721 616.3h0M2727 612.3h0M2733 617.1h0M2739 616.7h0M2745 613.8h0M2751 616.3h0M2757 614.3h0M2763 617.4h0" fill="none" stroke="#00ffff" stroke-width="11.11" stroke-linecap="round"/>
<path d="M2766 600L2766 553L2769.5 541L2769.5 553L2773 600L2773 560L2776 530L2780.6 516.8L2784 525L2786 535L2790.8 541L2787.7 555L2792 562L2796 568L2800.9 573.5L2803 585L2806 600" fill="none" stroke="#00ffff" stroke-width="4.17" stroke-linejoin="round" stroke-linecap="square"/>
<path d="M2766 553h0M2767.8 547h0M2769.5 541h0M2769.5 547h0M2769.5 553h0M2769.8 557.7h0M2770.2 562.4h0M2770.6 567.1h0M2770.9 571.8h0M2771.2 576.5h0M2771.6 581.2h0M2771.9 585.9h0M2772.3 590.6h0M2772.7 595.3h0M2773 600h0M2773 595h0M2773 590h0M2773 585h0M2773 580h0M2773 575h0M2773 570h0M2773 565h0M2773 560h0M2773.5 555h0M2774 550h0M2774.5 545h0M2775 540h0M2775.5 535h0M2776 530h0M2777.5 525.6h0M2779.1 521.2h0M2780.6 516.8h0M2784 525h0M2785 530h0M2786 535h0M2790.8 541h0M2789.8 545.7h0M2788.7 550.3h0M2787.7 555h0M2792 562h0M2796 568h0M2800.9 573.5h0M2801.9 579.2h0M2803 585h0M2804 590h0M2805 595h0M2806 600h0" fill="none" stroke="#00ffff" stroke-width="11.11" stroke-linecap="round"/>
<path d="M2806 600L2821.1 640L2819.3 646.5L2818.6 653L2817.8 659.5L2822.3 666L2819.2 672.5L2821.2 679L2819.8 685.5L2820.2 692L2818.2 698.5L2818.1 705L2819 711.5L2821.1 718L2820.3 724.5L2817 731L2821.3 737.5L2819.6 744L2817.4 750.5L2818.6 757L2818.3 763.5L2821.9 770L2820.3 776.5L2829.6 766L2829 759L2829.3 752L2829.2 745L2829.8 738L2833.3 731L2833.3 724L2832.6 717L2834.1 710L2832.2 703L2827.9 696L2827.4 689L2828.3 682L2829.1 675L2831.2 668L2833.6 661L2831.7 654L2830.4 647L2828.9 640L2848.9 640L2847.5 646.5L2845 653L2843.3 659.5L2848.9 666L2844.5 672.5L2848.1 679L2843.7 685.5L2846.9 692L2845.1 698.5L2848.3 705L2844.8 711.5L2843.6 718L2844.2 724.5L2847.8 731L2848.9 737.5L2846.9 744L2847.1 750.5L2844.7 757L2844.6 763.5L2843.5 770L2848.9 776.5L2843.3 783L2846.7 789.5L2845.1 796L2844.1 802.5L2845.6 809L2848.6 815.5L2844.5 822L2844 828.5L2844.5 829.4" fill="none" stroke="#00ffff" stroke-width="4.17" stroke-linejoin="round" stroke-linecap="square"/>
<path d="M2806 600h0M2821.1 640h0M2819.3 646.5h0M2818.6 653h0M2817.8 659.5h0M2822.3 666h0M2819.2 672.5h0M2821.2 679h0M2819.8 685.5h0M2820.2 692h0M2818.2 698.5h0M2818.1 705h0M2819 711.5h0M2821.1 718h0M2820.3 724.5h0M2817 731h0M2821.3 737.5h0M2819.6 744h0M2817.4 750.5h0M2818.6 757h0M2818.3 763.5h0M2821.9 770h0M2820.3 776.5h0M2829.6 766h0M2829 759h0M2829.3 752h0M2829.2 745h0M2829.8 738h0M2833.3 731h0M2833.3 724h0M2832.6 717h0M2834.1 710h0M2832.2 703h0M2827.9 696h0M2827.4 689h0M2828.3 682h0M2829.1 675h0M2831.2 668h0M2833.6 661h0M2831.7 654h0M2830.4 647h0M2828.9 640h0M2848.9 640h0M2847.5 646.5h0M2845 653h0M2843.3 659.5h0M2848.9 666h0M2844.5 672.5h0M2848.1 679h0M2843.7 685.5h0M2846.9 692h0M2845.1 698.5h0M2848.3 705h0M2844.8 711.5h0M2843.6 718h0M2844.2 724.5h0M2847.8 731h0M2848.9 737.5h0M2846.9 744h0M2847.1 750.5h0M2844.7 757h0M2844.6 763.5h0M2843.5 770h0M2848.9 776.5h0M2843.3 783h0M2846.7 789.5h0M2845.1 796h0M2844.1 802.5h0M2845.6 809h0M2848.6 815.5h0M2844.5 822h0M2844 828.5h0M2844.5 829.4h0" fill="none" stroke="#00ffff" stroke-width="11.11" stroke-linecap="round"/>
<path d="M2844.5 829.4L2852 700L2855.5 561" fill="none" stroke="#00ffff" stroke-width="4.17" stroke-linejoin="round" stroke-linecap="square"/>
<path d="M2855.5 561L2855.5 541L2860 528L2866.6 516.8L2872 519L2879.7 521L2880.5 537L2883.8 545L2885 561L2890 548L2893 535L2895.9 519L2899 527L2900 535L2900 600" fill="none" stroke="#00ffff" stroke-width="4.17" stroke-linejoin="round" stroke-linecap="square"/>
<path d="M2855.5 561h0M2855.5 556h0M2855.5 551h0M2855.5 546h0M2855.5 541h0M2857 536.7h0M2858.5 532.3h0M2860 528h0M2863.3 522.4h0M2866.6 516.8h0M2872 519h0M2879.7 521h0M2880 526.3h0M2880.2 531.7h0M2880.5 537h0M2883.8 545h0M2884.2 550.3h0M2884.6 555.7h0M2885 561h0M2886.7 556.7h0M2888.3 552.3h0M2890 548h0M2891.5 541.5h0M2893 535h0M2894 529.7h0M2894.9 524.3h0M2895.9 519h0M2899 527h0M2900 535h0M2900 539.6h0M2900 544.3h0M2900 548.9h0M2900 553.6h0M2900 558.2h0M2900 562.9h0M2900 567.5h0M2900 572.1h0M2900 576.8h0M2900 581.4h0M2900 586.1h0M2900 590.7h0M2900 595.4h0M2900 600h0" fill="none" stroke="#00ffff" stroke-width="11.11" stroke-linecap="round"/>
<path d="M2866.6 516.8L2866.6 600" fill="none" stroke="#00ffff" stroke-width="4.17" stroke-linejoin="round" stroke-linecap="square"/>
<path d="M2900 601.6L2905 600.3L2910 597.9L2915 600.8L2920 602.8L2925 600.8L2930 600.2L2935 603L2940 603.1L2945 600.9L2950 602.7L2955 599.6L2960 604.1L2965 599.6L2970 601.2L2975 602.3L2980 601L2985 599.2L2990 607.1L2995 605.7L2999 612L3001 630L3003 650L3004.4 667.8L3006 650L3008 628L3011 606L3016 597.8L3021 602.3L3026 598.9L3031 602.8L3036 598.8L3041 603.4L3046 603.3L3051 606.2L3056 604.9" fill="none" stroke="#00ffff" stroke-width="4.17" stroke-linejoin="round" stroke-linecap="square"/>
<path d="M2900 601.6h0M2905 600.3h0M2910 597.9h0M2915 600.8h0M2920 602.8h0M2925 600.8h0M2930 600.2h0M2935 603h0M2940 603.1h0M2945 600.9h0M2950 602.7h0M2955 599.6h0M2960 604.1h0M2965 599.6h0M2970 601.2h0M2975 602.3h0M2980 601h0M2985 599.2h0M2990 607.1h0M2995 605.7h0M2999 612h0M3001 630h0M3003 650h0M3004.4 667.8h0M3006 650h0M3008 628h0M3011 606h0M3016 597.8h0M3021 602.3h0M3026 598.9h0M3031 602.8h0M3036 598.8h0M3041 603.4h0M3046 603.3h0M3051 606.2h0M3056 604.9h0" fill="none" stroke="#00ffff" stroke-width="11.11" stroke-linecap="round"/>
<path d="M3058 604L3061.1 612L3061.5 618L3062.2 624L3060 630L3063 636L3063.5 642L3063.5 648L3063.9 654L3061.1 660L3060.2 666L3063.3 672L3063 678L3061.4 684L3061.2 690L3060.3 696L3063.7 702L3061.8 708L3063.6 714L3061.2 720L3061.1 726L3068 734L3073.3 741.4L3075.6 735.4L3077.5 729.4L3076 723.4L3078.9 717.4L3078.6 711.4L3082.1 705.4L3082.7 699.4L3082.9 693.4L3083.1 687.4L3083.8 681.4L3088.1 675.4L3088.8 669.4L3087.5 663.4L3087.6 657.4L3089.3 651.4L3094.3 645.4L3090.9 639.4L3095.9 633.4L3095.7 627.4L3097 621.4L3099 606" fill="none" stroke="#00ffff" stroke-width="4.17" stroke-linejoin="round" stroke-linecap="square"/>
<path d="M3058 604h0M3061.1 612h0M3061.5 618h0M3062.2 624h0M3060 630h0M3063 636h0M3063.5 642h0M3063.5 648h0M3063.9 654h0M3061.1 660h0M3060.2 666h0M3063.3 672h0M3063 678h0M3061.4 684h0M3061.2 690h0M3060.3 696h0M3063.7 702h0M3061.8 708h0M3063.6 714h0M3061.2 720h0M3061.1 726h0M3068 734h0M3073.3 741.4h0M3075.6 735.4h0M3077.5 729.4h0M3076 723.4h0M3078.9 717.4h0M3078.6 711.4h0M3082.1 705.4h0M3082.7 699.4h0M3082.9 693.4h0M3083.1 687.4h0M3083.8 681.4h0M3088.1 675.4h0M3088.8 669.4h0M3087.5 663.4h0M3087.6 657.4h0M3089.3 651.4h0M3094.3 645.4h0M3090.9 639.4h0M3095.9 633.4h0M3095.7 627.4h0M3097 621.4h0M3099 606h0" fill="none" stroke="#00ffff" stroke-width="11.11" stroke-linecap="round"/>
<path d="M3100 599L3105 600.5L3110 600.2L3115 600.7L3120 601.8L3125 600.6L3130 602.9" fill="none" stroke="#00ffff" stroke-width="4.17" stroke-linejoin="round" stroke-linecap="square"/>
<path d="M3100 599h0M3105 600.5h0M3110 600.2h0M3115 600.7h0M3120 601.8h0M3125 600.6h0M3130 602.9h0" fill="none" stroke="#00ffff" stroke-width="11.11" stroke-linecap="round"/>
<path d="M990.4 867.1L1950.2 946L1950.2 867L1953 885L1954.5 946L1957.7 946L1957.7 856.5L1959 906.5L1963.8 876L1964.4 856.5L1965 835L1967.4 822.5L1968.4 775.2L1969 759.4L1973.5 756.4L1972.9 600" fill="none" stroke="#0000ff" stroke-width="4.17" stroke-linejoin="round" stroke-linecap="square"/>
<path d="M990.4 867.1h0M1950.2 946h0M1950.2 867h0M1953 885h0M1954.5 946h0M1957.7 946h0M1957.7 856.5h0M1959 906.5h0M1963.8 876h0M1964.4 856.5h0M1965 835h0M1967.4 822.5h0M1968.4 775.2h0M1969 759.4h0M1973.5 756.4h0M1972.9 600h0" fill="none" stroke="#0000ff" stroke-width="11.11" stroke-linecap="round"/>
<path d="M1821 589.3L1824.4 588.9L1827.8 587.4L1831.2 587.4L1834.6 583.7L1838 583.6L1841.4 584.9L1844.8 587.7L1848.2 586.5L1851.6 588.9L1855 590.4L1858.4 588.5L1861.8 589.5L1865.2 590.1L1868.6 588.6L1872 586.3L1875.4 585.7L1878.8 584.5L1882.2 587L1885.6 586.9L1889 587.5L1892.4 587.2L1895.8 589.7L1899.2 589.4L1902.6 590.8L1906 588.9L1909.4 590L1912.8 588.3L1916.2 586.4L1919.6 586L1923 586.4L1926.4 585.5L1929.8 587.6L1933.2 585.1L1936.6 589.4L1940 589.7L1943.4 589.5L1946.8 591L1950.2 588.1L1953.6 588L1957 588.3L1960.4 587.7L1963.8 585.3L1967.2 587.1L1970.6 586" fill="none" stroke="#0000ff" stroke-width="4.17" stroke-linejoin="round" stroke-linecap="square"/>
<path d="M1821 589.3h0M1824.4 588.9h0M1827.8 587.4h0M1831.2 587.4h0M1834.6 583.7h0M1838 583.6h0M1841.4 584.9h0M1844.8 587.7h0M1848.2 586.5h0M1851.6 588.9h0M1855 590.4h0M1858.4 588.5h0M1861.8 589.5h0M1865.2 590.1h0M1868.6 588.6h0M1872 586.3h0M1875.4 585.7h0M1878.8 584.5h0M1882.2 587h0M1885.6 586.9h0M1889 587.5h0M1892.4 587.2h0M1895.8 589.7h0M1899.2 589.4h0M1902.6 590.8h0M1906 588.9h0M1909.4 590h0M1912.8 588.3h0M1916.2 586.4h0M1919.6 586h0M1923 586.4h0M1926.4 585.5h0M1929.8 587.6h0M1933.2 585.1h0M1936.6 589.4h0M1940 589.7h0M1943.4 589.5h0M1946.8 591h0M1950.2 588.1h0M1953.6 588h0M1957 588.3h0M1960.4 587.7h0M1963.8 585.3h0M1967.2 587.1h0M1970.6 586h0" fill="none" stroke="#0000ff" stroke-width="11.11" stroke-linecap="round"/>
<path d="M1972 585.6L1973.1 586.7L1974.2 586L1975.3 592.9L1976.4 589.4L1977.5 588.5L1978.6 591.2L1979.7 585.9L1980.8 597.8L1981.9 596.7L1983 592.7L1984.1 591L1985.2 589.1L1986.3 593.3L1987.4 589.6L1988.5 598.7L1989.6 598.5L1990.7 595.1L1991.8 596.6L1992.9 585.4L1994 586.1L1995.1 589.4L1996.2 586.1L1997.3 590.5L1998.4 599L1999.5 596.7L2000.6 598.6L2001.7 587.4L2002.8 587.4L2003.9 584.3L2005 588.1L2006.1 584.8L2007.2 592L2008.3 588.5L2009.4 594.2L2010.5 592.5L2011.6 593L2012.7 588.4L2013.8 595.1L2014.9 594.4L2016 594.8L2017.1 591L2018.2 590.8L2019.3 588L2020.4 584.1L2021.5 590.8L2022.6 593.2L2023.7 586.3L2024.8 597.1L2025.9 597.4L2027 597L2028.1 596.4L2029.2 591.1L2030.3 586L2031.4 587.5L2032.5 595.1L2033.6 599.1L2034.7 584.8L2035.8 583.1L2036.9 588.7L2038 588.7L2039.1 592.8L2040.2 584.7L2041.3 596.8L2042.4 588.4L2043.5 597.9L2044.6 588.2L2045.7 587.8L2046.8 585.6L2047.9 598.9L2049 592.5L2050.1 596.5L2051.2 583.5L2052.3 591.7L2053.4 595L2054.5 599.3L2055.6 598.5L2056.7 584L2057.8 588.6L2058.9 599.7L2060 591.5L2061.1 599L2062.2 586.4L2063.3 582.3L2064.4 598.8L2065.5 586.5L2066.6 591.8L2067.7 588.2L2068.8 592.1L2069.9 598.7L2071 598.9L2072.1 597.7L2073.2 586.1L2074.3 596.6L2075.4 581.5L2076.5 589L2077.6 599L2078.7 585.9L2079.8 588L2080.9 592.1L2082 585.4L2083.1 594.5L2084.2 593.4L2085.3 582.5L2086.4 598.7L2087.5 582L2088.6 594.3L2089.7 587.4L2090.8 583.2L2091.9 581.9L2093 600.3L2094.1 596.3L2095.2 589.4L2096.3 596.2L2097.4 599.8L2098.5 599L2099.6 590.9L2100.7 585.5L2101.8 590.6L2102.9 600.2L2104 594.9L2105.1 593.7L2106.2 597.3L2107.3 588.2L2108.4 591.3L2109.5 597.5L2110.6 583.6L2111.7 597.7L2112.8 579.8L2113.9 590.8L2115 591.6L2116.1 582.2L2117.2 599.1L2118.3 588.6L2119.4 583L2120.5 587.9L2121.6 591.9L2122.7 588.3L2123.8 578.7L2124.9 580.7L2126 594.6L2127.1 581.5L2128.2 584.2L2129.3 596.7L2130.4 598L2131.5 598.4L2132.6 582.2L2133.7 578.3L2134.8 595.5L2135.9 591.9L2137 586.5L2138.1 578.4L2139.2 588L2140.3 583.4L2141.4 591.6L2142.5 600.9L2143.6 582.6L2144.7 579.4L2145.8 594.1L2146.9 580L2148 582.8L2149.1 587.9L2150.2 601.2L2151.3 585.1L2152.4 584.9L2153.5 588.7L2154.6 581L2155.7 586.9L2156.8 594.2L2157.9 584.9L2159 596.6L2160.1 581.4L2161.2 579.3L2162.3 592.4L2163.4 588L2164.5 599.7L2165.6 579.2L2166.7 595.4L2167.8 593.4L2168.9 585.8L2170 579.5L2171.1 591.9L2172.2 595.7L2173.3 588.3L2174.4 588.3L2175.5 593.8L2176.6 591.7L2177.7 586.8L2178.8 580.6L2179.9 587.7L2181 589.9L2182.1 598.8L2183.2 601.2L2184.3 589.8L2185.4 583.8L2186.5 581L2187.6 591.5L2188.7 594.2L2189.8 581.5L2190.9 592.8L2192 600.6L2193.1 584.9L2194.2 598.9L2195.3 585.9L2196.4 591.4L2197.5 596.8L2198.6 579.7L2199.7 583.3L2200.8 599.6L2201.9 576L2203 582.1L2204.1 586.3L2205.2 593.1L2206.3 590.1L2207.4 597.7L2208.5 591L2209.6 573.9L2210.7 575.6L2211.8 574.6L2212.9 584.6L2214 574.2L2215.1 586.8L2216.2 589.5L2217.3 578.5L2218.4 594.9L2219.5 583.7L2220.6 597.4L2221.7 582.1L2222.8 588.7L2223.9 586.6L2225 579.5L2226.1 592.4L2227.2 572.8L2228.3 578.9L2229.4 580.7L2230.5 594.7L2231.6 585L2232.7 573.3L2233.8 579.8L2234.9 587.5L2236 592.4L2237.1 574.8L2238.2 591.5L2239.3 581.7L2240.4 585L2241.5 582.3L2242.6 582.7L2243.7 596.4L2244.8 594.5L2245.9 594.4L2247 589.8L2248.1 588.8L2249.2 574.9L2250.3 572.2L2251.4 591.8L2252.5 587.8L2253.6 586.7L2254.7 578.7L2255.8 577.5L2256.9 593.6L2258 583.9L2259.1 571.2L2260.2 579.1L2261.3 579.3L2262.4 572.3L2263.5 594.7L2264.6 592.8L2265.7 590.7L2266.8 570.8L2267.9 580.9L2269 573.4L2270.1 588.4L2271.2 590.5L2272.3 589.9L2273.4 590L2274.5 573.6L2275.6 571L2276.7 572.9L2277.8 591.2L2278.9 590.8L2280 583.2L2281.1 576.3L2282.2 591.4L2283.3 573.6L2284.4 578.5L2285.5 570.7L2286.6 594.4L2287.7 580.7L2288.8 589.3L2289.9 590L2291 584.6L2292.1 594.4L2293.2 589.3L2294.3 592.9L2295.4 593.8L2296.5 572.6L2297.6 588.6L2298.7 576L2299.8 578.4L2300.9 578.8L2302 594.3L2303.1 572L2304.2 581L2305.3 573.7L2306.4 594.4L2307.5 582.4L2308.6 587.3L2309.7 583L2310.8 588.9L2311.9 578.6L2313 580.4L2314.1 588.3L2315.2 587.3L2316.3 591.6L2317.4 577.9L2318.5 590.7L2319.6 588L2320.7 584.1L2321.8 580.2L2322.9 584L2324 572.4L2325.1 572.9L2326.2 577.9L2327.3 573.5L2328.4 571.7L2329.5 587.4L2330.6 587.7L2331.7 585L2332.8 575.4L2333.9 587.5L2335 589.9L2336.1 585L2337.2 575.9L2338.3 583.7L2339.4 579.8L2340.5 576.8L2341.6 574L2342.7 590.7L2343.8 585.3L2344.9 592.2L2346 574.5L2347.1 576.7L2348.2 582.3L2349.3 571.9L2350.4 577.5L2351.5 583L2352.6 581.7L2353.7 591.5L2354.8 583.8L2355.9 585.2L2357 584L2358.1 588.6L2359.2 578.9L2360.3 570.5L2361.4 593L2362.5 588.7L2363.6 573.4L2364.7 573L2365.8 575.6L2366.9 585.6L2368 573.5L2369.1 570.9L2370.2 581.8L2371.3 570.6L2372.4 576.4L2373.5 579.2L2374.6 575.1L2375.7 570.5L2376.8 576.3L2377.9 576L2379 577.8L2380.1 579.8L2381.2 578.6L2382.3 577.8L2383.4 570.8L2384.5 589.4L2385.6 587.1L2386.7 581.6L2387.8 570.4L2388.9 575.6L2390 590.8L2391.1 580.7L2392.2 575L2393.3 588.9L2394.4 590.5L2395.5 573.1L2396.6 581.6L2397.7 583L2398.8 572.9L2399.9 577.5L2401 584.2L2402.1 585.5L2403.2 584.4L2404.3 584.2L2405.4 578.8L2406.5 571.8L2407.6 570.6L2408.7 589.1L2409.8 589.7L2410.9 590.5L2412 571.9L2413.1 587.5L2414.2 574.1L2415.3 578L2416.4 574.7L2417.5 589.4L2418.6 588.5L2419.7 588.8L2420.8 578.7L2421.9 591.1L2423 576L2424.1 583L2425.2 585.2L2426.3 575.3L2427.4 578.6L2428.5 572.4L2429.6 587.8L2430.7 574.2L2431.8 573.1L2432.9 576.3L2434 584.3L2435.1 584.2L2436.2 581.7L2437.3 589L2438.4 586.7L2439.5 574.7L2440.6 581.9L2441.7 573.8L2442.8 575.4L2443.9 573.3L2445 571.7L2446.1 577.8L2447.2 589.6L2448.3 584.5L2449.4 571.9L2450.5 574.8" fill="none" stroke="#0000ff" stroke-width="11.11" stroke-linejoin="round" stroke-linecap="square"/>
<path d="M1973.6 590L1973.6 757" fill="none" stroke="#0000ff" stroke-width="4.17" stroke-linejoin="round" stroke-linecap="square"/>
<path d="M1973.9 600h0M1973.7 608.5h0M1972.2 617h0M1972.4 625.5h0M1973.8 634h0M1973.9 642.5h0M1972.3 651h0M1974.4 659.5h0M1972.8 668h0M1973.9 676.5h0M1973.7 685h0M1972 755h0M1969 766h0M1973 774h0" fill="none" stroke="#0000ff" stroke-width="11.11" stroke-linecap="round"/>
<path d="M1987.7 590L1987.1 612L1989.5 620.5L1987.3 629L1987.4 637.5L1987.9 646L1989.1 654.5L1989.7 663L1988.8 671.5L1987.9 680L1988.6 688.5L1988.3 697" fill="none" stroke="#0000ff" stroke-width="4.17" stroke-linejoin="round" stroke-linecap="square"/>
<path d="M1987.7 590h0M1987.1 612h0M1989.5 620.5h0M1987.3 629h0M1987.4 637.5h0M1987.9 646h0M1989.1 654.5h0M1989.7 663h0M1988.8 671.5h0M1987.9 680h0M1988.6 688.5h0M1988.3 697h0" fill="none" stroke="#0000ff" stroke-width="11.11" stroke-linecap="round"/>
<path d="M2015.5 590L2015.5 737.5L2018.5 737.5L2018.5 590" fill="none" stroke="#0000ff" stroke-width="4.17" stroke-linejoin="round" stroke-linecap="square"/>
<path d="M2018.4 611h0M2018.4 619h0M2017.8 627h0M2016.1 633h0M2017.2 698h0M2016.8 706h0M2016.2 714h0M2017.8 722h0M2016.2 730h0M2017.6 738h0" fill="none" stroke="#0000ff" stroke-width="11.11" stroke-linecap="round"/>
<path d="M1997.9 614.8h0M2009.5 627.9h0M2024.5 640h0M2014.4 607.6h0M2007.5 617.8h0M2021.8 615.7h0M1990.9 597.1h0M1996.9 619.4h0M1988.3 600.6h0M1997.7 599.1h0M1981.1 615.5h0M1990.5 618h0M2000.1 613.1h0M1979.1 596.8h0M2001.6 638.7h0M1986.9 611.5h0M1988.9 628.7h0M1998.1 631h0M1972.3 601.8h0M1982.9 612.2h0M1993.2 613h0M2023.2 615.3h0M2002.5 638.4h0M2006 622.2h0M2015.9 610.7h0M1973.9 638.1h0M2000.3 621.6h0M1975.5 628.8h0M1991.8 624.3h0M1987 636.4h0M1991.5 608.1h0M2019.4 605.8h0M1986.4 617.4h0M2024 601.1h0M1983.2 631h0M1976 614.2h0M2013.5 627.4h0M2014 601.2h0M2019.2 611.7h0M2015.2 616.8h0" fill="none" stroke="#0000ff" stroke-width="11.11" stroke-linecap="round"/>
<path d="M2235 605.7h0M2089.3 601.8h0M2144.2 600.6h0M2067.7 610.5h0M2162 610.4h0M2064.7 605.8h0M2137.8 601.3h0M2090.6 611.1h0M2196.4 606.1h0M2170.2 610.3h0M2249.4 607.1h0M2041.6 610.5h0M2067.9 602.9h0M2061.5 606.1h0" fill="none" stroke="#0000ff" stroke-width="11.11" stroke-linecap="round"/>
<path d="M2451 589.1L2631 590" fill="none" stroke="#0000ff" stroke-width="4.17" stroke-linejoin="round" stroke-linecap="square"/>
<path d="M2631 593.9L2632.5 594.1L2634 585.8L2635.5 590.1L2637 587.1L2638.5 586L2640 589.2L2641.5 588L2643 583.3L2644.5 583.2L2646 581.7L2647.5 583.6L2649 583.7L2650.5 586.7L2652 585.9L2653.5 584.9L2655 583.2L2656.5 589.2L2658 592.1L2659.5 589.5L2661 588.7L2662.5 585.1L2664 580.5L2665.5 581.4L2667 579.2L2668.5 583.5L2670 580.7L2671.5 582.8L2673 577L2674.5 577L2676 584.5L2677.5 578.2L2679 583L2680.5 588.4L2682 581.8L2683.5 588L2685 587.7L2686.5 584.7L2688 579.4L2689.5 573.9L2691 582.6L2692.5 582.7L2694 588.6L2695.5 586.3L2697 581.9L2698.5 582.9L2700 590.6L2701.5 585.4L2703 586.8L2704.5 588.1L2706 587.9L2707.5 585.7L2709 584.9L2710.5 590.4L2712 588.7L2713.5 585.6L2715 590.6L2716.5 593.2L2718 588.6L2719.5 589.2L2721 590L2722.5 593.6L2724 589.5L2725.5 585.4L2727 588.6L2728.5 586.2L2730 588.1L2731.5 590.3L2733 581.9L2734.5 586.3L2736 587.4L2737.5 589.9L2739 591.3L2740.5 588.1L2742 591.2L2743.5 588.1L2745 586.4L2746.5 588.7L2748 590.3L2749.5 587.5L2751 592.5L2752.5 590.1L2754 590.7L2755.5 589.8L2757 595.1L2758.5 595.7L2760 597.2L2761.5 591L2763 587.5L2764.5 592.6L2766 586.4L2767.5 593.9" fill="none" stroke="#0000ff" stroke-width="11.11" stroke-linejoin="round" stroke-linecap="square"/>
<path d="M2765.2 575L2765.2 807.8L2770.4 791.2L2768.9 803L2765.7 807.8L2765.7 818.8L2768.9 826.7L2765.7 831.5L2767.8 849L2768.3 860.9L2770.4 791.2L2770.4 575" fill="none" stroke="#0000ff" stroke-width="4.17" stroke-linejoin="round" stroke-linecap="square"/>
<path d="M2765.2 807.8h0M2770.4 791.2h0M2768.9 803h0M2765.7 807.8h0M2765.7 818.8h0M2768.9 826.7h0M2765.7 831.5h0M2767.8 849h0M2768.3 860.9h0M2770.4 791.2h0" fill="none" stroke="#0000ff" stroke-width="11.11" stroke-linecap="round"/>
<path d="M2778 575L2778 870.9L2778.8 914.8L2781 926.6L2783.6 889.8L2783.6 880L2784.6 870.9L2784.6 853.5L2790.7 829.4L2790.7 821.5L2788.8 803L2788 792.6L2786.2 778L2783.6 790L2783.6 575" fill="none" stroke="#0000ff" stroke-width="4.17" stroke-linejoin="round" stroke-linecap="square"/>
<path d="M2778 870.9h0M2778.8 914.8h0M2781 926.6h0M2783.6 889.8h0M2783.6 880h0M2784.6 870.9h0M2784.6 853.5h0M2790.7 829.4h0M2790.7 821.5h0M2788.8 803h0M2788 792.6h0M2786.2 778h0M2783.6 790h0" fill="none" stroke="#0000ff" stroke-width="11.11" stroke-linecap="round"/>
<path d="M2775.5 575h0M2770.7 584h0M2772.2 593h0M2775.6 602h0M2768.2 611h0M2771.1 620h0M2777 629h0M2775.5 638h0M2774.2 647h0M2767.4 656h0M2769 665h0M2769.6 674h0M2766.4 683h0M2775 692h0" fill="none" stroke="#0000ff" stroke-width="11.11" stroke-linecap="round"/>
</g>
<rect x="165.0" y="67.0" width="3100.0" height="1078.0" fill="none" stroke="#000" stroke-width="2.22" stroke-linejoin="miter"/>
<line x1="306.00" y1="1145.0" x2="306.00" y2="1154.72" stroke="#000" stroke-width="2.22"/>
<text x="306.00" y="1191.3" text-anchor="middle">0</text>
<line x1="918.00" y1="1145.0" x2="918.00" y2="1154.72" stroke="#000" stroke-width="2.22"/>
<text x="918.00" y="1191.3" text-anchor="middle">50</text>
<line x1="1530.00" y1="1145.0" x2="1530.00" y2="1154.72" stroke="#000" stroke-width="2.22"/>
<text x="1530.00" y="1191.3" text-anchor="middle">100</text>
<line x1="2142.00" y1="1145.0" x2="2142.00" y2="1154.72" stroke="#000" stroke-width="2.22"/>
<text x="2142.00" y="1191.3" text-anchor="middle">150</text>
<line x1="2754.00" y1="1145.0" x2="2754.00" y2="1154.72" stroke="#000" stroke-width="2.22"/>
<text x="2754.00" y="1191.3" text-anchor="middle">200</text>
<line x1="165.0" y1="1145.00" x2="155.28" y2="1145.00" stroke="#000" stroke-width="2.22"/>
<text x="145.0" y="1158.80" text-anchor="end">−0.4</text>
<line x1="165.0" y1="1010.25" x2="155.28" y2="1010.25" stroke="#000" stroke-width="2.22"/>
<text x="145.0" y="1024.05" text-anchor="end">−0.3</text>
<line x1="165.0" y1="875.50" x2="155.28" y2="875.50" stroke="#000" stroke-width="2.22"/>
<text x="145.0" y="889.30" text-anchor="end">−0.2</text>
<line x1="165.0" y1="740.75" x2="155.28" y2="740.75" stroke="#000" stroke-width="2.22"/>
<text x="145.0" y="754.55" text-anchor="end">−0.1</text>
<line x1="165.0" y1="606.00" x2="155.28" y2="606.00" stroke="#000" stroke-width="2.22"/>
<text x="145.0" y="619.80" text-anchor="end">0.0</text>
<line x1="165.0" y1="471.25" x2="155.28" y2="471.25" stroke="#000" stroke-width="2.22"/>
<text x="145.0" y="485.05" text-anchor="end">0.1</text>
<line x1="165.0" y1="336.50" x2="155.28" y2="336.50" stroke="#000" stroke-width="2.22"/>
<text x="145.0" y="350.30" text-anchor="end">0.2</text>
<line x1="165.0" y1="201.75" x2="155.28" y2="201.75" stroke="#000" stroke-width="2.22"/>
<text x="145.0" y="215.55" text-anchor="end">0.3</text>
<line x1="165.0" y1="67.00" x2="155.28" y2="67.00" stroke="#000" stroke-width="2.22"/>
<text x="145.0" y="80.80" text-anchor="end">0.4</text>
<text x="1715" y="51" text-anchor="middle" style="font-size:40px">E2</text>
<text x="1715" y="1234.6" text-anchor="middle">Azimuth (deg)</text>
<text transform="translate(45,607.9) rotate(-90)" text-anchor="middle">Abberations, labaoX+Y, M7, DICHR</text>
<rect x="182.55" y="84.45" width="233.85" height="507.0" rx="6.67" ry="6.67" fill="#fff" fill-opacity="0.8" stroke="#ccc" stroke-opacity="0.8" stroke-width="2.78"/>
<path d="M229.2 103.8L220.9 120.4L237.5 120.4Z" fill="#000000" stroke="#000000" stroke-width="2.78" stroke-linejoin="miter"/>
<text x="289.2" y="123.6">Astig1</text>
<line x1="195.9" y1="161.8" x2="262.6" y2="161.8" stroke="#000000" stroke-width="4.17" stroke-linecap="square"/>
<circle cx="229.2" cy="161.8" r="5.56" fill="#000000"/>
<text x="289.2" y="173.3">Astig2</text>
<path d="M229.2 203.2L220.9 219.9L237.5 219.9Z" fill="#ffa500" stroke="#ffa500" stroke-width="2.78" stroke-linejoin="miter"/>
<text x="289.2" y="223.0">coma1</text>
<line x1="195.9" y1="261.3" x2="262.6" y2="261.3" stroke="#ffa500" stroke-width="4.17" stroke-linecap="square"/>
<circle cx="229.2" cy="261.3" r="5.56" fill="#ffa500"/>
<text x="289.2" y="272.8">coma2</text>
<path d="M229.2 302.6L220.9 319.3L237.5 319.3Z" fill="#a52a2a" stroke="#a52a2a" stroke-width="2.78" stroke-linejoin="miter"/>
<text x="289.2" y="322.5">labaoX</text>
<line x1="195.9" y1="360.7" x2="262.6" y2="360.7" stroke="#a52a2a" stroke-width="4.17" stroke-linecap="square"/>
<circle cx="229.2" cy="360.7" r="5.56" fill="#a52a2a"/>
<text x="289.2" y="372.2">labaoY</text>
<path d="M229.2 402.1L220.9 418.8L237.5 418.8Z" fill="#00ffff" stroke="#00ffff" stroke-width="2.78" stroke-linejoin="miter"/>
<text x="289.2" y="421.9">wfsX</text>
<line x1="195.9" y1="460.1" x2="262.6" y2="460.1" stroke="#00ffff" stroke-width="4.17" stroke-linecap="square"/>
<circle cx="229.2" cy="460.1" r="5.56" fill="#00ffff"/>
<text x="289.2" y="471.6">wfsY</text>
<line x1="195.9" y1="509.9" x2="262.6" y2="509.9" stroke="#0000ff" stroke-width="4.17" stroke-linecap="square"/>
<circle cx="229.2" cy="509.9" r="5.56" fill="#0000ff"/>
<text x="289.2" y="521.4">Focus</text>
<path d="M229.2 551.2L231.1 557.0L237.1 557.0L232.2 560.6L234.1 566.3L229.2 562.8L224.3 566.3L226.2 560.6L221.3 557.0L227.3 557.0Z" fill="#0000ff" stroke="#0000ff" stroke-width="3.4" stroke-linejoin="bevel"/>
<text x="289.2" y="571.1">FLUX</text>
</svg></body></html>
